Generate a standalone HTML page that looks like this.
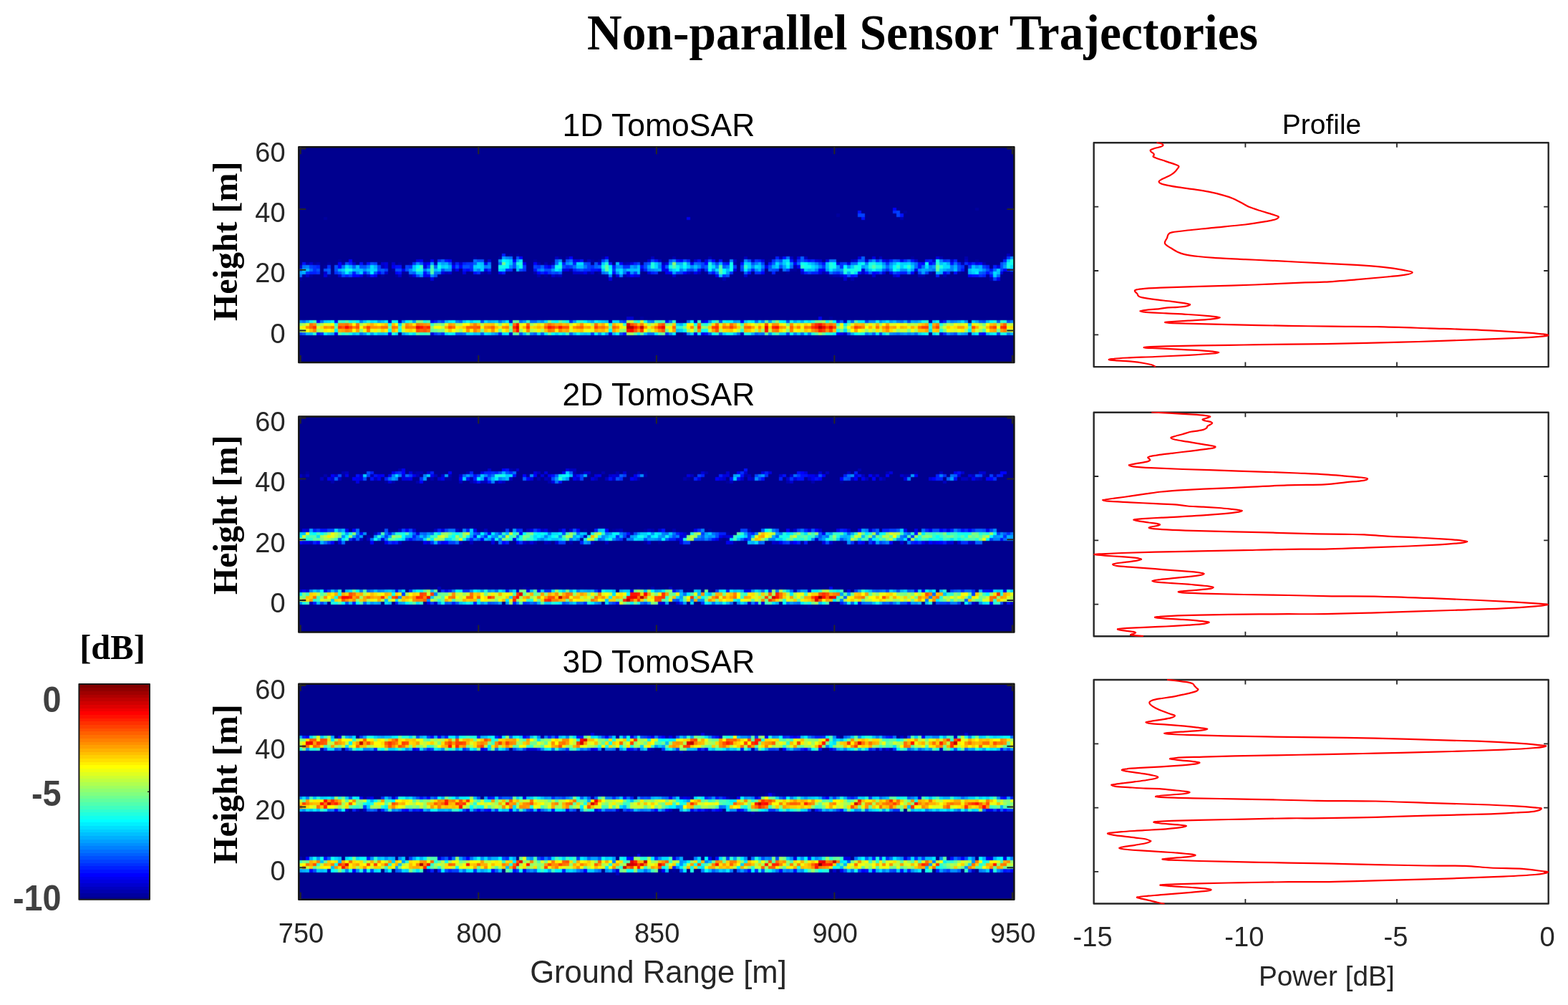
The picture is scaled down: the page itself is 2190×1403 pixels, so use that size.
<!DOCTYPE html>
<html lang="en"><head><meta charset="utf-8"><title>Non-parallel Sensor Trajectories</title>
<style>html,body{margin:0;padding:0;background:#fff}body{width:2190px;height:1403px;overflow:hidden}svg{display:block}.s{font-family:"Liberation Sans", Arial, Helvetica, sans-serif}.t{font-family:"Liberation Serif", "Times New Roman", Times, serif;font-weight:bold}</style></head><body>
<svg width="2190" height="1403" viewBox="0 0 2190 1403">
<rect width="2190" height="1403" fill="#fff"/>
<defs><filter id="soft" x="-2%" y="-20%" width="104%" height="140%" color-interpolation-filters="sRGB"><feConvolveMatrix order="3" kernelMatrix="0.0225 0.105 0.0225 0.105 0.49 0.105 0.0225 0.105 0.0225" divisor="1" edgeMode="none"/></filter></defs>
<text class="t" x="820" y="68.5" font-size="69" textLength="937" lengthAdjust="spacingAndGlyphs" fill="#000">Non-parallel Sensor Trajectories</text>
<g>
<rect x="417.3" y="205.3" width="999.1" height="300.7" fill="#00008f"/>
<g filter="url(#soft)"><g transform="translate(417.30 205.30) scale(4.9706 4.2352)" shape-rendering="crispEdges">
<path fill="#00009f" d="M190 20h1v1h-1zM170 21h1v1h-1zM151 22h1v1h-1zM7 23h1v1h-1zM59 35h1v1h-1zM61 35h1v1h-1zM49 36h1v1h-1zM56 36h1v1h-1zM73 36h1v1h-1zM85 36h1v1h-1zM172 36h1v1h-1zM198 36h1v1h-1zM11 37h1v1h-1zM66 37h1v1h-1zM82 37h1v1h-1zM84 37h1v1h-1zM124 37h1v1h-1zM132 37h1v1h-1zM190 37h1v1h-1zM4 38h1v1h-1zM8 38h1v1h-1zM18 38h1v1h-1zM28 38h1v1h-1zM31 38h1v1h-1zM7 39h1v1h-1zM26 40h1v1h-1zM138 40h2v1h-2zM29 41h2v1h-2zM52 41h1v1h-1zM84 41h1v1h-1zM114 41h1v1h-1zM137 41h1v1h-1zM185 41h1v1h-1zM200 41h1v1h-1zM1 42h1v1h-1zM3 42h1v1h-1zM8 42h1v1h-1zM18 42h1v1h-1zM23 42h1v1h-1zM27 42h1v1h-1zM69 42h1v1h-1zM86 42h1v1h-1zM149 42h1v1h-1zM193 42h1v1h-1zM0 43h1v1h-1zM96 56h1v1h-1zM149 56h1v1h-1zM107 57h1v1h-1zM188 61h1v1h-1z"/>
<path fill="#0000af" d="M169 23h1v1h-1zM75 36h1v1h-1zM105 36h1v1h-1zM115 36h1v1h-1zM135 36h1v1h-1zM180 36h1v1h-1zM187 36h1v1h-1zM139 37h1v1h-1zM2 38h1v1h-1zM5 38h1v1h-1zM12 38h1v1h-1zM67 38h1v1h-1zM69 38h1v1h-1zM71 38h1v1h-1zM91 38h1v1h-1zM122 38h1v1h-1zM186 38h1v1h-1zM192 38h1v1h-1zM139 39h1v1h-1zM43 40h1v1h-1zM76 40h1v1h-1zM113 40h1v1h-1zM51 41h1v1h-1zM66 41h1v1h-1zM81 41h1v1h-1zM110 41h1v1h-1zM147 41h1v1h-1zM177 41h1v1h-1zM31 42h1v1h-1zM67 42h1v1h-1zM72 42h1v1h-1zM91 42h1v1h-1zM150 42h2v1h-2zM174 42h2v1h-2zM181 42h1v1h-1zM119 43h1v1h-1zM155 43h1v1h-1zM194 43h1v1h-1zM106 57h1v1h-1zM177 57h1v1h-1zM108 61h1v1h-1z"/>
<path fill="#0000bf" d="M199 35h1v1h-1zM72 36h1v1h-1zM99 36h1v1h-1zM125 36h1v1h-1zM138 36h1v1h-1zM142 36h1v1h-1zM163 36h1v1h-1zM81 37h1v1h-1zM101 37h1v1h-1zM122 37h1v1h-1zM127 37h1v1h-1zM155 37h1v1h-1zM187 37h1v1h-1zM38 38h1v1h-1zM43 38h1v1h-1zM92 38h1v1h-1zM102 38h1v1h-1zM23 39h1v1h-1zM41 41h1v1h-1zM53 41h1v1h-1zM112 41h1v1h-1zM19 42h1v1h-1zM73 42h1v1h-1zM87 57h1v1h-1zM111 57h1v1h-1zM153 57h1v1h-1zM124 61h1v1h-1zM153 61h1v1h-1z"/>
<path fill="#0000cf" d="M53 37h1v1h-1zM98 37h1v1h-1zM111 37h1v1h-1zM146 37h1v1h-1zM156 37h1v1h-1zM159 37h1v1h-1zM165 37h1v1h-1zM173 37h1v1h-1zM178 37h1v1h-1zM183 37h1v1h-1zM3 38h1v1h-1zM15 38h1v1h-1zM23 38h1v1h-1zM26 38h1v1h-1zM45 38h1v1h-1zM0 39h1v1h-1zM96 40h1v1h-1zM7 41h1v1h-1zM24 41h1v1h-1zM42 41h1v1h-1zM77 41h3v1h-3zM82 41h1v1h-1zM109 41h1v1h-1zM141 41h1v1h-1zM148 41h1v1h-1zM158 41h1v1h-1zM2 42h1v1h-1zM11 42h1v1h-1zM28 42h1v1h-1zM71 42h1v1h-1zM92 42h1v1h-1zM105 42h1v1h-1zM125 42h1v1h-1zM152 42h1v1h-1zM161 42h1v1h-1zM167 42h1v1h-1zM153 43h1v1h-1zM92 56h2v1h-2zM25 57h1v1h-1zM28 57h1v1h-1zM113 57h1v1h-1zM59 61h1v1h-1zM180 61h1v1h-1z"/>
<path fill="#0000df" d="M140 36h1v1h-1zM157 36h1v1h-1zM161 36h1v1h-1zM179 36h1v1h-1zM33 37h1v1h-1zM78 37h1v1h-1zM114 37h1v1h-1zM130 37h1v1h-1zM145 37h1v1h-1zM148 37h1v1h-1zM24 38h1v1h-1zM35 38h1v1h-1zM84 38h1v1h-1zM93 38h1v1h-1zM103 38h1v1h-1zM151 38h1v1h-1zM154 38h1v1h-1zM190 38h1v1h-1zM24 39h1v1h-1zM35 39h1v1h-1zM196 39h1v1h-1zM74 40h2v1h-2zM122 40h1v1h-1zM158 40h1v1h-1zM40 41h1v1h-1zM46 41h1v1h-1zM98 41h1v1h-1zM146 41h1v1h-1zM164 41h1v1h-1zM197 41h1v1h-1zM7 42h1v1h-1zM17 42h1v1h-1zM32 42h1v1h-1zM89 42h1v1h-1zM94 42h2v1h-2zM37 43h1v1h-1zM87 43h1v1h-1zM59 57h1v1h-1zM180 57h1v1h-1zM37 61h1v1h-1zM87 61h1v1h-1zM111 61h1v1h-1z"/>
<path fill="#0000ef" d="M109 23h1v1h-1zM86 36h1v1h-1zM34 37h1v1h-1zM37 37h1v1h-1zM77 37h1v1h-1zM164 37h1v1h-1zM169 37h1v1h-1zM52 38h1v1h-1zM63 38h1v1h-1zM110 38h1v1h-1zM188 38h1v1h-1zM26 39h1v1h-1zM70 39h1v1h-1zM102 39h1v1h-1zM131 39h1v1h-1zM140 39h1v1h-1zM29 40h1v1h-1zM44 40h1v1h-1zM52 40h1v1h-1zM102 40h2v1h-2zM147 40h1v1h-1zM173 40h1v1h-1zM56 41h1v1h-1zM80 41h1v1h-1zM92 41h1v1h-1zM103 41h1v1h-1zM111 41h1v1h-1zM166 41h1v1h-1zM181 41h1v1h-1zM21 42h1v1h-1zM35 42h2v1h-2zM117 42h1v1h-1zM153 42h1v1h-1zM168 42h1v1h-1zM196 43h1v1h-1zM146 56h1v1h-1zM37 57h1v1h-1zM10 61h1v1h-1zM113 61h1v1h-1zM152 61h1v1h-1z"/>
<path fill="#0000ff" d="M167 20h1v1h-1zM62 36h1v1h-1zM76 36h1v1h-1zM14 37h1v1h-1zM42 37h1v1h-1zM60 37h1v1h-1zM107 37h1v1h-1zM116 37h1v1h-1zM11 38h1v1h-1zM36 38h1v1h-1zM66 38h1v1h-1zM90 38h1v1h-1zM114 38h1v1h-1zM139 38h1v1h-1zM175 38h1v1h-1zM177 38h1v1h-1zM191 38h1v1h-1zM11 39h1v1h-1zM43 39h1v1h-1zM45 39h1v1h-1zM47 40h1v1h-1zM84 40h1v1h-1zM146 40h1v1h-1zM198 40h1v1h-1zM22 41h1v1h-1zM27 41h1v1h-1zM67 41h1v1h-1zM69 41h1v1h-1zM104 41h1v1h-1zM108 41h1v1h-1zM130 41h1v1h-1zM161 41h1v1h-1zM172 41h1v1h-1zM15 42h2v1h-2zM93 42h1v1h-1zM188 42h1v1h-1zM5 57h1v1h-1zM114 57h1v1h-1zM124 57h1v1h-1zM25 61h1v1h-1zM151 61h1v1h-1zM192 61h1v1h-1z"/>
<path fill="#0010ff" d="M157 21h1v1h-1zM169 22h1v1h-1zM158 23h1v1h-1zM136 36h1v1h-1zM41 37h1v1h-1zM79 37h1v1h-1zM100 37h1v1h-1zM106 37h1v1h-1zM112 37h1v1h-1zM118 37h1v1h-1zM138 37h1v1h-1zM143 37h1v1h-1zM172 37h1v1h-1zM176 37h1v1h-1zM1 38h1v1h-1zM17 38h1v1h-1zM19 38h1v1h-1zM120 38h1v1h-1zM124 38h1v1h-1zM132 38h1v1h-1zM147 38h1v1h-1zM174 38h1v1h-1zM183 38h1v1h-1zM27 39h2v1h-2zM69 39h1v1h-1zM96 39h1v1h-1zM174 39h1v1h-1zM46 40h1v1h-1zM66 40h1v1h-1zM82 40h2v1h-2zM112 40h1v1h-1zM141 40h1v1h-1zM186 40h1v1h-1zM194 40h1v1h-1zM28 41h1v1h-1zM35 41h1v1h-1zM49 41h1v1h-1zM88 41h1v1h-1zM116 41h1v1h-1zM126 41h1v1h-1zM157 41h1v1h-1zM159 41h1v1h-1zM162 41h1v1h-1zM184 41h1v1h-1zM193 41h1v1h-1zM20 42h1v1h-1zM155 42h1v1h-1zM189 42h2v1h-2zM194 42h1v1h-1zM10 57h1v1h-1zM103 57h1v1h-1zM5 61h1v1h-1zM91 61h1v1h-1zM114 61h1v1h-1zM191 61h1v1h-1z"/>
<path fill="#0020ff" d="M57 35h1v1h-1zM134 36h1v1h-1zM109 37h1v1h-1zM129 37h1v1h-1zM144 37h1v1h-1zM166 37h1v1h-1zM177 37h1v1h-1zM184 37h1v1h-1zM198 37h1v1h-1zM14 38h1v1h-1zM44 38h1v1h-1zM46 38h1v1h-1zM74 38h1v1h-1zM77 38h1v1h-1zM87 38h1v1h-1zM94 38h1v1h-1zM119 38h1v1h-1zM185 38h1v1h-1zM189 38h1v1h-1zM5 39h1v1h-1zM88 39h1v1h-1zM193 39h1v1h-1zM195 39h1v1h-1zM48 40h1v1h-1zM77 40h1v1h-1zM97 40h1v1h-1zM127 40h1v1h-1zM199 40h1v1h-1zM3 41h2v1h-2zM15 41h1v1h-1zM18 41h1v1h-1zM57 41h1v1h-1zM68 41h1v1h-1zM99 41h1v1h-1zM133 41h1v1h-1zM142 41h1v1h-1zM144 41h2v1h-2zM169 41h2v1h-2zM13 42h1v1h-1zM156 42h1v1h-1zM179 42h1v1h-1zM192 42h1v1h-1zM38 57h1v1h-1zM151 57h1v1h-1zM181 57h1v1h-1zM56 61h1v1h-1z"/>
<path fill="#0030ff" d="M167 21h1v1h-1zM199 36h1v1h-1zM39 37h1v1h-1zM128 37h1v1h-1zM133 37h1v1h-1zM140 37h1v1h-1zM142 37h1v1h-1zM162 37h1v1h-1zM170 37h1v1h-1zM181 37h1v1h-1zM32 38h1v1h-1zM47 38h2v1h-2zM152 38h1v1h-1zM165 38h1v1h-1zM178 38h1v1h-1zM187 38h1v1h-1zM4 39h1v1h-1zM8 39h1v1h-1zM31 39h1v1h-1zM48 39h1v1h-1zM67 39h1v1h-1zM75 39h1v1h-1zM82 39h1v1h-1zM91 39h2v1h-2zM152 39h1v1h-1zM186 39h1v1h-1zM4 40h1v1h-1zM53 40h1v1h-1zM58 40h2v1h-2zM63 40h1v1h-1zM80 40h2v1h-2zM114 40h1v1h-1zM165 40h1v1h-1zM2 41h1v1h-1zM5 41h1v1h-1zM10 41h1v1h-1zM50 41h1v1h-1zM70 41h1v1h-1zM100 41h1v1h-1zM121 41h1v1h-1zM128 41h2v1h-2zM151 41h1v1h-1zM168 41h1v1h-1zM182 41h1v1h-1zM119 42h1v1h-1zM191 42h1v1h-1zM76 57h1v1h-1zM6 61h1v1h-1zM40 61h1v1h-1zM103 61h1v1h-1zM181 61h1v1h-1z"/>
<path fill="#0040ff" d="M168 21h1v1h-1zM157 22h2v1h-2zM168 22h1v1h-1zM85 37h1v1h-1zM99 37h1v1h-1zM182 37h1v1h-1zM21 38h1v1h-1zM81 38h1v1h-1zM95 38h1v1h-1zM97 38h1v1h-1zM113 38h1v1h-1zM117 38h1v1h-1zM130 38h1v1h-1zM146 38h1v1h-1zM153 38h1v1h-1zM3 39h1v1h-1zM22 39h1v1h-1zM30 39h1v1h-1zM36 39h1v1h-1zM63 39h1v1h-1zM66 39h1v1h-1zM71 39h1v1h-1zM76 39h1v1h-1zM81 39h1v1h-1zM113 39h1v1h-1zM122 39h1v1h-1zM147 39h1v1h-1zM188 39h1v1h-1zM192 39h1v1h-1zM24 40h1v1h-1zM78 40h1v1h-1zM88 40h1v1h-1zM110 40h1v1h-1zM124 40h1v1h-1zM130 40h1v1h-1zM134 40h1v1h-1zM137 40h1v1h-1zM197 40h1v1h-1zM23 41h1v1h-1zM72 41h1v1h-1zM94 41h1v1h-1zM106 41h2v1h-2zM115 41h1v1h-1zM143 41h1v1h-1zM150 41h1v1h-1zM163 41h1v1h-1zM174 41h1v1h-1zM176 41h1v1h-1zM12 42h1v1h-1zM14 42h1v1h-1zM195 43h1v1h-1zM40 57h1v1h-1zM91 57h1v1h-1zM159 57h1v1h-1zM171 57h1v1h-1zM0 61h1v1h-1zM38 61h1v1h-1zM82 61h1v1h-1zM137 61h1v1h-1zM163 61h1v1h-1zM196 61h1v1h-1z"/>
<path fill="#0050ff" d="M61 36h1v1h-1zM50 37h2v1h-2zM75 37h1v1h-1zM104 37h1v1h-1zM108 37h1v1h-1zM115 37h1v1h-1zM126 37h1v1h-1zM135 37h1v1h-1zM168 37h1v1h-1zM13 38h1v1h-1zM20 38h1v1h-1zM34 38h1v1h-1zM60 38h1v1h-1zM80 38h1v1h-1zM83 38h1v1h-1zM127 38h1v1h-1zM197 38h1v1h-1zM10 39h1v1h-1zM17 39h2v1h-2zM44 39h1v1h-1zM46 39h2v1h-2zM60 39h1v1h-1zM74 39h1v1h-1zM97 39h1v1h-1zM124 39h1v1h-1zM132 39h1v1h-1zM135 39h1v1h-1zM185 39h1v1h-1zM197 39h1v1h-1zM5 40h1v1h-1zM7 40h1v1h-1zM10 40h1v1h-1zM22 40h1v1h-1zM27 40h2v1h-2zM30 40h1v1h-1zM40 40h1v1h-1zM62 40h1v1h-1zM69 40h2v1h-2zM79 40h1v1h-1zM109 40h1v1h-1zM133 40h1v1h-1zM185 40h1v1h-1zM193 40h1v1h-1zM8 41h1v1h-1zM11 41h1v1h-1zM21 41h1v1h-1zM71 41h1v1h-1zM167 41h1v1h-1zM192 41h1v1h-1zM194 41h1v1h-1zM33 42h1v1h-1zM38 42h1v1h-1zM120 42h1v1h-1zM154 42h1v1h-1zM51 57h1v1h-1zM118 57h1v1h-1zM137 57h1v1h-1zM192 57h1v1h-1zM199 57h1v1h-1zM62 61h1v1h-1zM90 61h1v1h-1zM118 61h1v1h-1zM154 61h1v1h-1zM184 61h1v1h-1z"/>
<path fill="#0060ff" d="M141 36h1v1h-1zM158 36h1v1h-1zM40 37h1v1h-1zM72 37h1v1h-1zM141 37h1v1h-1zM157 37h2v1h-2zM160 37h1v1h-1zM167 37h1v1h-1zM171 37h1v1h-1zM42 38h1v1h-1zM49 38h1v1h-1zM56 38h1v1h-1zM98 38h1v1h-1zM112 38h1v1h-1zM133 38h1v1h-1zM15 39h1v1h-1zM38 39h1v1h-1zM68 39h1v1h-1zM83 39h1v1h-1zM103 39h1v1h-1zM114 39h1v1h-1zM119 39h1v1h-1zM0 40h1v1h-1zM8 40h1v1h-1zM23 40h1v1h-1zM132 40h1v1h-1zM164 40h1v1h-1zM32 41h1v1h-1zM36 41h1v1h-1zM73 41h1v1h-1zM125 41h1v1h-1zM152 41h1v1h-1zM160 41h1v1h-1zM191 41h1v1h-1zM39 57h1v1h-1zM45 57h1v1h-1zM90 57h1v1h-1zM152 57h1v1h-1zM191 57h1v1h-1zM196 57h1v1h-1zM1 61h1v1h-1zM39 61h1v1h-1zM44 61h2v1h-2zM51 61h1v1h-1zM66 61h1v1h-1zM68 61h1v1h-1zM76 61h1v1h-1zM115 61h1v1h-1zM128 61h1v1h-1zM161 61h1v1h-1z"/>
<path fill="#0070ff" d="M59 36h1v1h-1zM137 36h1v1h-1zM49 37h1v1h-1zM76 37h1v1h-1zM134 37h1v1h-1zM149 37h2v1h-2zM163 37h1v1h-1zM53 38h1v1h-1zM72 38h1v1h-1zM111 38h1v1h-1zM140 38h1v1h-1zM155 38h2v1h-2zM173 38h1v1h-1zM184 38h1v1h-1zM1 39h1v1h-1zM12 39h1v1h-1zM77 39h1v1h-1zM84 39h1v1h-1zM138 39h1v1h-1zM165 39h1v1h-1zM173 39h1v1h-1zM175 39h1v1h-1zM3 40h1v1h-1zM35 40h1v1h-1zM67 40h1v1h-1zM136 40h1v1h-1zM178 40h1v1h-1zM195 40h1v1h-1zM200 40h1v1h-1zM19 41h1v1h-1zM31 41h1v1h-1zM38 41h2v1h-2zM85 41h1v1h-1zM91 41h1v1h-1zM117 41h1v1h-1zM149 41h1v1h-1zM0 42h1v1h-1zM196 42h1v1h-1zM1 57h1v1h-1zM6 57h1v1h-1zM56 57h1v1h-1zM62 57h1v1h-1zM65 57h2v1h-2zM104 57h1v1h-1zM109 57h1v1h-1zM128 57h1v1h-1zM155 57h1v1h-1zM169 57h1v1h-1zM17 61h1v1h-1zM46 61h1v1h-1zM98 61h2v1h-2zM123 61h1v1h-1zM130 61h1v1h-1zM141 61h1v1h-1zM168 61h1v1h-1zM173 61h1v1h-1zM183 61h1v1h-1z"/>
<path fill="#0080ff" d="M58 36h1v1h-1zM105 37h1v1h-1zM121 37h1v1h-1zM180 37h1v1h-1zM128 38h1v1h-1zM145 38h1v1h-1zM159 38h1v1h-1zM198 38h1v1h-1zM2 39h1v1h-1zM19 39h1v1h-1zM52 39h1v1h-1zM80 39h1v1h-1zM94 39h1v1h-1zM101 39h1v1h-1zM117 39h1v1h-1zM120 39h1v1h-1zM130 39h1v1h-1zM146 39h1v1h-1zM177 39h1v1h-1zM183 39h1v1h-1zM50 40h1v1h-1zM98 40h1v1h-1zM107 40h1v1h-1zM111 40h1v1h-1zM116 40h1v1h-1zM145 40h1v1h-1zM166 40h1v1h-1zM183 40h1v1h-1zM171 41h1v1h-1zM87 42h1v1h-1zM90 42h1v1h-1zM17 57h1v1h-1zM44 57h1v1h-1zM99 57h1v1h-1zM168 57h1v1h-1zM183 57h1v1h-1zM200 57h1v1h-1zM65 61h1v1h-1zM129 61h1v1h-1zM139 61h1v1h-1zM143 61h1v1h-1zM159 61h1v1h-1zM167 61h1v1h-1zM171 61h1v1h-1zM199 61h1v1h-1z"/>
<path fill="#008fff" d="M200 36h1v1h-1zM73 37h1v1h-1zM86 37h1v1h-1zM125 37h1v1h-1zM33 38h1v1h-1zM75 38h1v1h-1zM101 38h1v1h-1zM116 38h1v1h-1zM135 38h1v1h-1zM138 38h1v1h-1zM164 38h1v1h-1zM166 38h1v1h-1zM53 39h1v1h-1zM59 39h1v1h-1zM89 39h2v1h-2zM110 39h1v1h-1zM112 39h1v1h-1zM127 39h1v1h-1zM154 39h1v1h-1zM190 39h1v1h-1zM18 40h1v1h-1zM31 40h1v1h-1zM41 40h2v1h-2zM68 40h1v1h-1zM91 40h1v1h-1zM99 40h1v1h-1zM126 40h1v1h-1zM128 40h1v1h-1zM151 40h1v1h-1zM159 40h1v1h-1zM169 40h2v1h-2zM174 40h1v1h-1zM177 40h1v1h-1zM182 40h1v1h-1zM192 40h1v1h-1zM12 41h1v1h-1zM16 41h1v1h-1zM86 41h1v1h-1zM89 41h1v1h-1zM93 41h1v1h-1zM34 42h1v1h-1zM37 42h1v1h-1zM0 57h1v1h-1zM29 57h1v1h-1zM68 57h1v1h-1zM98 57h1v1h-1zM115 57h1v1h-1zM130 57h1v1h-1zM160 57h2v1h-2zM163 57h1v1h-1zM184 57h1v1h-1zM187 57h1v1h-1zM55 61h1v1h-1zM84 61h1v1h-1zM104 61h1v1h-1zM109 61h1v1h-1zM132 61h1v1h-1zM166 61h1v1h-1zM169 61h1v1h-1zM182 61h1v1h-1zM187 61h1v1h-1z"/>
<path fill="#009fff" d="M57 36h1v1h-1zM56 37h1v1h-1zM61 37h1v1h-1zM161 37h1v1h-1zM37 38h1v1h-1zM40 38h1v1h-1zM104 38h1v1h-1zM109 38h1v1h-1zM172 38h1v1h-1zM93 39h1v1h-1zM136 39h1v1h-1zM151 39h1v1h-1zM158 39h1v1h-1zM178 39h1v1h-1zM198 39h1v1h-1zM71 40h1v1h-1zM100 40h1v1h-1zM148 40h1v1h-1zM152 40h1v1h-1zM172 40h1v1h-1zM176 40h1v1h-1zM0 41h1v1h-1zM14 41h1v1h-1zM105 41h1v1h-1zM120 41h1v1h-1zM175 41h1v1h-1zM22 57h1v1h-1zM32 57h1v1h-1zM63 57h1v1h-1zM77 57h1v1h-1zM82 57h1v1h-1zM122 57h1v1h-1zM132 57h1v1h-1zM166 57h1v1h-1zM173 57h1v1h-1zM18 61h1v1h-1zM20 61h1v1h-1zM29 61h1v1h-1zM86 61h1v1h-1zM170 61h1v1h-1zM172 61h1v1h-1zM186 61h1v1h-1z"/>
<path fill="#00afff" d="M41 38h1v1h-1zM76 38h1v1h-1zM106 38h2v1h-2zM118 38h1v1h-1zM129 38h1v1h-1zM144 38h1v1h-1zM182 38h1v1h-1zM14 39h1v1h-1zM21 39h1v1h-1zM42 39h1v1h-1zM98 39h1v1h-1zM133 39h1v1h-1zM166 39h1v1h-1zM184 39h1v1h-1zM191 39h1v1h-1zM11 40h1v1h-1zM49 40h1v1h-1zM101 40h1v1h-1zM104 40h1v1h-1zM143 40h1v1h-1zM150 40h1v1h-1zM175 40h1v1h-1zM181 40h1v1h-1zM1 41h1v1h-1zM154 41h1v1h-1zM180 41h1v1h-1zM188 41h1v1h-1zM2 57h1v1h-1zM53 57h1v1h-1zM57 57h1v1h-1zM67 57h1v1h-1zM123 57h1v1h-1zM139 57h1v1h-1zM141 57h1v1h-1zM170 57h1v1h-1zM172 57h1v1h-1zM182 57h1v1h-1zM185 57h1v1h-1zM190 57h1v1h-1zM107 58h1v1h-1zM9 61h1v1h-1zM54 61h1v1h-1zM127 61h1v1h-1zM155 61h1v1h-1zM160 61h1v1h-1zM200 61h1v1h-1z"/>
<path fill="#00bfff" d="M51 38h1v1h-1zM89 38h1v1h-1zM148 38h1v1h-1zM167 38h1v1h-1zM180 38h1v1h-1zM16 39h1v1h-1zM32 39h1v1h-1zM78 39h2v1h-2zM95 39h1v1h-1zM111 39h1v1h-1zM145 39h1v1h-1zM148 39h1v1h-1zM159 39h1v1h-1zM164 39h1v1h-1zM189 39h1v1h-1zM2 40h1v1h-1zM15 40h3v1h-3zM19 40h1v1h-1zM36 40h1v1h-1zM38 40h1v1h-1zM61 40h1v1h-1zM92 40h3v1h-3zM108 40h1v1h-1zM120 40h1v1h-1zM129 40h1v1h-1zM144 40h1v1h-1zM184 40h1v1h-1zM188 40h1v1h-1zM191 40h1v1h-1zM95 41h1v1h-1zM179 41h1v1h-1zM196 41h1v1h-1zM118 42h1v1h-1zM23 57h1v1h-1zM41 57h1v1h-1zM54 57h1v1h-1zM81 57h1v1h-1zM86 57h1v1h-1zM164 57h1v1h-1zM167 57h1v1h-1zM174 57h1v1h-1zM193 57h1v1h-1zM188 58h1v1h-1zM106 60h1v1h-1zM2 61h2v1h-2zM8 61h1v1h-1zM15 61h1v1h-1zM22 61h2v1h-2zM49 61h1v1h-1zM63 61h1v1h-1zM77 61h1v1h-1zM80 61h1v1h-1zM88 61h1v1h-1zM97 61h1v1h-1zM122 61h1v1h-1zM185 61h1v1h-1zM193 61h1v1h-1z"/>
<path fill="#00cfff" d="M59 37h1v1h-1zM136 37h1v1h-1zM199 37h1v1h-1zM39 38h1v1h-1zM50 38h1v1h-1zM59 38h1v1h-1zM85 38h1v1h-1zM100 38h1v1h-1zM126 38h1v1h-1zM136 38h1v1h-1zM143 38h1v1h-1zM169 38h2v1h-2zM40 39h1v1h-1zM49 39h1v1h-1zM51 39h1v1h-1zM61 39h1v1h-1zM107 39h1v1h-1zM109 39h1v1h-1zM129 39h1v1h-1zM134 39h1v1h-1zM155 39h1v1h-1zM169 39h1v1h-1zM172 39h1v1h-1zM1 40h1v1h-1zM12 40h1v1h-1zM21 40h1v1h-1zM32 40h1v1h-1zM51 40h1v1h-1zM57 40h1v1h-1zM73 40h1v1h-1zM85 40h1v1h-1zM89 40h1v1h-1zM95 40h1v1h-1zM142 40h1v1h-1zM160 40h1v1h-1zM162 40h2v1h-2zM180 40h1v1h-1zM196 40h1v1h-1zM17 41h1v1h-1zM33 41h2v1h-2zM189 41h1v1h-1zM195 42h1v1h-1zM7 57h1v1h-1zM18 57h1v1h-1zM46 57h1v1h-1zM48 57h1v1h-1zM55 57h1v1h-1zM85 57h1v1h-1zM125 57h1v1h-1zM154 57h1v1h-1zM178 57h1v1h-1zM28 58h1v1h-1zM106 58h1v1h-1zM107 60h1v1h-1zM24 61h1v1h-1zM30 61h1v1h-1zM50 61h1v1h-1zM72 61h1v1h-1zM79 61h1v1h-1zM81 61h1v1h-1zM110 61h1v1h-1zM119 61h1v1h-1zM135 61h2v1h-2zM140 61h1v1h-1zM174 61h1v1h-1zM189 61h1v1h-1z"/>
<path fill="#00dfff" d="M62 37h1v1h-1zM137 37h1v1h-1zM78 38h2v1h-2zM125 38h1v1h-1zM134 38h1v1h-1zM162 38h2v1h-2zM171 38h1v1h-1zM181 38h1v1h-1zM13 39h1v1h-1zM20 39h1v1h-1zM41 39h1v1h-1zM50 39h1v1h-1zM100 39h1v1h-1zM116 39h1v1h-1zM126 39h1v1h-1zM128 39h1v1h-1zM144 39h1v1h-1zM176 39h1v1h-1zM181 39h2v1h-2zM200 39h1v1h-1zM20 40h1v1h-1zM39 40h1v1h-1zM56 40h1v1h-1zM90 40h1v1h-1zM105 40h1v1h-1zM117 40h1v1h-1zM168 40h1v1h-1zM171 40h1v1h-1zM189 40h2v1h-2zM90 41h1v1h-1zM156 41h1v1h-1zM195 41h1v1h-1zM8 57h1v1h-1zM20 57h1v1h-1zM52 57h1v1h-1zM69 57h1v1h-1zM84 57h1v1h-1zM88 57h2v1h-2zM129 57h1v1h-1zM140 57h1v1h-1zM143 57h1v1h-1zM186 57h1v1h-1zM189 57h1v1h-1zM153 60h1v1h-1zM177 60h1v1h-1zM16 61h1v1h-1zM27 61h1v1h-1zM32 61h1v1h-1zM41 61h1v1h-1zM47 61h2v1h-2zM53 61h1v1h-1zM57 61h1v1h-1zM67 61h1v1h-1zM74 61h1v1h-1zM164 61h1v1h-1zM178 61h1v1h-1z"/>
<path fill="#00efff" d="M58 37h1v1h-1zM157 38h1v1h-1zM87 39h1v1h-1zM137 39h1v1h-1zM72 40h1v1h-1zM125 40h1v1h-1zM149 40h1v1h-1zM13 41h1v1h-1zM20 41h1v1h-1zM190 41h1v1h-1zM21 57h1v1h-1zM24 57h1v1h-1zM42 57h1v1h-1zM58 57h1v1h-1zM110 57h1v1h-1zM120 57h1v1h-1zM127 57h1v1h-1zM136 57h1v1h-1zM157 57h2v1h-2zM165 57h1v1h-1zM153 58h1v1h-1zM177 58h1v1h-1zM10 60h1v1h-1zM188 60h1v1h-1zM7 61h1v1h-1zM21 61h1v1h-1zM43 61h1v1h-1zM52 61h1v1h-1zM58 61h1v1h-1zM69 61h1v1h-1zM95 61h1v1h-1zM100 61h1v1h-1zM105 61h1v1h-1zM112 61h1v1h-1zM142 61h1v1h-1zM150 61h1v1h-1zM162 61h1v1h-1zM175 61h1v1h-1zM190 61h1v1h-1zM194 61h1v1h-1z"/>
<path fill="#00ffff" d="M57 37h1v1h-1zM58 38h1v1h-1zM73 38h1v1h-1zM142 38h1v1h-1zM150 38h1v1h-1zM168 38h1v1h-1zM33 39h1v1h-1zM58 39h1v1h-1zM108 39h1v1h-1zM153 39h1v1h-1zM167 39h1v1h-1zM170 39h1v1h-1zM106 40h1v1h-1zM115 40h1v1h-1zM119 40h1v1h-1zM87 41h1v1h-1zM16 57h1v1h-1zM27 57h1v1h-1zM30 57h1v1h-1zM43 57h1v1h-1zM72 57h1v1h-1zM80 57h1v1h-1zM121 57h1v1h-1zM135 57h1v1h-1zM150 57h1v1h-1zM194 57h1v1h-1zM25 60h1v1h-1zM28 60h1v1h-1zM87 60h1v1h-1zM19 61h1v1h-1zM42 61h1v1h-1zM71 61h1v1h-1zM78 61h1v1h-1zM83 61h1v1h-1zM85 61h1v1h-1zM89 61h1v1h-1zM116 61h1v1h-1zM120 61h1v1h-1zM138 61h1v1h-1zM156 61h1v1h-1zM195 61h1v1h-1z"/>
<path fill="#10ffef" d="M179 37h1v1h-1zM121 38h1v1h-1zM137 38h1v1h-1zM141 38h1v1h-1zM158 38h1v1h-1zM160 38h1v1h-1zM176 38h1v1h-1zM199 38h2v1h-2zM39 39h1v1h-1zM56 39h2v1h-2zM62 39h1v1h-1zM72 39h1v1h-1zM85 39h1v1h-1zM104 39h1v1h-1zM106 39h1v1h-1zM121 39h1v1h-1zM142 39h2v1h-2zM150 39h1v1h-1zM157 39h1v1h-1zM14 40h1v1h-1zM87 40h1v1h-1zM121 40h1v1h-1zM154 40h2v1h-2zM157 40h1v1h-1zM161 40h1v1h-1zM167 40h1v1h-1zM119 41h1v1h-1zM3 57h1v1h-1zM9 57h1v1h-1zM14 57h1v1h-1zM26 57h1v1h-1zM47 57h1v1h-1zM49 57h1v1h-1zM75 57h1v1h-1zM83 57h1v1h-1zM95 57h1v1h-1zM116 57h1v1h-1zM119 57h1v1h-1zM126 57h1v1h-1zM138 57h1v1h-1zM142 57h1v1h-1zM148 57h1v1h-1zM162 57h1v1h-1zM175 57h1v1h-1zM179 57h1v1h-1zM25 58h1v1h-1zM108 58h1v1h-1zM111 58h1v1h-1zM108 60h1v1h-1zM113 60h2v1h-2zM151 60h1v1h-1zM14 61h1v1h-1zM31 61h1v1h-1zM73 61h1v1h-1zM121 61h1v1h-1zM126 61h1v1h-1zM158 61h1v1h-1zM176 61h1v1h-1zM197 61h2v1h-2z"/>
<path fill="#20ffdf" d="M200 37h1v1h-1zM61 38h2v1h-2zM86 38h1v1h-1zM99 38h1v1h-1zM108 38h1v1h-1zM115 38h1v1h-1zM149 38h1v1h-1zM161 38h1v1h-1zM73 39h1v1h-1zM99 39h1v1h-1zM115 39h1v1h-1zM149 39h1v1h-1zM156 39h1v1h-1zM160 39h1v1h-1zM162 39h2v1h-2zM180 39h1v1h-1zM199 39h1v1h-1zM13 40h1v1h-1zM34 40h1v1h-1zM156 40h1v1h-1zM153 41h1v1h-1zM155 41h1v1h-1zM19 57h1v1h-1zM35 57h1v1h-1zM50 57h1v1h-1zM71 57h1v1h-1zM78 57h1v1h-1zM97 57h1v1h-1zM144 57h1v1h-1zM195 57h1v1h-1zM198 57h1v1h-1zM10 58h1v1h-1zM87 58h1v1h-1zM114 58h1v1h-1zM180 58h1v1h-1zM180 60h1v1h-1zM12 61h1v1h-1zM26 61h1v1h-1zM125 61h1v1h-1zM133 61h1v1h-1zM144 61h1v1h-1zM148 61h2v1h-2zM157 61h1v1h-1zM179 61h1v1h-1z"/>
<path fill="#30ffcf" d="M179 38h1v1h-1zM125 39h1v1h-1zM141 39h1v1h-1zM168 39h1v1h-1zM171 39h1v1h-1zM33 40h1v1h-1zM153 40h1v1h-1zM12 57h1v1h-1zM15 57h1v1h-1zM31 57h1v1h-1zM64 57h1v1h-1zM74 57h1v1h-1zM79 57h1v1h-1zM101 57h1v1h-1zM105 57h1v1h-1zM176 57h1v1h-1zM197 57h1v1h-1zM37 58h1v1h-1zM59 58h1v1h-1zM113 58h1v1h-1zM151 58h1v1h-1zM106 59h2v1h-2zM177 59h1v1h-1zM124 60h1v1h-1zM4 61h1v1h-1zM34 61h2v1h-2zM117 61h1v1h-1zM165 61h1v1h-1z"/>
<path fill="#40ffbf" d="M34 39h1v1h-1zM37 39h1v1h-1zM4 57h1v1h-1zM11 57h1v1h-1zM36 57h1v1h-1zM94 57h1v1h-1zM100 57h1v1h-1zM112 57h1v1h-1zM133 57h1v1h-1zM91 58h1v1h-1zM124 58h1v1h-1zM28 59h1v1h-1zM13 61h1v1h-1zM36 61h1v1h-1zM64 61h1v1h-1zM75 61h1v1h-1z"/>
<path fill="#50ffaf" d="M105 39h1v1h-1zM118 39h1v1h-1zM161 39h1v1h-1zM37 40h1v1h-1zM37 41h1v1h-1zM118 41h1v1h-1zM102 57h1v1h-1zM117 57h1v1h-1zM156 57h1v1h-1zM153 59h1v1h-1zM188 59h1v1h-1zM192 60h1v1h-1zM11 61h1v1h-1zM60 61h1v1h-1zM101 61h1v1h-1zM134 61h1v1h-1zM145 61h1v1h-1z"/>
<path fill="#60ff9f" d="M86 39h1v1h-1zM86 40h1v1h-1zM118 40h1v1h-1zM179 40h1v1h-1zM13 57h1v1h-1zM60 57h1v1h-1zM73 57h1v1h-1zM131 57h1v1h-1zM37 60h1v1h-1zM59 60h1v1h-1zM33 61h1v1h-1zM70 61h1v1h-1zM94 61h1v1h-1zM96 61h1v1h-1zM131 61h1v1h-1zM147 61h1v1h-1z"/>
<path fill="#70ff8f" d="M57 38h1v1h-1zM179 39h1v1h-1zM61 57h1v1h-1zM70 57h1v1h-1zM145 57h1v1h-1zM149 57h1v1h-1zM40 58h1v1h-1zM137 58h1v1h-1zM192 58h1v1h-1zM10 59h1v1h-1zM38 60h1v1h-1zM56 60h1v1h-1zM103 60h1v1h-1zM111 60h1v1h-1zM152 60h1v1h-1zM196 60h1v1h-1zM61 61h1v1h-1zM102 61h1v1h-1z"/>
<path fill="#80ff80" d="M33 57h2v1h-2zM146 57h1v1h-1zM5 58h1v1h-1zM56 58h1v1h-1zM103 58h1v1h-1zM115 58h1v1h-1zM154 58h1v1h-1zM181 58h1v1h-1zM25 59h1v1h-1zM87 59h1v1h-1zM108 59h1v1h-1zM180 59h1v1h-1zM40 60h1v1h-1zM51 60h1v1h-1zM171 60h1v1h-1zM181 60h1v1h-1z"/>
<path fill="#8fff70" d="M105 38h1v1h-1zM134 57h1v1h-1zM0 58h1v1h-1zM38 58h1v1h-1zM37 59h1v1h-1zM111 59h1v1h-1zM114 59h1v1h-1zM124 59h1v1h-1zM17 60h1v1h-1zM39 60h1v1h-1zM91 60h1v1h-1zM137 60h1v1h-1zM154 60h1v1h-1z"/>
<path fill="#9fff60" d="M147 57h1v1h-1zM39 58h1v1h-1zM65 58h1v1h-1zM98 58h1v1h-1zM104 58h1v1h-1zM163 58h1v1h-1zM183 58h1v1h-1zM196 58h1v1h-1zM59 59h1v1h-1zM113 59h1v1h-1zM151 59h1v1h-1zM0 60h1v1h-1zM5 60h1v1h-1zM45 60h1v1h-1zM62 60h1v1h-1zM90 60h1v1h-1zM98 60h1v1h-1zM130 60h1v1h-1zM159 60h1v1h-1zM168 60h1v1h-1zM187 60h1v1h-1zM191 60h1v1h-1zM199 60h1v1h-1zM92 61h2v1h-2zM146 61h1v1h-1z"/>
<path fill="#afff50" d="M92 57h1v1h-1zM1 58h1v1h-1zM6 58h1v1h-1zM17 58h1v1h-1zM44 58h2v1h-2zM51 58h1v1h-1zM82 58h1v1h-1zM159 58h1v1h-1zM171 58h1v1h-1zM173 58h1v1h-1zM191 58h1v1h-1zM199 58h1v1h-1zM65 60h1v1h-1zM68 60h1v1h-1zM109 60h1v1h-1zM118 60h1v1h-1zM128 60h1v1h-1zM161 60h1v1h-1zM173 60h1v1h-1z"/>
<path fill="#bfff40" d="M93 57h1v1h-1zM29 58h1v1h-1zM76 58h1v1h-1zM128 58h1v1h-1zM172 58h1v1h-1zM182 58h1v1h-1zM200 58h1v1h-1zM192 59h1v1h-1zM6 60h1v1h-1zM123 60h1v1h-1zM132 60h1v1h-1zM163 60h1v1h-1z"/>
<path fill="#cfff30" d="M96 57h1v1h-1zM66 58h1v1h-1zM99 58h1v1h-1zM118 58h1v1h-1zM123 58h1v1h-1zM161 58h1v1h-1zM185 58h1v1h-1zM40 59h1v1h-1zM181 59h1v1h-1zM1 60h1v1h-1zM22 60h1v1h-1zM29 60h1v1h-1zM44 60h1v1h-1zM66 60h1v1h-1zM76 60h1v1h-1zM115 60h1v1h-1zM141 60h1v1h-1zM169 60h2v1h-2zM184 60h1v1h-1zM190 60h1v1h-1z"/>
<path fill="#dfff20" d="M2 58h1v1h-1zM8 58h1v1h-1zM18 58h1v1h-1zM41 58h1v1h-1zM55 58h1v1h-1zM62 58h1v1h-1zM68 58h1v1h-1zM139 58h1v1h-1zM141 58h1v1h-1zM155 58h1v1h-1zM166 58h2v1h-2zM169 58h1v1h-1zM186 58h1v1h-1zM190 58h1v1h-1zM5 59h1v1h-1zM91 59h1v1h-1zM103 59h1v1h-1zM137 59h1v1h-1zM152 59h1v1h-1zM191 59h1v1h-1zM20 60h1v1h-1zM41 60h1v1h-1zM82 60h1v1h-1zM99 60h1v1h-1zM158 60h1v1h-1zM160 60h1v1h-1zM167 60h1v1h-1zM183 60h1v1h-1zM200 60h1v1h-1z"/>
<path fill="#efff10" d="M7 58h1v1h-1zM57 58h1v1h-1zM90 58h1v1h-1zM110 58h1v1h-1zM130 58h1v1h-1zM136 58h1v1h-1zM152 58h1v1h-1zM170 58h1v1h-1zM184 58h1v1h-1zM187 58h1v1h-1zM0 59h1v1h-1zM196 59h1v1h-1zM18 60h1v1h-1zM46 60h1v1h-1zM57 60h1v1h-1zM63 60h1v1h-1zM80 60h2v1h-2zM104 60h1v1h-1zM110 60h1v1h-1zM136 60h1v1h-1zM139 60h1v1h-1zM172 60h1v1h-1zM182 60h1v1h-1zM185 60h1v1h-1z"/>
<path fill="#ffff00" d="M9 58h1v1h-1zM15 58h1v1h-1zM22 58h1v1h-1zM27 58h1v1h-1zM46 58h2v1h-2zM63 58h1v1h-1zM77 58h1v1h-1zM81 58h1v1h-1zM86 58h1v1h-1zM109 58h1v1h-1zM127 58h1v1h-1zM132 58h1v1h-1zM164 58h1v1h-1zM168 58h1v1h-1zM193 58h1v1h-1zM17 59h1v1h-1zM38 59h2v1h-2zM154 59h1v1h-1zM159 59h1v1h-1zM2 60h1v1h-1zM8 60h1v1h-1zM15 60h1v1h-1zM43 60h1v1h-1zM97 60h1v1h-1zM122 60h1v1h-1zM155 60h1v1h-1zM157 60h1v1h-1zM193 60h1v1h-1z"/>
<path fill="#ffef00" d="M32 58h1v1h-1zM80 58h1v1h-1zM97 58h1v1h-1zM135 58h1v1h-1zM143 58h1v1h-1zM160 58h1v1h-1zM189 58h1v1h-1zM1 59h1v1h-1zM44 59h1v1h-1zM51 59h1v1h-1zM56 59h1v1h-1zM62 59h1v1h-1zM76 59h1v1h-1zM90 59h1v1h-1zM98 59h1v1h-1zM104 59h1v1h-1zM109 59h1v1h-1zM128 59h1v1h-1zM141 59h1v1h-1zM161 59h1v1h-1zM168 59h1v1h-1zM171 59h1v1h-1zM183 59h1v1h-1zM199 59h1v1h-1zM7 60h1v1h-1zM9 60h1v1h-1zM21 60h1v1h-1zM24 60h1v1h-1zM32 60h1v1h-1zM48 60h1v1h-1zM55 60h1v1h-1zM67 60h1v1h-1zM72 60h1v1h-1zM127 60h1v1h-1zM140 60h1v1h-1zM186 60h1v1h-1z"/>
<path fill="#ffdf00" d="M21 58h1v1h-1zM23 58h1v1h-1zM58 58h1v1h-1zM67 58h1v1h-1zM89 58h1v1h-1zM100 58h1v1h-1zM116 58h1v1h-1zM120 58h1v1h-1zM126 58h1v1h-1zM129 58h1v1h-1zM140 58h1v1h-1zM174 58h1v1h-1zM6 59h1v1h-1zM29 59h1v1h-1zM45 59h1v1h-1zM65 59h1v1h-1zM82 59h1v1h-1zM118 59h1v1h-1zM130 59h1v1h-1zM163 59h1v1h-1zM173 59h1v1h-1zM184 59h1v1h-1zM187 59h1v1h-1zM200 59h1v1h-1zM27 60h1v1h-1zM30 60h1v1h-1zM53 60h1v1h-1zM77 60h1v1h-1zM86 60h1v1h-1zM119 60h1v1h-1zM135 60h1v1h-1zM143 60h1v1h-1zM162 60h1v1h-1zM166 60h1v1h-1z"/>
<path fill="#ffcf00" d="M19 58h1v1h-1zM52 58h2v1h-2zM78 58h1v1h-1zM84 58h1v1h-1zM105 58h1v1h-1zM142 58h1v1h-1zM66 59h1v1h-1zM68 59h1v1h-1zM115 59h1v1h-1zM123 59h1v1h-1zM132 59h1v1h-1zM182 59h1v1h-1zM23 60h1v1h-1zM31 60h1v1h-1zM58 60h1v1h-1zM78 60h1v1h-1zM89 60h1v1h-1zM120 60h1v1h-1zM178 60h1v1h-1z"/>
<path fill="#ffbf00" d="M24 58h1v1h-1zM26 58h1v1h-1zM48 58h1v1h-1zM50 58h1v1h-1zM54 58h1v1h-1zM74 58h1v1h-1zM95 58h1v1h-1zM125 58h1v1h-1zM157 58h1v1h-1zM175 58h1v1h-1zM194 58h1v1h-1zM46 59h1v1h-1zM55 59h1v1h-1zM99 59h1v1h-1zM139 59h1v1h-1zM170 59h1v1h-1zM193 59h1v1h-1zM3 60h1v1h-1zM42 60h1v1h-1zM52 60h1v1h-1zM69 60h1v1h-1zM79 60h1v1h-1zM84 60h1v1h-1zM100 60h1v1h-1zM121 60h1v1h-1zM126 60h1v1h-1zM129 60h1v1h-1zM142 60h1v1h-1zM150 60h1v1h-1zM164 60h1v1h-1zM174 60h2v1h-2zM179 60h1v1h-1zM189 60h1v1h-1z"/>
<path fill="#ffaf00" d="M20 58h1v1h-1zM31 58h1v1h-1zM43 58h1v1h-1zM72 58h1v1h-1zM75 58h1v1h-1zM85 58h1v1h-1zM88 58h1v1h-1zM119 58h1v1h-1zM122 58h1v1h-1zM156 58h1v1h-1zM158 58h1v1h-1zM162 58h1v1h-1zM178 58h1v1h-1zM195 58h1v1h-1zM41 59h1v1h-1zM63 59h1v1h-1zM67 59h1v1h-1zM80 59h1v1h-1zM155 59h1v1h-1zM160 59h1v1h-1zM166 59h1v1h-1zM169 59h1v1h-1zM172 59h1v1h-1zM190 59h1v1h-1zM11 60h1v1h-1zM26 60h1v1h-1zM50 60h1v1h-1zM74 60h1v1h-1zM85 60h1v1h-1zM125 60h1v1h-1zM194 60h1v1h-1z"/>
<path fill="#ff9f00" d="M14 58h1v1h-1zM36 58h1v1h-1zM42 58h1v1h-1zM69 58h1v1h-1zM73 58h1v1h-1zM165 58h1v1h-1zM176 58h1v1h-1zM197 58h1v1h-1zM8 59h1v1h-1zM22 59h1v1h-1zM81 59h1v1h-1zM86 59h1v1h-1zM127 59h1v1h-1zM136 59h1v1h-1zM167 59h1v1h-1zM185 59h2v1h-2zM12 60h1v1h-1zM16 60h1v1h-1zM75 60h1v1h-1zM83 60h1v1h-1zM88 60h1v1h-1zM95 60h1v1h-1zM105 60h1v1h-1zM116 60h1v1h-1zM156 60h1v1h-1zM176 60h1v1h-1zM195 60h1v1h-1zM197 60h1v1h-1z"/>
<path fill="#ff8f00" d="M4 58h1v1h-1zM30 58h1v1h-1zM35 58h1v1h-1zM71 58h1v1h-1zM79 58h1v1h-1zM133 58h2v1h-2zM138 58h1v1h-1zM148 58h1v1h-1zM150 58h1v1h-1zM2 59h1v1h-1zM7 59h1v1h-1zM18 59h1v1h-1zM20 59h2v1h-2zM52 59h1v1h-1zM57 59h1v1h-1zM77 59h1v1h-1zM97 59h1v1h-1zM135 59h1v1h-1zM164 59h1v1h-1zM14 60h1v1h-1zM47 60h1v1h-1zM54 60h1v1h-1zM112 60h1v1h-1zM144 60h1v1h-1zM148 60h1v1h-1zM165 60h1v1h-1z"/>
<path fill="#ff8000" d="M11 58h2v1h-2zM34 58h1v1h-1zM49 58h1v1h-1zM96 58h1v1h-1zM179 58h1v1h-1zM9 59h1v1h-1zM15 59h1v1h-1zM27 59h1v1h-1zM31 59h2v1h-2zM53 59h1v1h-1zM58 59h1v1h-1zM84 59h1v1h-1zM89 59h1v1h-1zM110 59h1v1h-1zM120 59h1v1h-1zM122 59h1v1h-1zM129 59h1v1h-1zM140 59h1v1h-1zM143 59h1v1h-1zM158 59h1v1h-1zM178 59h1v1h-1zM4 60h1v1h-1zM13 60h1v1h-1zM49 60h1v1h-1zM64 60h1v1h-1zM71 60h1v1h-1zM73 60h1v1h-1zM101 60h1v1h-1zM133 60h1v1h-1zM138 60h1v1h-1zM198 60h1v1h-1z"/>
<path fill="#ff7000" d="M3 58h1v1h-1zM13 58h1v1h-1zM16 58h1v1h-1zM33 58h1v1h-1zM60 58h1v1h-1zM70 58h1v1h-1zM83 58h1v1h-1zM94 58h1v1h-1zM101 58h1v1h-1zM112 58h1v1h-1zM121 58h1v1h-1zM144 58h1v1h-1zM149 58h1v1h-1zM23 59h2v1h-2zM26 59h1v1h-1zM30 59h1v1h-1zM43 59h1v1h-1zM78 59h1v1h-1zM85 59h1v1h-1zM100 59h1v1h-1zM119 59h1v1h-1zM125 59h1v1h-1zM142 59h1v1h-1zM162 59h1v1h-1zM174 59h1v1h-1zM19 60h1v1h-1zM36 60h1v1h-1zM60 60h1v1h-1zM70 60h1v1h-1zM134 60h1v1h-1zM145 60h1v1h-1z"/>
<path fill="#ff6000" d="M64 58h1v1h-1zM117 58h1v1h-1zM198 58h1v1h-1zM3 59h1v1h-1zM47 59h3v1h-3zM54 59h1v1h-1zM69 59h1v1h-1zM72 59h1v1h-1zM79 59h1v1h-1zM88 59h1v1h-1zM105 59h1v1h-1zM126 59h1v1h-1zM138 59h1v1h-1zM157 59h1v1h-1zM165 59h1v1h-1zM194 59h1v1h-1zM34 60h1v1h-1z"/>
<path fill="#ff5000" d="M93 58h1v1h-1zM102 58h1v1h-1zM131 58h1v1h-1zM147 58h1v1h-1zM12 59h1v1h-1zM16 59h1v1h-1zM42 59h1v1h-1zM50 59h1v1h-1zM74 59h2v1h-2zM95 59h1v1h-1zM189 59h1v1h-1zM33 60h1v1h-1zM35 60h1v1h-1zM94 60h1v1h-1zM102 60h1v1h-1zM117 60h1v1h-1z"/>
<path fill="#ff4000" d="M14 59h1v1h-1zM19 59h1v1h-1zM35 59h1v1h-1zM83 59h1v1h-1zM116 59h1v1h-1zM121 59h1v1h-1zM148 59h1v1h-1zM150 59h1v1h-1zM156 59h1v1h-1zM175 59h2v1h-2zM179 59h1v1h-1zM195 59h1v1h-1zM147 60h1v1h-1zM149 60h1v1h-1z"/>
<path fill="#ff3000" d="M145 58h1v1h-1zM4 59h1v1h-1zM11 59h1v1h-1zM64 59h1v1h-1zM71 59h1v1h-1zM112 59h1v1h-1zM117 59h1v1h-1zM144 59h1v1h-1zM197 59h1v1h-1zM96 60h1v1h-1z"/>
<path fill="#ff2000" d="M36 59h1v1h-1zM60 59h1v1h-1zM101 59h1v1h-1zM133 59h1v1h-1zM198 59h1v1h-1zM146 60h1v1h-1z"/>
<path fill="#ff1000" d="M61 58h1v1h-1zM146 58h1v1h-1zM34 59h1v1h-1zM70 59h1v1h-1zM73 59h1v1h-1zM94 59h1v1h-1zM134 59h1v1h-1zM145 59h1v1h-1zM92 60h1v1h-1zM131 60h1v1h-1z"/>
<path fill="#ff0000" d="M13 59h1v1h-1zM61 60h1v1h-1zM93 60h1v1h-1z"/>
<path fill="#ef0000" d="M33 59h1v1h-1zM102 59h1v1h-1zM131 59h1v1h-1zM147 59h1v1h-1zM149 59h1v1h-1z"/>
<path fill="#df0000" d="M92 58h1v1h-1z"/>
<path fill="#cf0000" d="M61 59h1v1h-1z"/>
<path fill="#bf0000" d="M96 59h1v1h-1z"/>
<path fill="#af0000" d="M92 59h2v1h-2zM146 59h1v1h-1z"/>
</g></g>
<rect x="417.3" y="205.3" width="999.1" height="300.7" fill="none" stroke="#151515" stroke-width="2.5" stroke-linejoin="round"/>
<text class="s" x="398.6" y="478.9" font-size="38" text-anchor="end" fill="#262626">0</text>
<text class="s" x="398.6" y="394.2" font-size="38" text-anchor="end" fill="#262626">20</text>
<text class="s" x="398.6" y="309.5" font-size="38" text-anchor="end" fill="#262626">40</text>
<text class="s" x="398.6" y="226" font-size="38" text-anchor="end" fill="#262626">60</text>
<path d="M419.8 506v-10M419.8 205.3v10M668.3 506v-10M668.3 205.3v10M916.9 506v-10M916.9 205.3v10M1165.4 506v-10M1165.4 205.3v10M1413.9 506v-10M1413.9 205.3v10M417.3 461.5h10M1416.4 461.5h-10M417.3 376.8h10M1416.4 376.8h-10M417.3 292.1h10M1416.4 292.1h-10M417.3 207.4h10M1416.4 207.4h-10" stroke="#262626" stroke-width="2" fill="none"/>
<text class="s" x="920" y="189.8" font-size="44.5" text-anchor="middle" fill="#000">1D TomoSAR</text>
<text class="t" transform="translate(331.3 336.8) rotate(-90)" font-size="48" text-anchor="middle" fill="#000">Height [m]</text>
</g>
<g>
<rect x="417.3" y="581.5" width="999.1" height="301" fill="#00008f"/>
<g filter="url(#soft)"><g transform="translate(417.30 581.50) scale(4.9706 4.2394)" shape-rendering="crispEdges">
<path fill="#00009f" d="M60 17h1v1h-1zM2 18h1v1h-1zM32 18h1v1h-1zM79 18h1v1h-1zM97 18h1v1h-1zM173 18h1v1h-1zM1 19h1v1h-1zM12 19h1v1h-1zM64 19h1v1h-1zM81 19h1v1h-1zM0 20h1v1h-1zM41 20h2v1h-2zM109 20h1v1h-1zM142 20h1v1h-1zM188 20h1v1h-1zM24 21h1v1h-1zM120 21h1v1h-1zM152 21h1v1h-1zM45 37h1v1h-1zM70 37h1v1h-1zM80 37h1v1h-1zM88 37h1v1h-1zM97 37h1v1h-1zM115 37h1v1h-1zM138 37h1v1h-1zM196 37h1v1h-1zM109 38h1v1h-1zM120 38h1v1h-1zM79 40h1v1h-1zM91 40h1v1h-1zM118 40h1v1h-1zM120 40h1v1h-1zM97 41h1v1h-1zM101 41h1v1h-1zM122 41h1v1h-1zM141 41h1v1h-1zM150 41h1v1h-1zM153 41h1v1h-1zM156 41h1v1h-1zM63 56h2v1h-2zM95 56h1v1h-1zM12 57h1v1h-1zM39 57h1v1h-1zM109 57h1v1h-1zM115 57h1v1h-1zM135 61h1v1h-1zM150 61h1v1h-1zM190 61h1v1h-1zM143 62h1v1h-1z"/>
<path fill="#0000af" d="M28 17h1v1h-1zM59 17h1v1h-1zM157 17h1v1h-1zM12 18h1v1h-1zM33 18h2v1h-2zM47 18h1v1h-1zM77 18h1v1h-1zM85 18h1v1h-1zM89 18h1v1h-1zM95 18h1v1h-1zM114 18h1v1h-1zM165 18h1v1h-1zM7 19h1v1h-1zM20 19h1v1h-1zM42 19h1v1h-1zM97 19h1v1h-1zM125 19h1v1h-1zM161 19h1v1h-1zM170 19h2v1h-2zM192 19h1v1h-1zM195 19h1v1h-1zM37 20h1v1h-1zM48 20h1v1h-1zM67 20h1v1h-1zM70 20h1v1h-1zM95 20h1v1h-1zM108 20h1v1h-1zM164 20h1v1h-1zM191 20h1v1h-1zM9 21h1v1h-1zM26 21h1v1h-1zM33 21h1v1h-1zM48 21h1v1h-1zM55 21h1v1h-1zM70 21h1v1h-1zM137 21h1v1h-1zM144 21h1v1h-1zM89 37h1v1h-1zM99 37h1v1h-1zM105 37h1v1h-1zM126 37h1v1h-1zM93 38h1v1h-1zM19 39h1v1h-1zM64 41h1v1h-1zM66 41h1v1h-1zM70 41h1v1h-1zM76 41h1v1h-1zM99 56h1v1h-1z"/>
<path fill="#0000bf" d="M76 17h2v1h-2zM13 18h1v1h-1zM67 18h1v1h-1zM148 18h1v1h-1zM154 18h1v1h-1zM180 18h1v1h-1zM0 19h1v1h-1zM2 19h1v1h-1zM33 19h1v1h-1zM38 19h1v1h-1zM110 19h1v1h-1zM126 19h1v1h-1zM158 19h1v1h-1zM189 19h1v1h-1zM6 20h1v1h-1zM11 20h1v1h-1zM21 20h1v1h-1zM59 20h1v1h-1zM69 20h1v1h-1zM83 20h1v1h-1zM86 20h1v1h-1zM127 20h1v1h-1zM155 20h1v1h-1zM159 20h1v1h-1zM186 20h2v1h-2zM190 20h1v1h-1zM45 21h1v1h-1zM51 21h2v1h-2zM57 21h1v1h-1zM121 21h1v1h-1zM181 21h1v1h-1zM28 37h1v1h-1zM38 37h1v1h-1zM44 37h1v1h-1zM52 37h1v1h-1zM64 37h1v1h-1zM68 37h1v1h-1zM73 37h1v1h-1zM90 37h1v1h-1zM98 37h1v1h-1zM21 38h1v1h-1zM80 39h1v1h-1zM92 39h1v1h-1zM17 40h1v1h-1zM19 40h1v1h-1zM28 41h1v1h-1zM45 41h1v1h-1zM48 41h1v1h-1zM69 41h1v1h-1zM82 41h1v1h-1zM86 41h1v1h-1zM134 41h1v1h-1zM176 41h1v1h-1zM189 41h1v1h-1zM39 56h1v1h-1zM104 56h1v1h-1zM139 57h1v1h-1zM3 61h1v1h-1z"/>
<path fill="#0000cf" d="M53 17h1v1h-1zM61 17h1v1h-1zM36 18h1v1h-1zM80 18h2v1h-2zM91 18h1v1h-1zM113 18h1v1h-1zM120 18h1v1h-1zM125 18h1v1h-1zM146 18h1v1h-1zM186 18h1v1h-1zM191 18h2v1h-2zM10 19h1v1h-1zM17 19h1v1h-1zM40 19h1v1h-1zM45 19h1v1h-1zM77 19h1v1h-1zM87 19h1v1h-1zM89 19h1v1h-1zM135 19h1v1h-1zM138 19h1v1h-1zM145 19h1v1h-1zM169 19h1v1h-1zM9 20h1v1h-1zM39 20h1v1h-1zM78 20h1v1h-1zM88 20h1v1h-1zM119 20h1v1h-1zM124 20h1v1h-1zM126 20h1v1h-1zM137 20h1v1h-1zM143 20h1v1h-1zM163 20h1v1h-1zM49 21h1v1h-1zM138 21h1v1h-1zM2 37h1v1h-1zM32 37h1v1h-1zM76 37h1v1h-1zM101 37h1v1h-1zM139 37h1v1h-1zM146 37h1v1h-1zM154 37h1v1h-1zM160 37h1v1h-1zM108 38h1v1h-1zM107 39h1v1h-1zM119 39h1v1h-1zM15 40h1v1h-1zM106 40h1v1h-1zM145 40h1v1h-1zM3 41h1v1h-1zM36 41h1v1h-1zM63 41h1v1h-1zM72 41h1v1h-1zM98 41h1v1h-1zM133 41h1v1h-1zM149 41h1v1h-1zM169 41h1v1h-1zM182 41h1v1h-1zM185 41h1v1h-1zM188 41h1v1h-1zM0 57h1v1h-1zM2 57h1v1h-1zM61 57h1v1h-1zM38 61h1v1h-1zM102 61h1v1h-1zM106 61h1v1h-1zM126 61h1v1h-1zM189 61h1v1h-1zM200 61h1v1h-1z"/>
<path fill="#0000df" d="M75 17h1v1h-1zM31 18h1v1h-1zM51 18h1v1h-1zM66 18h1v1h-1zM69 18h1v1h-1zM130 18h1v1h-1zM132 18h1v1h-1zM142 18h1v1h-1zM166 18h1v1h-1zM29 19h1v1h-1zM68 19h1v1h-1zM83 19h1v1h-1zM88 19h1v1h-1zM109 19h1v1h-1zM119 19h2v1h-2zM156 19h1v1h-1zM162 19h1v1h-1zM185 19h1v1h-1zM188 19h1v1h-1zM17 20h1v1h-1zM29 20h2v1h-2zM65 20h1v1h-1zM82 20h1v1h-1zM94 20h1v1h-1zM112 20h1v1h-1zM118 20h1v1h-1zM139 20h1v1h-1zM170 20h1v1h-1zM177 20h1v1h-1zM16 21h1v1h-1zM25 21h1v1h-1zM56 21h1v1h-1zM71 21h1v1h-1zM1 37h1v1h-1zM40 37h1v1h-1zM65 37h1v1h-1zM69 37h1v1h-1zM143 37h1v1h-1zM182 37h1v1h-1zM33 38h1v1h-1zM108 39h1v1h-1zM120 39h2v1h-2zM23 40h1v1h-1zM171 40h1v1h-1zM1 41h2v1h-2zM11 41h1v1h-1zM54 41h1v1h-1zM65 41h1v1h-1zM107 41h1v1h-1zM121 41h1v1h-1zM138 41h1v1h-1zM147 41h1v1h-1zM161 41h1v1h-1zM178 41h1v1h-1zM183 41h1v1h-1zM84 57h1v1h-1zM143 57h1v1h-1zM101 61h1v1h-1zM130 61h1v1h-1z"/>
<path fill="#0000ef" d="M29 17h1v1h-1zM26 18h1v1h-1zM74 18h1v1h-1zM123 18h1v1h-1zM184 18h1v1h-1zM13 19h1v1h-1zM22 19h1v1h-1zM25 19h1v1h-1zM32 19h1v1h-1zM37 19h1v1h-1zM70 19h1v1h-1zM84 19h1v1h-1zM94 19h1v1h-1zM143 19h2v1h-2zM8 20h1v1h-1zM16 20h1v1h-1zM22 20h1v1h-1zM31 20h1v1h-1zM40 20h1v1h-1zM52 20h1v1h-1zM77 20h1v1h-1zM144 20h1v1h-1zM158 20h1v1h-1zM189 20h1v1h-1zM13 37h1v1h-1zM49 37h1v1h-1zM111 37h1v1h-1zM151 37h1v1h-1zM170 37h1v1h-1zM173 37h1v1h-1zM177 37h1v1h-1zM193 37h1v1h-1zM107 38h1v1h-1zM147 38h1v1h-1zM118 39h1v1h-1zM60 40h1v1h-1zM107 40h1v1h-1zM117 40h1v1h-1zM24 41h1v1h-1zM35 41h1v1h-1zM40 41h1v1h-1zM61 41h1v1h-1zM120 41h1v1h-1zM135 41h1v1h-1zM158 41h1v1h-1zM175 41h1v1h-1zM179 41h1v1h-1zM149 56h1v1h-1zM7 57h1v1h-1zM41 57h1v1h-1zM93 57h1v1h-1zM125 57h2v1h-2zM154 57h1v1h-1zM173 57h1v1h-1zM198 57h1v1h-1zM36 61h1v1h-1zM157 61h1v1h-1z"/>
<path fill="#0000ff" d="M57 17h1v1h-1zM29 18h1v1h-1zM42 18h1v1h-1zM141 18h1v1h-1zM197 18h2v1h-2zM9 19h1v1h-1zM23 19h1v1h-1zM63 19h1v1h-1zM66 19h1v1h-1zM147 19h1v1h-1zM160 19h1v1h-1zM165 19h1v1h-1zM173 19h1v1h-1zM15 20h1v1h-1zM45 20h1v1h-1zM64 20h1v1h-1zM93 20h1v1h-1zM117 20h1v1h-1zM146 20h1v1h-1zM152 20h1v1h-1zM156 20h1v1h-1zM161 20h1v1h-1zM178 20h1v1h-1zM193 20h2v1h-2zM34 21h1v1h-1zM15 37h1v1h-1zM30 37h1v1h-1zM78 37h1v1h-1zM86 37h1v1h-1zM137 37h1v1h-1zM145 37h1v1h-1zM157 37h1v1h-1zM180 37h1v1h-1zM188 37h1v1h-1zM17 38h1v1h-1zM53 38h1v1h-1zM62 38h1v1h-1zM51 40h1v1h-1zM0 41h1v1h-1zM5 41h1v1h-1zM9 41h1v1h-1zM20 41h1v1h-1zM41 41h1v1h-1zM57 41h1v1h-1zM139 41h1v1h-1zM166 41h1v1h-1zM177 41h1v1h-1zM180 41h1v1h-1zM1 57h1v1h-1zM27 57h1v1h-1zM64 57h1v1h-1zM67 57h1v1h-1zM175 57h1v1h-1zM194 57h1v1h-1zM194 61h1v1h-1z"/>
<path fill="#0010ff" d="M58 17h1v1h-1zM125 17h1v1h-1zM140 18h1v1h-1zM185 18h1v1h-1zM16 19h1v1h-1zM21 19h1v1h-1zM49 19h1v1h-1zM60 19h1v1h-1zM71 19h1v1h-1zM78 19h1v1h-1zM124 19h1v1h-1zM136 19h1v1h-1zM141 19h2v1h-2zM157 19h1v1h-1zM197 19h1v1h-1zM20 20h1v1h-1zM47 20h1v1h-1zM87 20h1v1h-1zM121 20h1v1h-1zM123 20h1v1h-1zM130 20h1v1h-1zM140 20h2v1h-2zM145 20h1v1h-1zM184 20h1v1h-1zM50 21h1v1h-1zM53 21h1v1h-1zM73 21h1v1h-1zM6 37h2v1h-2zM67 37h1v1h-1zM74 37h1v1h-1zM102 37h1v1h-1zM153 37h1v1h-1zM186 37h1v1h-1zM92 38h1v1h-1zM173 38h1v1h-1zM49 39h1v1h-1zM31 40h1v1h-1zM116 40h1v1h-1zM125 40h1v1h-1zM197 40h1v1h-1zM26 41h1v1h-1zM157 41h1v1h-1zM173 41h1v1h-1zM58 57h1v1h-1zM105 57h1v1h-1zM192 57h2v1h-2zM89 61h1v1h-1zM171 61h1v1h-1zM199 61h1v1h-1z"/>
<path fill="#0020ff" d="M20 18h1v1h-1zM27 18h1v1h-1zM37 18h1v1h-1zM48 18h1v1h-1zM52 18h2v1h-2zM55 18h1v1h-1zM131 18h1v1h-1zM156 18h1v1h-1zM113 19h1v1h-1zM118 19h1v1h-1zM153 19h1v1h-1zM179 19h1v1h-1zM196 19h1v1h-1zM24 20h1v1h-1zM49 20h1v1h-1zM111 20h1v1h-1zM135 20h1v1h-1zM179 20h2v1h-2zM4 37h1v1h-1zM39 37h1v1h-1zM47 37h1v1h-1zM61 37h1v1h-1zM83 37h1v1h-1zM142 37h1v1h-1zM152 37h1v1h-1zM164 37h2v1h-2zM176 37h1v1h-1zM181 37h1v1h-1zM183 37h1v1h-1zM25 38h1v1h-1zM106 38h1v1h-1zM118 38h2v1h-2zM127 38h1v1h-1zM32 39h1v1h-1zM48 40h1v1h-1zM104 40h2v1h-2zM4 41h1v1h-1zM27 41h1v1h-1zM39 41h1v1h-1zM58 41h1v1h-1zM79 41h1v1h-1zM140 41h1v1h-1zM142 41h1v1h-1zM172 41h1v1h-1zM181 41h1v1h-1zM42 57h1v1h-1zM120 57h1v1h-1zM132 57h1v1h-1zM4 61h1v1h-1zM15 61h1v1h-1zM27 61h1v1h-1zM43 61h1v1h-1zM49 61h1v1h-1zM60 61h1v1h-1zM107 61h1v1h-1zM128 61h1v1h-1zM152 61h1v1h-1z"/>
<path fill="#0030ff" d="M28 18h1v1h-1zM54 18h1v1h-1zM59 18h1v1h-1zM124 18h1v1h-1zM95 19h1v1h-1zM131 19h1v1h-1zM181 19h1v1h-1zM34 20h1v1h-1zM90 20h1v1h-1zM138 20h1v1h-1zM195 20h1v1h-1zM62 37h1v1h-1zM112 37h1v1h-1zM161 37h1v1h-1zM187 37h1v1h-1zM189 37h1v1h-1zM22 38h1v1h-1zM199 38h1v1h-1zM52 39h1v1h-1zM89 39h1v1h-1zM198 39h1v1h-1zM14 40h1v1h-1zM54 40h1v1h-1zM90 40h1v1h-1zM8 41h1v1h-1zM25 41h1v1h-1zM37 41h1v1h-1zM62 41h1v1h-1zM136 41h1v1h-1zM155 41h1v1h-1zM160 41h1v1h-1zM174 41h1v1h-1zM186 41h2v1h-2zM31 57h1v1h-1zM40 57h1v1h-1zM46 57h2v1h-2zM69 57h2v1h-2zM186 57h1v1h-1zM189 57h1v1h-1zM63 61h1v1h-1zM80 61h1v1h-1zM113 61h1v1h-1zM182 61h1v1h-1z"/>
<path fill="#0040ff" d="M19 19h1v1h-1zM31 19h1v1h-1zM50 19h1v1h-1zM53 19h1v1h-1zM79 19h1v1h-1zM91 19h1v1h-1zM112 19h1v1h-1zM128 19h1v1h-1zM140 19h1v1h-1zM191 19h1v1h-1zM194 19h1v1h-1zM79 20h1v1h-1zM129 20h1v1h-1zM5 37h1v1h-1zM8 37h2v1h-2zM29 37h1v1h-1zM31 37h1v1h-1zM41 37h1v1h-1zM58 37h1v1h-1zM66 37h1v1h-1zM124 37h2v1h-2zM140 37h1v1h-1zM166 37h2v1h-2zM194 37h1v1h-1zM50 38h1v1h-1zM113 38h1v1h-1zM126 38h1v1h-1zM196 38h1v1h-1zM16 39h1v1h-1zM24 39h1v1h-1zM91 39h1v1h-1zM126 39h1v1h-1zM172 39h1v1h-1zM30 40h1v1h-1zM32 40h1v1h-1zM126 40h1v1h-1zM194 40h1v1h-1zM42 41h2v1h-2zM73 41h2v1h-2zM108 41h2v1h-2zM137 41h1v1h-1zM163 41h1v1h-1zM8 57h1v1h-1zM83 57h1v1h-1zM117 57h1v1h-1zM156 57h1v1h-1zM165 57h1v1h-1zM183 57h1v1h-1zM29 58h1v1h-1zM189 58h1v1h-1zM6 61h1v1h-1zM37 61h1v1h-1zM64 61h1v1h-1zM88 61h1v1h-1zM166 61h1v1h-1zM180 61h2v1h-2zM185 61h1v1h-1z"/>
<path fill="#0050ff" d="M19 18h1v1h-1zM56 18h1v1h-1zM58 18h1v1h-1zM11 19h1v1h-1zM146 19h1v1h-1zM190 19h1v1h-1zM18 20h1v1h-1zM71 20h1v1h-1zM89 20h1v1h-1zM154 20h1v1h-1zM24 37h1v1h-1zM77 37h1v1h-1zM134 37h1v1h-1zM144 37h1v1h-1zM178 37h2v1h-2zM185 37h1v1h-1zM192 37h1v1h-1zM56 38h1v1h-1zM74 38h1v1h-1zM91 38h1v1h-1zM94 38h1v1h-1zM117 38h1v1h-1zM105 39h1v1h-1zM117 39h1v1h-1zM146 39h1v1h-1zM11 40h1v1h-1zM34 40h1v1h-1zM89 40h1v1h-1zM97 40h1v1h-1zM113 40h1v1h-1zM115 40h1v1h-1zM152 40h1v1h-1zM148 41h1v1h-1zM106 57h1v1h-1zM168 57h1v1h-1zM106 60h1v1h-1zM13 61h1v1h-1zM53 61h1v1h-1zM66 61h1v1h-1zM74 61h1v1h-1zM97 61h1v1h-1zM169 61h2v1h-2zM179 61h1v1h-1zM197 61h1v1h-1z"/>
<path fill="#0060ff" d="M76 18h1v1h-1zM46 19h1v1h-1zM48 19h1v1h-1zM72 19h1v1h-1zM90 19h1v1h-1zM184 19h1v1h-1zM10 20h1v1h-1zM63 20h1v1h-1zM153 20h1v1h-1zM182 20h1v1h-1zM130 37h1v1h-1zM162 37h1v1h-1zM168 37h1v1h-1zM190 37h2v1h-2zM32 38h1v1h-1zM35 38h1v1h-1zM49 38h1v1h-1zM146 38h1v1h-1zM154 38h1v1h-1zM198 38h1v1h-1zM61 39h1v1h-1zM113 39h1v1h-1zM134 39h1v1h-1zM170 39h1v1h-1zM16 40h1v1h-1zM33 40h1v1h-1zM50 40h1v1h-1zM84 40h1v1h-1zM103 40h1v1h-1zM111 40h2v1h-2zM124 40h1v1h-1zM160 40h1v1h-1zM129 41h1v1h-1zM164 41h1v1h-1zM190 41h2v1h-2zM19 57h1v1h-1zM140 57h1v1h-1zM162 57h1v1h-1zM171 57h1v1h-1zM184 57h1v1h-1zM153 59h1v1h-1zM105 60h1v1h-1zM187 60h1v1h-1zM18 61h1v1h-1zM41 61h1v1h-1zM44 61h1v1h-1zM54 61h1v1h-1zM78 61h1v1h-1zM87 61h1v1h-1zM153 61h1v1h-1zM155 61h1v1h-1zM164 61h1v1h-1z"/>
<path fill="#0070ff" d="M60 18h1v1h-1zM30 19h1v1h-1zM54 19h1v1h-1zM139 19h1v1h-1zM154 19h1v1h-1zM183 19h1v1h-1zM25 20h1v1h-1zM53 20h1v1h-1zM72 21h1v1h-1zM16 37h1v1h-1zM42 37h2v1h-2zM141 37h1v1h-1zM175 37h1v1h-1zM24 38h1v1h-1zM34 38h1v1h-1zM37 38h1v1h-1zM70 38h1v1h-1zM78 38h1v1h-1zM103 38h1v1h-1zM105 38h1v1h-1zM116 38h1v1h-1zM162 38h1v1h-1zM171 38h1v1h-1zM200 38h1v1h-1zM33 39h1v1h-1zM148 39h1v1h-1zM20 40h1v1h-1zM47 40h1v1h-1zM76 40h1v1h-1zM93 40h1v1h-1zM101 40h1v1h-1zM146 40h1v1h-1zM198 40h1v1h-1zM7 41h1v1h-1zM12 41h1v1h-1zM44 41h1v1h-1zM56 41h1v1h-1zM130 41h1v1h-1zM10 57h1v1h-1zM55 57h1v1h-1zM130 57h1v1h-1zM138 57h1v1h-1zM161 57h1v1h-1zM163 57h1v1h-1zM172 57h1v1h-1zM185 57h1v1h-1zM187 57h2v1h-2zM108 58h1v1h-1zM178 58h1v1h-1zM42 61h1v1h-1zM55 61h1v1h-1zM65 61h1v1h-1zM75 61h1v1h-1zM79 61h1v1h-1zM96 61h1v1h-1zM116 61h1v1h-1zM121 61h1v1h-1zM137 61h1v1h-1zM140 61h1v1h-1zM158 61h1v1h-1zM165 61h1v1h-1z"/>
<path fill="#0080ff" d="M26 19h1v1h-1zM28 19h1v1h-1zM35 19h1v1h-1zM129 19h1v1h-1zM180 19h1v1h-1zM27 20h1v1h-1zM56 20h1v1h-1zM171 20h1v1h-1zM54 21h1v1h-1zM11 37h1v1h-1zM46 37h1v1h-1zM113 37h1v1h-1zM133 37h1v1h-1zM159 37h1v1h-1zM184 37h1v1h-1zM16 38h1v1h-1zM86 38h1v1h-1zM90 38h1v1h-1zM102 38h1v1h-1zM128 38h1v1h-1zM135 38h1v1h-1zM35 39h1v1h-1zM69 39h1v1h-1zM98 39h1v1h-1zM106 39h1v1h-1zM169 39h1v1h-1zM24 40h1v1h-1zM56 40h1v1h-1zM68 40h1v1h-1zM78 40h1v1h-1zM85 40h1v1h-1zM88 40h1v1h-1zM92 40h1v1h-1zM114 40h1v1h-1zM132 40h2v1h-2zM144 40h1v1h-1zM169 40h1v1h-1zM195 40h2v1h-2zM81 41h1v1h-1zM165 41h1v1h-1zM171 41h1v1h-1zM3 57h1v1h-1zM17 57h1v1h-1zM20 57h1v1h-1zM22 57h1v1h-1zM43 57h1v1h-1zM78 57h1v1h-1zM134 57h1v1h-1zM164 57h1v1h-1zM38 58h1v1h-1zM177 59h1v1h-1zM152 60h1v1h-1zM176 60h1v1h-1zM84 61h1v1h-1zM127 61h1v1h-1zM139 61h1v1h-1zM159 61h2v1h-2zM167 61h1v1h-1zM183 61h2v1h-2zM188 61h1v1h-1z"/>
<path fill="#008fff" d="M52 19h1v1h-1zM65 19h1v1h-1zM96 19h1v1h-1zM155 19h1v1h-1zM128 20h1v1h-1zM195 37h1v1h-1zM18 38h1v1h-1zM26 38h1v1h-1zM36 38h1v1h-1zM52 38h1v1h-1zM55 38h1v1h-1zM99 38h1v1h-1zM197 38h1v1h-1zM12 39h1v1h-1zM51 39h1v1h-1zM55 39h1v1h-1zM73 39h1v1h-1zM79 39h1v1h-1zM85 39h1v1h-1zM102 39h1v1h-1zM115 39h1v1h-1zM147 39h1v1h-1zM195 39h1v1h-1zM49 40h1v1h-1zM100 40h1v1h-1zM153 40h1v1h-1zM168 40h1v1h-1zM199 40h2v1h-2zM154 41h1v1h-1zM23 57h1v1h-1zM28 57h1v1h-1zM48 57h1v1h-1zM53 57h1v1h-1zM59 57h1v1h-1zM107 57h1v1h-1zM127 57h1v1h-1zM28 59h1v1h-1zM36 60h1v1h-1zM110 60h1v1h-1zM113 60h1v1h-1zM0 61h1v1h-1zM7 61h1v1h-1zM20 61h1v1h-1zM39 61h1v1h-1zM51 61h1v1h-1zM61 61h1v1h-1zM123 61h1v1h-1zM173 61h1v1h-1zM191 61h1v1h-1z"/>
<path fill="#009fff" d="M41 19h1v1h-1zM47 19h1v1h-1zM122 19h1v1h-1zM130 19h1v1h-1zM172 19h1v1h-1zM26 20h1v1h-1zM35 20h1v1h-1zM57 20h1v1h-1zM72 20h1v1h-1zM75 20h1v1h-1zM183 20h1v1h-1zM3 37h1v1h-1zM60 37h1v1h-1zM158 37h1v1h-1zM13 38h1v1h-1zM87 38h1v1h-1zM95 38h1v1h-1zM114 38h1v1h-1zM125 38h1v1h-1zM134 38h1v1h-1zM149 38h1v1h-1zM170 38h1v1h-1zM15 39h1v1h-1zM17 39h1v1h-1zM21 39h1v1h-1zM48 39h1v1h-1zM54 39h1v1h-1zM57 39h1v1h-1zM93 39h1v1h-1zM101 39h1v1h-1zM104 39h1v1h-1zM112 39h1v1h-1zM116 39h1v1h-1zM161 39h1v1h-1zM196 39h1v1h-1zM200 39h1v1h-1zM22 40h1v1h-1zM53 40h1v1h-1zM67 40h1v1h-1zM98 40h2v1h-2zM147 40h1v1h-1zM80 41h1v1h-1zM162 41h1v1h-1zM5 57h1v1h-1zM51 57h1v1h-1zM81 57h1v1h-1zM100 57h1v1h-1zM141 57h2v1h-2zM157 57h1v1h-1zM167 57h1v1h-1zM152 58h1v1h-1zM154 58h1v1h-1zM107 59h1v1h-1zM112 60h1v1h-1zM22 61h1v1h-1zM28 61h1v1h-1zM58 61h1v1h-1zM83 61h1v1h-1zM98 61h1v1h-1zM108 61h1v1h-1zM138 61h1v1h-1zM172 61h1v1h-1z"/>
<path fill="#00afff" d="M57 18h1v1h-1zM80 19h1v1h-1zM123 19h1v1h-1zM51 20h1v1h-1zM12 37h1v1h-1zM155 38h1v1h-1zM23 39h1v1h-1zM25 39h1v1h-1zM30 39h2v1h-2zM77 39h1v1h-1zM86 39h1v1h-1zM90 39h1v1h-1zM94 39h1v1h-1zM114 39h1v1h-1zM133 39h1v1h-1zM145 39h1v1h-1zM153 39h1v1h-1zM197 39h1v1h-1zM199 39h1v1h-1zM6 41h1v1h-1zM38 41h1v1h-1zM127 41h1v1h-1zM26 57h1v1h-1zM54 57h1v1h-1zM76 57h1v1h-1zM80 57h1v1h-1zM82 57h1v1h-1zM90 57h1v1h-1zM101 57h1v1h-1zM124 57h1v1h-1zM169 57h1v1h-1zM21 61h1v1h-1zM29 61h1v1h-1zM56 61h1v1h-1zM67 61h1v1h-1zM76 61h1v1h-1zM103 61h1v1h-1zM118 61h1v1h-1zM125 61h1v1h-1zM134 61h1v1h-1z"/>
<path fill="#00bfff" d="M76 19h1v1h-1zM54 20h1v1h-1zM58 20h1v1h-1zM84 37h1v1h-1zM1 38h1v1h-1zM31 38h1v1h-1zM48 38h1v1h-1zM58 38h1v1h-1zM80 38h1v1h-1zM148 38h1v1h-1zM34 39h1v1h-1zM127 39h1v1h-1zM152 39h1v1h-1zM154 39h1v1h-1zM158 39h1v1h-1zM52 40h1v1h-1zM69 40h1v1h-1zM71 40h2v1h-2zM77 40h1v1h-1zM123 40h1v1h-1zM154 40h1v1h-1zM126 41h1v1h-1zM9 57h1v1h-1zM13 57h1v1h-1zM21 57h1v1h-1zM24 57h1v1h-1zM37 57h1v1h-1zM57 57h1v1h-1zM65 57h1v1h-1zM79 57h1v1h-1zM88 57h1v1h-1zM97 57h1v1h-1zM112 57h1v1h-1zM122 57h1v1h-1zM129 57h1v1h-1zM160 57h1v1h-1zM177 57h1v1h-1zM180 57h1v1h-1zM191 57h1v1h-1zM107 58h1v1h-1zM112 58h1v1h-1zM115 58h1v1h-1zM181 58h1v1h-1zM24 60h1v1h-1zM107 60h1v1h-1zM5 61h1v1h-1zM25 61h1v1h-1zM45 61h1v1h-1zM52 61h1v1h-1zM120 61h1v1h-1zM146 61h1v1h-1zM161 61h1v1h-1zM163 61h1v1h-1zM168 61h1v1h-1zM174 61h1v1h-1zM176 61h1v1h-1z"/>
<path fill="#00cfff" d="M75 18h1v1h-1zM18 19h1v1h-1zM36 19h1v1h-1zM51 19h1v1h-1zM58 19h1v1h-1zM46 20h1v1h-1zM74 20h1v1h-1zM122 20h1v1h-1zM48 37h1v1h-1zM85 37h1v1h-1zM169 37h1v1h-1zM0 38h1v1h-1zM79 38h1v1h-1zM96 38h2v1h-2zM104 38h1v1h-1zM115 38h1v1h-1zM153 38h1v1h-1zM36 39h1v1h-1zM70 39h1v1h-1zM125 39h1v1h-1zM41 40h1v1h-1zM61 40h1v1h-1zM95 40h2v1h-2zM135 40h1v1h-1zM151 40h1v1h-1zM157 40h1v1h-1zM4 57h1v1h-1zM25 57h1v1h-1zM32 57h1v1h-1zM68 57h1v1h-1zM74 57h1v1h-1zM91 57h2v1h-2zM111 57h1v1h-1zM123 57h1v1h-1zM137 57h1v1h-1zM166 57h1v1h-1zM170 57h1v1h-1zM196 57h1v1h-1zM200 57h1v1h-1zM37 59h1v1h-1zM59 59h1v1h-1zM188 59h1v1h-1zM9 60h1v1h-1zM86 60h1v1h-1zM14 61h1v1h-1zM19 61h1v1h-1zM69 61h2v1h-2zM77 61h1v1h-1zM117 61h1v1h-1z"/>
<path fill="#00dfff" d="M27 19h1v1h-1zM59 19h1v1h-1zM10 37h1v1h-1zM39 38h1v1h-1zM71 38h2v1h-2zM101 38h1v1h-1zM137 38h1v1h-1zM142 38h1v1h-1zM5 39h1v1h-1zM66 39h1v1h-1zM68 39h1v1h-1zM78 39h1v1h-1zM87 39h1v1h-1zM97 39h1v1h-1zM29 40h1v1h-1zM35 40h1v1h-1zM42 40h1v1h-1zM70 40h1v1h-1zM73 40h1v1h-1zM86 40h1v1h-1zM94 40h1v1h-1zM121 40h1v1h-1zM134 40h1v1h-1zM173 40h1v1h-1zM183 40h1v1h-1zM128 41h1v1h-1zM14 57h1v1h-1zM29 57h1v1h-1zM50 57h1v1h-1zM60 57h1v1h-1zM71 57h1v1h-1zM86 57h2v1h-2zM118 57h1v1h-1zM128 57h1v1h-1zM159 57h1v1h-1zM174 57h1v1h-1zM195 57h1v1h-1zM197 57h1v1h-1zM88 58h1v1h-1zM106 59h1v1h-1zM27 60h1v1h-1zM123 60h1v1h-1zM24 61h1v1h-1zM33 61h1v1h-1zM46 61h1v1h-1zM50 61h1v1h-1zM86 61h1v1h-1zM110 61h1v1h-1zM115 61h1v1h-1zM124 61h1v1h-1zM133 61h1v1h-1zM192 61h1v1h-1z"/>
<path fill="#00efff" d="M73 19h1v1h-1zM50 20h1v1h-1zM55 20h1v1h-1zM54 38h1v1h-1zM67 38h1v1h-1zM69 38h1v1h-1zM100 38h1v1h-1zM138 38h1v1h-1zM159 38h1v1h-1zM175 38h1v1h-1zM0 39h1v1h-1zM53 39h1v1h-1zM88 39h1v1h-1zM99 39h1v1h-1zM12 40h1v1h-1zM37 40h1v1h-1zM66 40h1v1h-1zM170 40h1v1h-1zM177 40h1v1h-1zM180 40h1v1h-1zM185 40h1v1h-1zM34 57h1v1h-1zM45 57h1v1h-1zM56 57h1v1h-1zM102 57h1v1h-1zM119 57h1v1h-1zM121 57h1v1h-1zM144 57h2v1h-2zM151 57h1v1h-1zM0 58h1v1h-1zM109 58h1v1h-1zM114 58h1v1h-1zM138 58h1v1h-1zM87 59h1v1h-1zM58 60h1v1h-1zM150 60h1v1h-1zM179 60h1v1h-1zM48 61h1v1h-1zM73 61h1v1h-1zM82 61h1v1h-1zM93 61h1v1h-1zM141 61h1v1h-1zM193 61h1v1h-1z"/>
<path fill="#00ffff" d="M75 19h1v1h-1zM131 37h1v1h-1zM4 38h1v1h-1zM6 38h1v1h-1zM44 38h1v1h-1zM51 38h1v1h-1zM63 38h1v1h-1zM73 38h1v1h-1zM88 38h1v1h-1zM98 38h1v1h-1zM163 38h1v1h-1zM13 39h1v1h-1zM29 39h1v1h-1zM43 39h1v1h-1zM67 39h1v1h-1zM71 39h1v1h-1zM95 39h1v1h-1zM100 39h1v1h-1zM124 39h1v1h-1zM179 39h1v1h-1zM194 39h1v1h-1zM46 40h1v1h-1zM102 40h1v1h-1zM161 40h1v1h-1zM193 40h1v1h-1zM6 57h1v1h-1zM16 57h1v1h-1zM33 57h1v1h-1zM44 57h1v1h-1zM49 57h1v1h-1zM99 57h1v1h-1zM131 57h1v1h-1zM176 57h1v1h-1zM178 57h1v1h-1zM193 58h1v1h-1zM10 59h1v1h-1zM113 59h1v1h-1zM12 61h1v1h-1zM16 61h1v1h-1zM30 61h1v1h-1zM114 61h1v1h-1zM136 61h1v1h-1zM156 61h1v1h-1zM187 61h1v1h-1z"/>
<path fill="#10ffef" d="M57 19h1v1h-1zM74 19h1v1h-1zM3 38h1v1h-1zM14 38h1v1h-1zM29 38h1v1h-1zM66 38h1v1h-1zM68 38h1v1h-1zM89 38h1v1h-1zM164 38h1v1h-1zM182 38h1v1h-1zM185 38h3v1h-3zM195 38h1v1h-1zM47 39h1v1h-1zM50 39h1v1h-1zM62 39h1v1h-1zM84 39h1v1h-1zM96 39h1v1h-1zM103 39h1v1h-1zM123 39h1v1h-1zM136 39h2v1h-2zM187 39h1v1h-1zM21 40h1v1h-1zM28 40h1v1h-1zM55 40h1v1h-1zM136 40h1v1h-1zM139 40h1v1h-1zM143 40h1v1h-1zM148 40h1v1h-1zM162 40h1v1h-1zM73 57h1v1h-1zM77 57h1v1h-1zM85 57h1v1h-1zM26 58h1v1h-1zM92 58h1v1h-1zM1 61h1v1h-1zM10 61h1v1h-1zM40 61h1v1h-1zM47 61h1v1h-1zM72 61h1v1h-1zM95 61h1v1h-1zM119 61h1v1h-1zM143 61h1v1h-1zM147 61h1v1h-1zM154 61h1v1h-1zM162 61h1v1h-1z"/>
<path fill="#20ffdf" d="M55 19h2v1h-2zM12 38h1v1h-1zM27 38h2v1h-2zM38 38h1v1h-1zM60 38h1v1h-1zM82 38h1v1h-1zM110 38h1v1h-1zM136 38h1v1h-1zM188 38h1v1h-1zM191 38h1v1h-1zM193 38h1v1h-1zM72 39h1v1h-1zM81 39h1v1h-1zM135 39h1v1h-1zM143 39h1v1h-1zM151 39h1v1h-1zM174 39h1v1h-1zM2 40h2v1h-2zM62 40h1v1h-1zM74 40h1v1h-1zM80 40h1v1h-1zM83 40h1v1h-1zM87 40h1v1h-1zM108 40h1v1h-1zM141 40h1v1h-1zM167 40h1v1h-1zM174 40h1v1h-1zM178 40h2v1h-2zM182 40h1v1h-1zM186 40h1v1h-1zM190 40h1v1h-1zM11 57h1v1h-1zM52 57h1v1h-1zM150 57h1v1h-1zM199 57h1v1h-1zM11 58h1v1h-1zM197 58h1v1h-1zM151 59h1v1h-1zM180 59h1v1h-1zM65 60h1v1h-1zM122 60h1v1h-1zM9 61h1v1h-1zM71 61h1v1h-1zM81 61h1v1h-1zM177 61h1v1h-1z"/>
<path fill="#30ffcf" d="M73 20h1v1h-1zM132 37h1v1h-1zM43 38h1v1h-1zM45 38h1v1h-1zM57 38h1v1h-1zM85 38h1v1h-1zM124 38h1v1h-1zM141 38h1v1h-1zM150 38h2v1h-2zM156 38h1v1h-1zM160 38h1v1h-1zM172 38h1v1h-1zM178 38h1v1h-1zM22 39h1v1h-1zM38 39h1v1h-1zM42 39h1v1h-1zM45 39h1v1h-1zM56 39h1v1h-1zM59 39h1v1h-1zM65 39h1v1h-1zM140 39h1v1h-1zM149 39h1v1h-1zM163 39h1v1h-1zM178 39h1v1h-1zM180 39h1v1h-1zM185 39h1v1h-1zM27 40h1v1h-1zM43 40h1v1h-1zM59 40h1v1h-1zM64 40h2v1h-2zM140 40h1v1h-1zM149 40h1v1h-1zM164 40h1v1h-1zM176 40h1v1h-1zM184 40h1v1h-1zM146 57h1v1h-1zM158 57h1v1h-1zM181 57h1v1h-1zM125 58h1v1h-1zM182 58h2v1h-2zM25 59h1v1h-1zM103 59h1v1h-1zM111 59h1v1h-1zM124 59h1v1h-1zM4 60h1v1h-1zM39 60h1v1h-1zM136 60h1v1h-1zM195 60h1v1h-1zM31 61h1v1h-1zM34 61h1v1h-1zM142 61h1v1h-1zM195 61h2v1h-2z"/>
<path fill="#40ffbf" d="M7 38h1v1h-1zM75 38h1v1h-1zM144 38h1v1h-1zM169 38h1v1h-1zM180 38h1v1h-1zM183 38h2v1h-2zM192 38h1v1h-1zM2 39h1v1h-1zM37 39h1v1h-1zM122 39h1v1h-1zM144 39h1v1h-1zM155 39h1v1h-1zM168 39h1v1h-1zM184 39h1v1h-1zM1 40h1v1h-1zM10 40h1v1h-1zM13 40h1v1h-1zM122 40h1v1h-1zM131 40h1v1h-1zM159 40h1v1h-1zM181 40h1v1h-1zM188 40h1v1h-1zM136 57h1v1h-1zM149 57h1v1h-1zM2 58h1v1h-1zM142 58h1v1h-1zM192 58h1v1h-1zM5 59h1v1h-1zM5 60h1v1h-1zM50 60h1v1h-1zM64 60h1v1h-1zM183 60h1v1h-1zM2 61h1v1h-1zM129 61h1v1h-1zM131 61h1v1h-1z"/>
<path fill="#50ffaf" d="M5 38h1v1h-1zM23 38h1v1h-1zM30 38h1v1h-1zM77 38h1v1h-1zM139 38h1v1h-1zM152 38h1v1h-1zM177 38h1v1h-1zM179 38h1v1h-1zM3 39h2v1h-2zM74 39h1v1h-1zM141 39h1v1h-1zM159 39h1v1h-1zM171 39h1v1h-1zM181 39h1v1h-1zM186 39h1v1h-1zM191 39h1v1h-1zM25 40h1v1h-1zM58 40h1v1h-1zM137 40h1v1h-1zM142 40h1v1h-1zM158 40h1v1h-1zM175 40h1v1h-1zM187 40h1v1h-1zM189 40h1v1h-1zM18 57h1v1h-1zM152 57h1v1h-1zM6 58h1v1h-1zM60 58h1v1h-1zM110 58h1v1h-1zM124 58h1v1h-1zM40 59h1v1h-1zM114 59h1v1h-1zM43 60h1v1h-1zM103 60h1v1h-1zM180 60h1v1h-1zM191 60h1v1h-1zM11 61h1v1h-1zM17 61h1v1h-1zM62 61h1v1h-1zM92 61h1v1h-1zM132 61h1v1h-1zM148 61h1v1h-1z"/>
<path fill="#60ff9f" d="M61 38h1v1h-1zM64 38h1v1h-1zM123 38h1v1h-1zM176 38h1v1h-1zM60 39h1v1h-1zM142 39h1v1h-1zM166 39h1v1h-1zM189 39h1v1h-1zM4 40h2v1h-2zM26 40h1v1h-1zM44 40h1v1h-1zM75 40h1v1h-1zM150 40h1v1h-1zM163 40h1v1h-1zM35 57h1v1h-1zM66 57h1v1h-1zM39 58h1v1h-1zM63 58h1v1h-1zM66 58h1v1h-1zM105 58h1v1h-1zM116 58h1v1h-1zM153 58h1v1h-1zM160 58h1v1h-1zM185 58h1v1h-1zM102 60h1v1h-1zM108 60h1v1h-1zM127 60h1v1h-1zM140 60h1v1h-1zM151 60h1v1h-1zM158 60h1v1h-1zM190 60h1v1h-1zM32 61h1v1h-1zM68 61h1v1h-1z"/>
<path fill="#70ff8f" d="M42 38h1v1h-1zM158 38h1v1h-1zM190 38h1v1h-1zM11 39h1v1h-1zM64 39h1v1h-1zM162 39h1v1h-1zM182 39h2v1h-2zM9 40h1v1h-1zM36 40h1v1h-1zM63 40h1v1h-1zM138 40h1v1h-1zM156 40h1v1h-1zM15 57h1v1h-1zM38 57h1v1h-1zM62 57h1v1h-1zM75 57h1v1h-1zM94 57h1v1h-1zM96 57h1v1h-1zM103 57h1v1h-1zM114 57h1v1h-1zM40 58h2v1h-2zM52 58h1v1h-1zM104 58h1v1h-1zM119 58h1v1h-1zM129 58h1v1h-1zM155 58h1v1h-1zM170 58h1v1h-1zM188 58h1v1h-1zM1 59h1v1h-1zM173 59h1v1h-1zM191 59h1v1h-1zM40 60h1v1h-1zM67 60h1v1h-1zM75 60h1v1h-1zM131 60h1v1h-1zM172 60h1v1h-1zM181 60h1v1h-1zM185 60h1v1h-1zM94 61h1v1h-1zM100 61h1v1h-1zM144 61h1v1h-1z"/>
<path fill="#80ff80" d="M11 38h1v1h-1zM65 38h1v1h-1zM143 38h1v1h-1zM181 38h1v1h-1zM189 38h1v1h-1zM27 39h1v1h-1zM63 39h1v1h-1zM109 39h1v1h-1zM175 39h1v1h-1zM177 39h1v1h-1zM190 39h1v1h-1zM6 40h1v1h-1zM165 40h1v1h-1zM191 40h1v1h-1zM63 57h1v1h-1zM1 58h1v1h-1zM7 58h1v1h-1zM67 58h1v1h-1zM100 58h1v1h-1zM169 58h1v1h-1zM172 58h1v1h-1zM108 59h1v1h-1zM89 60h1v1h-1zM97 60h1v1h-1zM117 60h1v1h-1zM91 61h1v1h-1z"/>
<path fill="#8fff70" d="M8 38h1v1h-1zM15 38h1v1h-1zM40 38h1v1h-1zM111 38h1v1h-1zM145 38h1v1h-1zM165 38h1v1h-1zM14 39h1v1h-1zM28 39h1v1h-1zM150 39h1v1h-1zM176 39h1v1h-1zM188 39h1v1h-1zM192 39h1v1h-1zM40 40h1v1h-1zM57 40h1v1h-1zM72 57h1v1h-1zM104 57h1v1h-1zM133 57h1v1h-1zM69 58h1v1h-1zM77 58h1v1h-1zM81 58h1v1h-1zM162 58h1v1h-1zM168 58h1v1h-1zM184 58h1v1h-1zM0 59h1v1h-1zM38 59h1v1h-1zM82 59h1v1h-1zM91 59h1v1h-1zM130 59h1v1h-1zM132 59h1v1h-1zM139 59h1v1h-1zM141 59h1v1h-1zM152 59h1v1h-1zM187 59h1v1h-1zM192 59h1v1h-1zM196 59h1v1h-1zM16 60h1v1h-1zM38 60h1v1h-1zM55 60h1v1h-1zM61 60h1v1h-1zM90 60h1v1h-1zM114 60h1v1h-1zM186 60h1v1h-1zM99 61h1v1h-1z"/>
<path fill="#9fff60" d="M41 38h1v1h-1zM46 38h1v1h-1zM76 38h1v1h-1zM83 38h1v1h-1zM140 38h1v1h-1zM194 38h1v1h-1zM6 39h1v1h-1zM26 39h1v1h-1zM41 39h1v1h-1zM44 39h1v1h-1zM46 39h1v1h-1zM76 39h1v1h-1zM111 39h1v1h-1zM138 39h1v1h-1zM160 39h1v1h-1zM173 39h1v1h-1zM8 40h1v1h-1zM39 40h1v1h-1zM109 40h1v1h-1zM127 40h1v1h-1zM36 57h1v1h-1zM95 57h1v1h-1zM98 57h1v1h-1zM30 58h1v1h-1zM46 58h1v1h-1zM83 58h1v1h-1zM131 58h1v1h-1zM191 58h1v1h-1zM194 58h1v1h-1zM6 59h1v1h-1zM17 59h1v1h-1zM39 59h1v1h-1zM62 59h1v1h-1zM65 59h1v1h-1zM104 59h1v1h-1zM159 59h1v1h-1zM171 59h1v1h-1zM182 59h1v1h-1zM184 59h1v1h-1zM129 60h1v1h-1zM167 60h2v1h-2zM189 60h1v1h-1zM199 60h1v1h-1zM59 61h1v1h-1zM145 61h1v1h-1z"/>
<path fill="#afff50" d="M161 38h1v1h-1zM10 39h1v1h-1zM75 39h1v1h-1zM157 39h1v1h-1zM164 39h2v1h-2zM7 40h1v1h-1zM38 40h1v1h-1zM110 40h1v1h-1zM130 40h1v1h-1zM172 40h1v1h-1zM135 57h1v1h-1zM147 57h1v1h-1zM18 58h1v1h-1zM133 58h1v1h-1zM139 58h1v1h-1zM171 58h1v1h-1zM174 58h1v1h-1zM200 59h1v1h-1zM0 60h1v1h-1zM19 60h1v1h-1zM44 60h1v1h-1zM81 60h1v1h-1zM135 60h1v1h-1zM153 60h1v1h-1zM170 60h1v1h-1zM184 60h1v1h-1zM200 60h1v1h-1z"/>
<path fill="#bfff40" d="M10 38h1v1h-1zM112 38h1v1h-1zM133 38h1v1h-1zM167 38h2v1h-2zM174 38h1v1h-1zM7 39h1v1h-1zM39 39h1v1h-1zM110 39h1v1h-1zM132 39h1v1h-1zM193 39h1v1h-1zM81 40h2v1h-2zM155 40h1v1h-1zM166 40h1v1h-1zM148 57h1v1h-1zM5 58h1v1h-1zM42 58h1v1h-1zM44 58h1v1h-1zM64 58h1v1h-1zM99 58h1v1h-1zM137 58h1v1h-1zM161 58h1v1h-1zM45 59h1v1h-1zM55 59h2v1h-2zM79 59h1v1h-1zM98 59h1v1h-1zM115 59h1v1h-1zM181 59h1v1h-1zM7 60h2v1h-2zM23 60h1v1h-1zM25 60h1v1h-1zM28 60h1v1h-1zM45 60h1v1h-1zM54 60h1v1h-1zM80 60h1v1h-1zM159 60h2v1h-2zM165 60h1v1h-1zM182 60h1v1h-1z"/>
<path fill="#cfff30" d="M47 38h1v1h-1zM59 38h1v1h-1zM84 38h1v1h-1zM129 38h1v1h-1zM1 39h1v1h-1zM58 39h1v1h-1zM83 39h1v1h-1zM139 39h1v1h-1zM156 39h1v1h-1zM36 58h1v1h-1zM45 58h1v1h-1zM47 58h1v1h-1zM53 58h1v1h-1zM55 58h1v1h-1zM73 58h1v1h-1zM87 58h1v1h-1zM128 58h1v1h-1zM66 59h1v1h-1zM128 59h1v1h-1zM166 59h1v1h-1zM169 59h1v1h-1zM193 59h1v1h-1zM37 60h1v1h-1zM53 60h1v1h-1zM62 60h1v1h-1zM138 60h1v1h-1zM156 60h1v1h-1zM166 60h1v1h-1zM198 60h1v1h-1z"/>
<path fill="#dfff20" d="M132 38h1v1h-1zM157 38h1v1h-1zM166 38h1v1h-1zM9 39h1v1h-1zM40 39h1v1h-1zM128 39h1v1h-1zM0 40h1v1h-1zM45 40h1v1h-1zM22 58h1v1h-1zM57 58h1v1h-1zM85 58h1v1h-1zM111 58h1v1h-1zM200 58h1v1h-1zM57 59h1v1h-1zM81 59h1v1h-1zM118 59h1v1h-1zM137 59h1v1h-1zM199 59h1v1h-1zM6 60h1v1h-1zM21 60h1v1h-1zM31 60h1v1h-1zM85 60h1v1h-1zM126 60h1v1h-1zM128 60h1v1h-1zM192 60h2v1h-2zM90 61h1v1h-1z"/>
<path fill="#efff10" d="M2 38h1v1h-1zM9 38h1v1h-1zM192 40h1v1h-1zM51 58h1v1h-1zM58 58h1v1h-1zM89 58h1v1h-1zM91 58h1v1h-1zM140 58h2v1h-2zM143 58h1v1h-1zM163 58h2v1h-2zM167 58h1v1h-1zM173 58h1v1h-1zM186 58h1v1h-1zM44 59h1v1h-1zM46 59h1v1h-1zM76 59h1v1h-1zM109 59h1v1h-1zM140 59h1v1h-1zM154 59h1v1h-1zM183 59h1v1h-1zM185 59h1v1h-1zM190 59h1v1h-1zM26 60h1v1h-1zM66 60h1v1h-1zM99 60h1v1h-1zM124 60h2v1h-2zM137 60h1v1h-1zM162 60h1v1h-1zM169 60h1v1h-1zM171 60h1v1h-1z"/>
<path fill="#ffff00" d="M131 39h1v1h-1zM167 39h1v1h-1zM23 58h1v1h-1zM31 58h1v1h-1zM86 58h1v1h-1zM123 58h1v1h-1zM158 58h1v1h-1zM187 58h1v1h-1zM8 59h1v1h-1zM41 59h1v1h-1zM51 59h1v1h-1zM123 59h1v1h-1zM160 59h2v1h-2zM163 59h1v1h-1zM51 60h1v1h-1zM56 60h1v1h-1zM77 60h1v1h-1zM84 60h1v1h-1zM119 60h1v1h-1zM161 60h1v1h-1zM175 60h1v1h-1z"/>
<path fill="#ffef00" d="M131 38h1v1h-1zM8 39h1v1h-1zM9 58h1v1h-1zM19 58h1v1h-1zM28 58h1v1h-1zM54 58h1v1h-1zM59 58h1v1h-1zM82 58h1v1h-1zM101 58h1v1h-1zM106 58h1v1h-1zM126 58h1v1h-1zM175 58h1v1h-1zM68 59h1v1h-1zM127 59h1v1h-1zM155 59h1v1h-1zM168 59h1v1h-1zM172 59h1v1h-1zM189 59h1v1h-1zM20 60h1v1h-1zM52 60h1v1h-1zM59 60h1v1h-1zM63 60h1v1h-1zM78 60h2v1h-2zM98 60h1v1h-1zM104 60h1v1h-1zM141 60h1v1h-1zM147 60h1v1h-1zM154 60h1v1h-1zM164 60h1v1h-1zM173 60h1v1h-1zM177 60h1v1h-1zM197 60h1v1h-1z"/>
<path fill="#ffdf00" d="M4 58h1v1h-1zM21 58h1v1h-1zM33 58h1v1h-1zM90 58h1v1h-1zM120 58h1v1h-1zM127 58h1v1h-1zM165 58h1v1h-1zM195 58h1v1h-1zM49 59h1v1h-1zM52 59h1v1h-1zM80 59h1v1h-1zM86 59h1v1h-1zM99 59h1v1h-1zM129 59h1v1h-1zM186 59h1v1h-1zM2 60h1v1h-1zM11 60h1v1h-1zM30 60h1v1h-1zM42 60h1v1h-1zM109 60h1v1h-1zM120 60h2v1h-2zM142 60h1v1h-1zM157 60h1v1h-1z"/>
<path fill="#ffcf00" d="M129 40h1v1h-1zM3 58h1v1h-1zM8 58h1v1h-1zM13 58h1v1h-1zM27 58h1v1h-1zM32 58h1v1h-1zM49 58h1v1h-1zM71 58h1v1h-1zM78 58h1v1h-1zM96 58h1v1h-1zM130 58h1v1h-1zM144 58h2v1h-2zM156 58h1v1h-1zM166 58h1v1h-1zM190 58h1v1h-1zM199 58h1v1h-1zM3 59h1v1h-1zM9 59h1v1h-1zM24 59h1v1h-1zM58 59h1v1h-1zM88 59h1v1h-1zM90 59h1v1h-1zM120 59h1v1h-1zM136 59h1v1h-1zM170 59h1v1h-1zM10 60h1v1h-1zM17 60h1v1h-1zM47 60h1v1h-1zM68 60h1v1h-1zM87 60h2v1h-2zM96 60h1v1h-1zM116 60h1v1h-1zM118 60h1v1h-1zM134 60h1v1h-1zM139 60h1v1h-1zM143 60h1v1h-1zM155 60h1v1h-1zM163 60h1v1h-1z"/>
<path fill="#ffbf00" d="M130 38h1v1h-1zM82 39h1v1h-1zM128 40h1v1h-1zM16 58h1v1h-1zM20 58h1v1h-1zM25 58h1v1h-1zM50 58h1v1h-1zM80 58h1v1h-1zM121 58h1v1h-1zM136 58h1v1h-1zM157 58h1v1h-1zM179 58h1v1h-1zM2 59h1v1h-1zM29 59h1v1h-1zM31 59h1v1h-1zM72 59h1v1h-1zM84 59h1v1h-1zM105 59h1v1h-1zM112 59h1v1h-1zM162 59h1v1h-1zM175 59h1v1h-1zM14 60h1v1h-1zM29 60h1v1h-1zM48 60h2v1h-2zM57 60h1v1h-1zM74 60h1v1h-1zM149 60h1v1h-1zM188 60h1v1h-1z"/>
<path fill="#ffaf00" d="M129 39h1v1h-1zM10 58h1v1h-1zM12 58h1v1h-1zM17 58h1v1h-1zM24 58h1v1h-1zM56 58h1v1h-1zM65 58h1v1h-1zM70 58h1v1h-1zM74 58h1v1h-1zM117 58h2v1h-2zM180 58h1v1h-1zM198 58h1v1h-1zM21 59h1v1h-1zM63 59h1v1h-1zM77 59h2v1h-2zM89 59h1v1h-1zM126 59h1v1h-1zM142 59h2v1h-2zM165 59h1v1h-1zM167 59h1v1h-1zM198 59h1v1h-1zM18 60h1v1h-1zM22 60h1v1h-1zM41 60h1v1h-1zM46 60h1v1h-1zM73 60h1v1h-1zM94 60h1v1h-1zM111 60h1v1h-1zM174 60h1v1h-1zM196 60h1v1h-1z"/>
<path fill="#ff9f00" d="M130 39h1v1h-1zM68 58h1v1h-1zM79 58h1v1h-1zM98 58h1v1h-1zM103 58h1v1h-1zM149 58h1v1h-1zM159 58h1v1h-1zM15 59h1v1h-1zM18 59h1v1h-1zM20 59h1v1h-1zM22 59h1v1h-1zM30 59h1v1h-1zM69 59h1v1h-1zM121 59h1v1h-1zM125 59h1v1h-1zM138 59h1v1h-1zM156 59h1v1h-1zM178 59h1v1h-1zM197 59h1v1h-1zM1 60h1v1h-1zM3 60h1v1h-1zM76 60h1v1h-1zM83 60h1v1h-1zM144 60h1v1h-1zM148 60h1v1h-1z"/>
<path fill="#ff8f00" d="M43 58h1v1h-1zM72 58h1v1h-1zM113 58h1v1h-1zM7 59h1v1h-1zM32 59h1v1h-1zM64 59h1v1h-1zM67 59h1v1h-1zM85 59h1v1h-1zM116 59h1v1h-1zM119 59h1v1h-1zM157 59h1v1h-1zM174 59h1v1h-1zM176 59h1v1h-1zM13 60h1v1h-1zM15 60h1v1h-1zM32 60h1v1h-1zM115 60h1v1h-1zM130 60h1v1h-1zM178 60h1v1h-1z"/>
<path fill="#ff8000" d="M76 58h1v1h-1zM84 58h1v1h-1zM122 58h1v1h-1zM150 58h1v1h-1zM177 58h1v1h-1zM35 59h1v1h-1zM42 59h1v1h-1zM74 59h1v1h-1zM33 60h2v1h-2zM71 60h2v1h-2zM133 60h1v1h-1z"/>
<path fill="#ff7000" d="M15 58h1v1h-1zM48 58h1v1h-1zM75 58h1v1h-1zM135 58h1v1h-1zM151 58h1v1h-1zM4 59h1v1h-1zM11 59h1v1h-1zM16 59h1v1h-1zM19 59h1v1h-1zM43 59h1v1h-1zM83 59h1v1h-1zM95 59h1v1h-1zM97 59h1v1h-1zM122 59h1v1h-1zM135 59h1v1h-1zM158 59h1v1h-1zM179 59h1v1h-1zM194 59h1v1h-1zM82 60h1v1h-1zM194 60h1v1h-1z"/>
<path fill="#ff6000" d="M132 58h1v1h-1zM47 59h2v1h-2zM50 59h1v1h-1zM54 59h1v1h-1zM75 59h1v1h-1zM117 59h1v1h-1zM148 59h1v1h-1zM195 59h1v1h-1zM35 60h1v1h-1zM146 60h1v1h-1z"/>
<path fill="#ff5000" d="M14 58h1v1h-1zM35 58h1v1h-1zM146 58h1v1h-1zM148 58h1v1h-1zM176 58h1v1h-1zM26 59h1v1h-1zM60 59h1v1h-1zM70 59h2v1h-2zM100 59h1v1h-1zM164 59h1v1h-1zM12 60h1v1h-1zM93 60h1v1h-1zM100 60h2v1h-2z"/>
<path fill="#ff4000" d="M34 58h1v1h-1zM37 58h1v1h-1zM61 58h1v1h-1zM101 59h1v1h-1zM131 59h1v1h-1zM144 59h1v1h-1z"/>
<path fill="#ff3000" d="M102 58h1v1h-1zM147 58h1v1h-1zM196 58h1v1h-1zM23 59h1v1h-1zM27 59h1v1h-1zM34 59h1v1h-1zM53 59h1v1h-1zM102 59h1v1h-1zM110 59h1v1h-1zM69 60h1v1h-1zM95 60h1v1h-1zM132 60h1v1h-1z"/>
<path fill="#ff2000" d="M95 58h1v1h-1zM134 58h1v1h-1zM14 59h1v1h-1zM33 59h1v1h-1zM60 60h1v1h-1zM70 60h1v1h-1zM91 60h1v1h-1z"/>
<path fill="#ff1000" d="M93 58h2v1h-2zM134 59h1v1h-1z"/>
<path fill="#ff0000" d="M97 58h1v1h-1zM12 59h2v1h-2zM61 59h1v1h-1zM92 59h1v1h-1zM145 59h1v1h-1zM147 59h1v1h-1z"/>
<path fill="#ef0000" d="M36 59h1v1h-1zM93 59h2v1h-2zM150 59h1v1h-1z"/>
<path fill="#df0000" d="M62 58h1v1h-1zM145 60h1v1h-1z"/>
<path fill="#cf0000" d="M133 59h1v1h-1zM149 59h1v1h-1z"/>
<path fill="#bf0000" d="M73 59h1v1h-1zM92 60h1v1h-1z"/>
<path fill="#af0000" d="M96 59h1v1h-1z"/>
<path fill="#800000" d="M146 59h1v1h-1z"/>
</g></g>
<rect x="417.3" y="581.5" width="999.1" height="301" fill="none" stroke="#151515" stroke-width="2.5" stroke-linejoin="round"/>
<text class="s" x="398.6" y="855.4" font-size="38" text-anchor="end" fill="#262626">0</text>
<text class="s" x="398.6" y="770.6" font-size="38" text-anchor="end" fill="#262626">20</text>
<text class="s" x="398.6" y="685.8" font-size="38" text-anchor="end" fill="#262626">40</text>
<text class="s" x="398.6" y="602.2" font-size="38" text-anchor="end" fill="#262626">60</text>
<path d="M419.8 882.5v-10M419.8 581.5v10M668.3 882.5v-10M668.3 581.5v10M916.9 882.5v-10M916.9 581.5v10M1165.4 882.5v-10M1165.4 581.5v10M1413.9 882.5v-10M1413.9 581.5v10M417.3 838h10M1416.4 838h-10M417.3 753.2h10M1416.4 753.2h-10M417.3 668.4h10M1416.4 668.4h-10M417.3 583.6h10M1416.4 583.6h-10" stroke="#262626" stroke-width="2" fill="none"/>
<text class="s" x="920" y="566" font-size="44.5" text-anchor="middle" fill="#000">2D TomoSAR</text>
<text class="t" transform="translate(331.3 718.8) rotate(-90)" font-size="48" text-anchor="middle" fill="#000">Height [m]</text>
</g>
<g>
<rect x="417.3" y="954.8" width="999.1" height="301" fill="#00008f"/>
<g filter="url(#soft)"><g transform="translate(417.30 954.80) scale(4.9706 4.2394)" shape-rendering="crispEdges">
<path fill="#00009f" d="M89 17h1v1h-1zM170 17h1v1h-1zM89 21h1v1h-1zM75 22h1v1h-1zM131 36h1v1h-1zM18 37h1v1h-1zM110 37h1v1h-1zM121 37h1v1h-1zM101 61h1v1h-1zM105 61h1v1h-1z"/>
<path fill="#0000af" d="M68 17h1v1h-1zM103 17h1v1h-1zM105 17h1v1h-1zM6 21h1v1h-1zM99 21h1v1h-1zM164 21h1v1h-1zM166 21h1v1h-1zM107 22h1v1h-1zM133 36h1v1h-1zM22 41h1v1h-1zM127 42h1v1h-1zM0 57h1v1h-1zM182 57h1v1h-1z"/>
<path fill="#0000bf" d="M118 17h1v1h-1zM151 17h1v1h-1zM184 17h1v1h-1zM127 21h1v1h-1zM162 21h1v1h-1zM180 21h1v1h-1zM82 37h1v1h-1zM120 37h1v1h-1zM16 41h1v1h-1zM18 41h1v1h-1zM104 41h1v1h-1zM115 41h1v1h-1zM8 61h1v1h-1zM36 61h1v1h-1zM189 61h1v1h-1zM89 62h1v1h-1z"/>
<path fill="#0000cf" d="M187 16h1v1h-1zM169 17h1v1h-1zM64 21h1v1h-1zM95 21h1v1h-1zM98 21h1v1h-1zM19 37h1v1h-1zM26 37h1v1h-1zM107 37h1v1h-1zM13 41h1v1h-1zM89 41h1v1h-1zM150 61h1v1h-1z"/>
<path fill="#0000df" d="M82 16h1v1h-1zM113 16h1v1h-1zM56 17h1v1h-1zM65 21h2v1h-2zM82 21h1v1h-1zM114 21h1v1h-1zM149 21h1v1h-1zM165 21h1v1h-1zM63 37h1v1h-1zM109 37h1v1h-1zM128 37h1v1h-1zM174 37h1v1h-1zM47 41h1v1h-1zM83 41h1v1h-1zM114 41h1v1h-1zM118 41h1v1h-1zM196 41h1v1h-1zM39 57h1v1h-1zM42 57h1v1h-1zM105 57h1v1h-1zM139 57h1v1h-1zM153 57h2v1h-2zM170 57h1v1h-1zM194 57h1v1h-1zM198 57h1v1h-1zM89 61h1v1h-1zM194 61h1v1h-1z"/>
<path fill="#0000ef" d="M11 17h1v1h-1zM93 17h1v1h-1zM99 17h1v1h-1zM104 17h1v1h-1zM139 17h1v1h-1zM32 21h1v1h-1zM51 21h1v1h-1zM112 21h1v1h-1zM132 36h1v1h-1zM17 37h1v1h-1zM20 37h1v1h-1zM108 37h1v1h-1zM67 41h1v1h-1zM75 41h1v1h-1zM103 41h1v1h-1zM110 41h1v1h-1zM123 41h1v1h-1zM193 41h2v1h-2zM95 56h1v1h-1zM115 57h1v1h-1zM193 57h1v1h-1zM63 61h1v1h-1zM102 61h1v1h-1zM152 61h1v1h-1z"/>
<path fill="#0000ff" d="M2 17h1v1h-1zM39 17h1v1h-1zM63 17h1v1h-1zM86 17h1v1h-1zM102 17h1v1h-1zM131 17h1v1h-1zM175 17h1v1h-1zM83 21h1v1h-1zM92 21h1v1h-1zM136 21h1v1h-1zM142 21h1v1h-1zM36 37h1v1h-1zM104 37h1v1h-1zM123 37h1v1h-1zM148 37h1v1h-1zM198 37h1v1h-1zM10 41h1v1h-1zM30 41h1v1h-1zM34 41h1v1h-1zM50 41h1v1h-1zM53 41h1v1h-1zM59 41h1v1h-1zM100 41h1v1h-1zM112 41h1v1h-1zM117 41h1v1h-1zM198 41h1v1h-1zM2 57h1v1h-1zM47 57h1v1h-1zM93 57h1v1h-1zM186 57h1v1h-1zM3 61h1v1h-1zM15 61h1v1h-1zM54 61h1v1h-1zM80 61h1v1h-1zM126 61h1v1h-1zM135 61h1v1h-1zM158 61h1v1h-1zM161 61h1v1h-1zM200 61h1v1h-1z"/>
<path fill="#0010ff" d="M37 17h1v1h-1zM72 17h1v1h-1zM78 17h2v1h-2zM117 17h1v1h-1zM138 17h1v1h-1zM140 17h1v1h-1zM166 17h1v1h-1zM33 21h1v1h-1zM52 21h1v1h-1zM93 21h1v1h-1zM146 21h1v1h-1zM197 21h1v1h-1zM34 37h1v1h-1zM53 37h1v1h-1zM91 37h1v1h-1zM117 37h1v1h-1zM119 37h1v1h-1zM197 37h1v1h-1zM29 41h1v1h-1zM32 41h1v1h-1zM52 41h1v1h-1zM71 41h1v1h-1zM124 41h1v1h-1zM145 41h1v1h-1zM152 41h1v1h-1zM7 57h1v1h-1zM92 57h1v1h-1zM117 57h1v1h-1zM183 57h1v1h-1zM60 61h1v1h-1zM139 61h1v1h-1zM159 61h1v1h-1zM169 61h1v1h-1zM198 61h1v1h-1z"/>
<path fill="#0020ff" d="M1 17h1v1h-1zM41 17h1v1h-1zM50 17h1v1h-1zM55 17h1v1h-1zM70 17h1v1h-1zM98 17h1v1h-1zM101 17h1v1h-1zM145 17h2v1h-2zM165 17h1v1h-1zM21 21h1v1h-1zM36 21h1v1h-1zM67 21h1v1h-1zM124 21h1v1h-1zM141 21h1v1h-1zM150 21h1v1h-1zM160 21h1v1h-1zM54 37h1v1h-1zM93 37h1v1h-1zM114 37h1v1h-1zM129 37h1v1h-1zM155 37h1v1h-1zM200 37h1v1h-1zM15 41h1v1h-1zM23 41h1v1h-1zM33 41h1v1h-1zM65 41h1v1h-1zM84 41h1v1h-1zM92 41h1v1h-1zM113 41h1v1h-1zM116 41h1v1h-1zM19 57h1v1h-1zM68 57h1v1h-1zM143 57h1v1h-1zM161 57h1v1h-1zM105 60h1v1h-1zM37 61h1v1h-1zM39 61h1v1h-1zM42 61h1v1h-1zM74 61h1v1h-1zM171 61h1v1h-1zM179 61h1v1h-1zM199 61h1v1h-1z"/>
<path fill="#0030ff" d="M64 17h1v1h-1zM116 17h1v1h-1zM128 17h1v1h-1zM136 17h1v1h-1zM147 17h1v1h-1zM13 21h1v1h-1zM46 21h1v1h-1zM75 21h1v1h-1zM102 21h1v1h-1zM113 21h1v1h-1zM163 21h1v1h-1zM167 21h1v1h-1zM23 37h1v1h-1zM27 37h1v1h-1zM56 37h1v1h-1zM71 37h1v1h-1zM88 37h1v1h-1zM136 37h1v1h-1zM147 37h1v1h-1zM55 41h1v1h-1zM132 41h2v1h-2zM167 41h2v1h-2zM199 41h2v1h-2zM40 57h1v1h-1zM58 57h1v1h-1zM100 57h1v1h-1zM163 57h1v1h-1zM165 57h1v1h-1zM173 57h1v1h-1zM18 61h1v1h-1zM49 61h1v1h-1zM128 61h1v1h-1z"/>
<path fill="#0040ff" d="M17 17h1v1h-1zM36 17h1v1h-1zM97 17h1v1h-1zM137 17h1v1h-1zM171 17h1v1h-1zM7 21h1v1h-1zM37 21h1v1h-1zM60 21h1v1h-1zM63 21h1v1h-1zM94 21h1v1h-1zM106 21h1v1h-1zM132 21h2v1h-2zM161 21h1v1h-1zM199 21h1v1h-1zM35 37h1v1h-1zM38 37h1v1h-1zM74 37h1v1h-1zM96 37h1v1h-1zM98 37h1v1h-1zM115 37h1v1h-1zM118 37h1v1h-1zM150 37h1v1h-1zM154 37h1v1h-1zM160 37h1v1h-1zM18 40h1v1h-1zM46 41h1v1h-1zM49 41h1v1h-1zM64 41h1v1h-1zM77 41h1v1h-1zM86 41h2v1h-2zM93 41h1v1h-1zM99 41h1v1h-1zM111 41h1v1h-1zM143 41h1v1h-1zM146 41h1v1h-1zM151 41h1v1h-1zM195 41h1v1h-1zM31 57h1v1h-1zM70 57h1v1h-1zM78 57h1v1h-1zM120 57h1v1h-1zM171 57h1v1h-1zM175 57h1v1h-1zM185 57h1v1h-1zM20 61h1v1h-1zM43 61h2v1h-2zM61 61h1v1h-1zM88 61h1v1h-1zM157 61h1v1h-1zM167 61h1v1h-1zM182 61h1v1h-1zM188 61h1v1h-1z"/>
<path fill="#0050ff" d="M33 17h1v1h-1zM85 17h1v1h-1zM91 17h1v1h-1zM96 17h1v1h-1zM106 17h1v1h-1zM144 17h1v1h-1zM164 17h1v1h-1zM10 21h1v1h-1zM81 21h1v1h-1zM134 21h1v1h-1zM184 21h1v1h-1zM14 37h1v1h-1zM33 37h1v1h-1zM50 37h1v1h-1zM59 37h1v1h-1zM97 37h1v1h-1zM156 37h1v1h-1zM21 41h1v1h-1zM51 41h1v1h-1zM88 41h1v1h-1zM91 41h1v1h-1zM46 57h1v1h-1zM57 57h1v1h-1zM67 57h1v1h-1zM106 57h1v1h-1zM130 57h1v1h-1zM134 57h1v1h-1zM187 57h1v1h-1zM4 61h1v1h-1zM41 61h1v1h-1zM107 61h1v1h-1zM125 61h1v1h-1zM130 61h1v1h-1zM153 61h1v1h-1zM166 61h1v1h-1z"/>
<path fill="#0060ff" d="M59 17h1v1h-1zM87 17h1v1h-1zM153 17h1v1h-1zM47 21h1v1h-1zM55 21h1v1h-1zM140 21h1v1h-1zM143 21h1v1h-1zM171 21h1v1h-1zM174 21h1v1h-1zM187 21h1v1h-1zM57 37h2v1h-2zM73 37h1v1h-1zM79 37h1v1h-1zM81 37h1v1h-1zM83 37h1v1h-1zM103 37h1v1h-1zM135 37h1v1h-1zM171 37h1v1h-1zM19 41h1v1h-1zM31 41h1v1h-1zM68 41h1v1h-1zM102 41h1v1h-1zM159 41h1v1h-1zM192 41h1v1h-1zM197 41h1v1h-1zM8 57h1v1h-1zM41 57h1v1h-1zM84 57h1v1h-1zM159 57h1v1h-1zM154 58h1v1h-1zM27 61h1v1h-1zM55 61h1v1h-1zM66 61h1v1h-1zM79 61h1v1h-1zM116 61h1v1h-1zM123 61h1v1h-1zM181 61h1v1h-1zM185 61h1v1h-1zM197 61h1v1h-1z"/>
<path fill="#0070ff" d="M40 17h1v1h-1zM44 17h1v1h-1zM71 17h1v1h-1zM94 17h1v1h-1zM126 17h1v1h-1zM167 17h1v1h-1zM200 17h1v1h-1zM11 21h1v1h-1zM35 21h1v1h-1zM58 21h1v1h-1zM71 21h1v1h-1zM79 21h1v1h-1zM88 21h1v1h-1zM128 21h1v1h-1zM139 21h1v1h-1zM25 37h1v1h-1zM37 37h1v1h-1zM72 37h1v1h-1zM92 37h1v1h-1zM102 37h1v1h-1zM105 37h1v1h-1zM163 37h1v1h-1zM186 37h1v1h-1zM118 40h1v1h-1zM8 41h1v1h-1zM20 41h1v1h-1zM28 41h1v1h-1zM61 41h1v1h-1zM76 41h1v1h-1zM96 41h1v1h-1zM125 41h1v1h-1zM185 41h1v1h-1zM43 57h1v1h-1zM48 57h1v1h-1zM81 57h1v1h-1zM127 57h1v1h-1zM156 57h1v1h-1zM166 57h1v1h-1zM184 57h1v1h-1zM28 61h1v1h-1zM46 61h1v1h-1zM64 61h1v1h-1zM84 61h1v1h-1zM97 61h1v1h-1zM134 61h1v1h-1zM137 61h1v1h-1zM155 61h1v1h-1z"/>
<path fill="#0080ff" d="M69 17h1v1h-1zM75 17h1v1h-1zM100 17h1v1h-1zM108 17h1v1h-1zM143 17h1v1h-1zM154 17h1v1h-1zM162 17h1v1h-1zM178 17h2v1h-2zM148 20h1v1h-1zM14 21h1v1h-1zM18 21h2v1h-2zM61 21h1v1h-1zM68 21h1v1h-1zM74 21h1v1h-1zM86 21h2v1h-2zM153 21h1v1h-1zM198 21h1v1h-1zM2 37h1v1h-1zM75 37h1v1h-1zM86 37h2v1h-2zM89 37h1v1h-1zM127 37h1v1h-1zM138 37h1v1h-1zM172 37h1v1h-1zM119 40h1v1h-1zM9 41h1v1h-1zM11 41h1v1h-1zM26 41h1v1h-1zM36 41h1v1h-1zM97 41h1v1h-1zM134 41h1v1h-1zM150 41h1v1h-1zM166 41h1v1h-1zM176 41h1v1h-1zM53 57h1v1h-1zM69 57h1v1h-1zM111 57h1v1h-1zM132 57h1v1h-1zM189 57h1v1h-1zM200 57h1v1h-1zM88 58h1v1h-1zM114 58h1v1h-1zM178 58h1v1h-1zM13 61h1v1h-1zM78 61h1v1h-1zM113 61h1v1h-1zM121 61h1v1h-1zM164 61h1v1h-1zM191 61h1v1h-1z"/>
<path fill="#008fff" d="M14 17h1v1h-1zM67 17h1v1h-1zM115 17h1v1h-1zM124 17h2v1h-2zM133 17h1v1h-1zM150 17h1v1h-1zM157 17h1v1h-1zM188 17h1v1h-1zM100 20h1v1h-1zM2 21h1v1h-1zM30 21h1v1h-1zM40 21h1v1h-1zM80 21h1v1h-1zM84 21h1v1h-1zM90 21h1v1h-1zM137 21h1v1h-1zM172 21h1v1h-1zM175 21h1v1h-1zM177 21h1v1h-1zM200 21h1v1h-1zM0 37h1v1h-1zM32 37h1v1h-1zM44 37h1v1h-1zM69 37h1v1h-1zM116 37h1v1h-1zM125 37h1v1h-1zM142 37h1v1h-1zM196 37h1v1h-1zM1 41h1v1h-1zM24 41h1v1h-1zM69 41h1v1h-1zM95 41h1v1h-1zM98 41h1v1h-1zM121 41h2v1h-2zM148 41h1v1h-1zM156 41h1v1h-1zM20 57h1v1h-1zM24 57h1v1h-1zM28 57h1v1h-1zM51 57h1v1h-1zM65 57h1v1h-1zM101 57h1v1h-1zM125 57h1v1h-1zM131 57h1v1h-1zM138 57h1v1h-1zM141 57h1v1h-1zM145 57h1v1h-1zM169 57h1v1h-1zM180 57h1v1h-1zM107 58h1v1h-1zM189 58h1v1h-1zM107 59h1v1h-1zM106 60h1v1h-1zM187 60h1v1h-1zM16 61h1v1h-1zM65 61h1v1h-1zM83 61h1v1h-1zM86 61h1v1h-1zM117 61h1v1h-1zM136 61h1v1h-1zM138 61h1v1h-1zM141 61h1v1h-1zM172 61h1v1h-1zM183 61h2v1h-2zM192 61h1v1h-1zM196 61h1v1h-1z"/>
<path fill="#009fff" d="M18 17h1v1h-1zM23 17h1v1h-1zM84 17h1v1h-1zM110 17h1v1h-1zM134 17h1v1h-1zM102 20h1v1h-1zM20 21h1v1h-1zM44 21h1v1h-1zM62 21h1v1h-1zM73 21h1v1h-1zM96 21h1v1h-1zM120 21h1v1h-1zM151 21h1v1h-1zM189 21h1v1h-1zM192 21h1v1h-1zM52 37h1v1h-1zM70 37h1v1h-1zM76 37h1v1h-1zM95 37h1v1h-1zM126 37h1v1h-1zM149 37h1v1h-1zM151 37h1v1h-1zM164 37h1v1h-1zM187 37h1v1h-1zM199 37h1v1h-1zM109 38h1v1h-1zM106 40h1v1h-1zM27 41h1v1h-1zM42 41h1v1h-1zM54 41h1v1h-1zM85 41h1v1h-1zM157 41h1v1h-1zM164 41h1v1h-1zM184 41h1v1h-1zM187 41h1v1h-1zM5 57h1v1h-1zM32 57h1v1h-1zM45 57h1v1h-1zM60 57h1v1h-1zM82 57h2v1h-2zM88 57h1v1h-1zM122 57h1v1h-1zM29 58h1v1h-1zM177 59h1v1h-1zM27 60h1v1h-1zM0 61h1v1h-1zM24 61h1v1h-1zM51 61h1v1h-1zM70 61h1v1h-1zM124 61h1v1h-1zM180 61h1v1h-1z"/>
<path fill="#00afff" d="M0 17h1v1h-1zM9 17h1v1h-1zM13 17h1v1h-1zM22 17h1v1h-1zM34 17h1v1h-1zM38 17h1v1h-1zM51 17h1v1h-1zM176 17h2v1h-2zM181 17h1v1h-1zM105 21h1v1h-1zM111 21h1v1h-1zM131 21h1v1h-1zM157 21h1v1h-1zM188 21h1v1h-1zM40 37h1v1h-1zM99 37h1v1h-1zM101 37h1v1h-1zM146 37h1v1h-1zM153 37h1v1h-1zM173 37h1v1h-1zM181 37h2v1h-2zM20 38h1v1h-1zM81 38h1v1h-1zM91 40h1v1h-1zM107 40h1v1h-1zM197 40h1v1h-1zM35 41h1v1h-1zM39 41h2v1h-2zM63 41h1v1h-1zM79 41h1v1h-1zM101 41h1v1h-1zM107 41h1v1h-1zM172 41h1v1h-1zM177 41h1v1h-1zM179 41h1v1h-1zM3 57h1v1h-1zM26 57h1v1h-1zM34 57h1v1h-1zM54 57h2v1h-2zM64 57h1v1h-1zM107 57h1v1h-1zM146 57h1v1h-1zM168 57h1v1h-1zM174 57h1v1h-1zM192 57h1v1h-1zM195 57h1v1h-1zM108 58h1v1h-1zM153 59h1v1h-1zM1 61h1v1h-1zM87 61h1v1h-1zM98 61h1v1h-1zM119 61h1v1h-1zM140 61h1v1h-1zM162 61h1v1h-1zM165 61h1v1h-1z"/>
<path fill="#00bfff" d="M24 17h2v1h-2zM52 17h1v1h-1zM65 17h1v1h-1zM73 17h1v1h-1zM107 17h1v1h-1zM123 17h1v1h-1zM141 17h1v1h-1zM161 17h1v1h-1zM163 17h1v1h-1zM150 18h1v1h-1zM152 18h1v1h-1zM103 19h1v1h-1zM31 21h1v1h-1zM109 21h2v1h-2zM116 21h1v1h-1zM122 21h1v1h-1zM126 21h1v1h-1zM138 21h1v1h-1zM152 21h1v1h-1zM176 21h1v1h-1zM196 21h1v1h-1zM4 37h1v1h-1zM9 37h1v1h-1zM24 37h1v1h-1zM30 37h1v1h-1zM49 37h1v1h-1zM64 37h1v1h-1zM68 37h1v1h-1zM80 37h1v1h-1zM100 37h1v1h-1zM141 37h1v1h-1zM143 37h1v1h-1zM165 37h1v1h-1zM177 37h1v1h-1zM185 37h1v1h-1zM93 38h1v1h-1zM171 40h1v1h-1zM0 41h1v1h-1zM3 41h1v1h-1zM5 41h1v1h-1zM41 41h1v1h-1zM48 41h1v1h-1zM57 41h1v1h-1zM66 41h1v1h-1zM94 41h1v1h-1zM109 41h1v1h-1zM147 41h1v1h-1zM149 41h1v1h-1zM153 41h1v1h-1zM160 41h1v1h-1zM182 41h1v1h-1zM11 57h1v1h-1zM22 57h1v1h-1zM25 57h1v1h-1zM49 57h1v1h-1zM129 57h1v1h-1zM160 57h1v1h-1zM176 57h2v1h-2zM6 58h1v1h-1zM11 58h1v1h-1zM115 58h1v1h-1zM28 59h1v1h-1zM9 60h1v1h-1zM58 60h1v1h-1zM152 60h1v1h-1zM176 60h1v1h-1zM2 61h1v1h-1zM6 61h1v1h-1zM45 61h1v1h-1zM52 61h1v1h-1zM56 61h1v1h-1zM77 61h1v1h-1zM95 61h2v1h-2zM103 61h1v1h-1zM115 61h1v1h-1zM133 61h1v1h-1zM170 61h1v1h-1zM173 61h1v1h-1z"/>
<path fill="#00cfff" d="M6 17h1v1h-1zM21 17h1v1h-1zM35 17h1v1h-1zM62 17h1v1h-1zM88 17h1v1h-1zM155 17h1v1h-1zM173 17h1v1h-1zM191 17h1v1h-1zM195 17h1v1h-1zM96 20h1v1h-1zM101 20h1v1h-1zM25 21h2v1h-2zM39 21h1v1h-1zM49 21h1v1h-1zM53 21h1v1h-1zM57 21h1v1h-1zM78 21h1v1h-1zM91 21h1v1h-1zM97 21h1v1h-1zM121 21h1v1h-1zM154 21h1v1h-1zM159 21h1v1h-1zM173 21h1v1h-1zM6 37h1v1h-1zM13 37h1v1h-1zM55 37h1v1h-1zM61 37h1v1h-1zM65 37h1v1h-1zM90 37h1v1h-1zM106 37h1v1h-1zM134 37h1v1h-1zM139 37h1v1h-1zM144 37h1v1h-1zM158 37h1v1h-1zM161 37h1v1h-1zM180 37h1v1h-1zM184 37h1v1h-1zM188 37h2v1h-2zM191 37h1v1h-1zM193 37h1v1h-1zM108 38h1v1h-1zM19 40h1v1h-1zM58 41h1v1h-1zM70 41h1v1h-1zM74 41h1v1h-1zM131 41h1v1h-1zM137 41h1v1h-1zM142 41h1v1h-1zM174 41h1v1h-1zM189 41h1v1h-1zM23 57h1v1h-1zM29 57h1v1h-1zM74 57h1v1h-1zM80 57h1v1h-1zM86 57h1v1h-1zM137 57h1v1h-1zM157 57h1v1h-1zM188 57h1v1h-1zM26 58h1v1h-1zM124 59h1v1h-1zM5 61h1v1h-1zM7 61h1v1h-1zM30 61h1v1h-1zM50 61h1v1h-1zM75 61h1v1h-1zM81 61h2v1h-2zM118 61h1v1h-1zM154 61h1v1h-1zM160 61h1v1h-1zM168 61h1v1h-1zM193 61h1v1h-1z"/>
<path fill="#00dfff" d="M3 17h1v1h-1zM15 17h1v1h-1zM31 17h1v1h-1zM74 17h1v1h-1zM77 17h1v1h-1zM82 17h1v1h-1zM90 17h1v1h-1zM114 17h1v1h-1zM192 17h1v1h-1zM196 17h1v1h-1zM67 18h1v1h-1zM151 18h1v1h-1zM150 19h1v1h-1zM13 20h1v1h-1zM53 20h1v1h-1zM167 20h1v1h-1zM8 21h2v1h-2zM34 21h1v1h-1zM69 21h1v1h-1zM103 21h1v1h-1zM115 21h1v1h-1zM191 21h1v1h-1zM194 21h1v1h-1zM1 37h1v1h-1zM7 37h1v1h-1zM31 37h1v1h-1zM111 37h1v1h-1zM145 37h1v1h-1zM157 37h1v1h-1zM162 37h1v1h-1zM60 40h1v1h-1zM90 40h1v1h-1zM120 40h1v1h-1zM2 41h1v1h-1zM45 41h1v1h-1zM60 41h1v1h-1zM120 41h1v1h-1zM141 41h1v1h-1zM161 41h1v1h-1zM173 41h1v1h-1zM178 41h1v1h-1zM180 41h1v1h-1zM190 41h1v1h-1zM10 57h1v1h-1zM13 57h1v1h-1zM16 57h1v1h-1zM52 57h1v1h-1zM59 57h1v1h-1zM71 57h1v1h-1zM87 57h1v1h-1zM102 57h2v1h-2zM112 57h1v1h-1zM118 57h1v1h-1zM140 57h1v1h-1zM144 57h1v1h-1zM172 57h1v1h-1zM199 57h1v1h-1zM152 58h1v1h-1zM151 59h1v1h-1zM188 59h1v1h-1zM113 60h1v1h-1zM21 61h1v1h-1zM29 61h1v1h-1zM33 61h1v1h-1zM47 61h1v1h-1zM76 61h1v1h-1zM163 61h1v1h-1z"/>
<path fill="#00efff" d="M26 17h1v1h-1zM42 17h2v1h-2zM53 17h1v1h-1zM57 17h1v1h-1zM60 17h1v1h-1zM83 17h1v1h-1zM142 17h1v1h-1zM148 17h1v1h-1zM158 17h1v1h-1zM194 17h1v1h-1zM197 17h1v1h-1zM9 18h1v1h-1zM98 18h1v1h-1zM104 18h2v1h-2zM14 19h1v1h-1zM149 20h1v1h-1zM16 21h1v1h-1zM27 21h1v1h-1zM29 21h1v1h-1zM38 21h1v1h-1zM45 21h1v1h-1zM56 21h1v1h-1zM70 21h1v1h-1zM119 21h1v1h-1zM155 21h1v1h-1zM168 21h1v1h-1zM183 21h1v1h-1zM185 21h1v1h-1zM195 21h1v1h-1zM8 37h1v1h-1zM16 37h1v1h-1zM45 37h2v1h-2zM67 37h1v1h-1zM113 37h1v1h-1zM192 37h1v1h-1zM121 38h2v1h-2zM19 39h1v1h-1zM24 40h1v1h-1zM79 40h1v1h-1zM104 40h1v1h-1zM4 41h1v1h-1zM56 41h1v1h-1zM72 41h2v1h-2zM130 41h1v1h-1zM162 41h1v1h-1zM181 41h1v1h-1zM183 41h1v1h-1zM33 57h1v1h-1zM35 57h1v1h-1zM79 57h1v1h-1zM91 57h1v1h-1zM99 57h1v1h-1zM124 57h1v1h-1zM167 57h1v1h-1zM178 57h1v1h-1zM196 57h1v1h-1zM60 58h1v1h-1zM125 58h1v1h-1zM181 58h1v1h-1zM86 60h1v1h-1zM123 60h1v1h-1zM22 61h1v1h-1zM40 61h1v1h-1zM48 61h1v1h-1zM53 61h1v1h-1zM72 61h2v1h-2zM108 61h1v1h-1zM120 61h1v1h-1zM127 61h1v1h-1zM174 61h1v1h-1z"/>
<path fill="#00ffff" d="M27 17h1v1h-1zM135 17h1v1h-1zM180 17h1v1h-1zM199 17h1v1h-1zM102 18h1v1h-1zM168 18h1v1h-1zM87 19h1v1h-1zM23 21h1v1h-1zM48 21h1v1h-1zM144 21h1v1h-1zM193 21h1v1h-1zM39 37h1v1h-1zM43 37h1v1h-1zM47 37h1v1h-1zM78 37h1v1h-1zM124 37h1v1h-1zM137 37h1v1h-1zM168 37h1v1h-1zM21 38h1v1h-1zM26 38h1v1h-1zM107 38h1v1h-1zM48 40h1v1h-1zM105 40h1v1h-1zM12 41h1v1h-1zM37 41h1v1h-1zM135 41h1v1h-1zM155 41h1v1h-1zM175 41h1v1h-1zM14 57h1v1h-1zM17 57h1v1h-1zM56 57h1v1h-1zM114 57h1v1h-1zM142 57h1v1h-1zM158 57h1v1h-1zM191 57h1v1h-1zM197 57h1v1h-1zM109 58h1v1h-1zM153 58h1v1h-1zM192 58h1v1h-1zM10 59h1v1h-1zM106 59h1v1h-1zM111 59h1v1h-1zM36 60h1v1h-1zM102 60h1v1h-1zM107 60h1v1h-1zM110 60h1v1h-1zM150 60h1v1h-1zM179 60h1v1h-1zM9 61h1v1h-1zM25 61h1v1h-1zM67 61h1v1h-1zM69 61h1v1h-1zM92 61h2v1h-2zM114 61h1v1h-1zM142 61h1v1h-1zM146 61h1v1h-1z"/>
<path fill="#10ffef" d="M20 17h1v1h-1zM45 17h1v1h-1zM54 17h1v1h-1zM61 17h1v1h-1zM92 17h1v1h-1zM198 17h1v1h-1zM101 18h1v1h-1zM103 18h1v1h-1zM149 19h1v1h-1zM86 20h1v1h-1zM90 20h1v1h-1zM17 21h1v1h-1zM42 21h1v1h-1zM104 21h1v1h-1zM130 21h1v1h-1zM15 37h1v1h-1zM29 37h1v1h-1zM169 37h1v1h-1zM176 37h1v1h-1zM194 37h1v1h-1zM19 38h1v1h-1zM18 39h1v1h-1zM20 39h1v1h-1zM80 39h1v1h-1zM107 39h1v1h-1zM51 40h1v1h-1zM125 40h1v1h-1zM7 41h1v1h-1zM38 41h1v1h-1zM82 41h1v1h-1zM138 41h1v1h-1zM186 41h1v1h-1zM4 57h1v1h-1zM6 57h1v1h-1zM9 57h1v1h-1zM18 57h1v1h-1zM50 57h1v1h-1zM76 57h1v1h-1zM85 57h1v1h-1zM90 57h1v1h-1zM164 57h1v1h-1zM41 58h1v1h-1zM112 58h1v1h-1zM25 59h1v1h-1zM59 59h1v1h-1zM87 59h1v1h-1zM108 59h1v1h-1zM44 60h1v1h-1zM112 60h1v1h-1zM14 61h1v1h-1zM19 61h1v1h-1zM62 61h1v1h-1zM132 61h1v1h-1zM156 61h1v1h-1zM176 61h1v1h-1z"/>
<path fill="#20ffdf" d="M19 17h1v1h-1zM29 17h1v1h-1zM46 17h1v1h-1zM48 17h2v1h-2zM66 17h1v1h-1zM95 17h1v1h-1zM120 17h2v1h-2zM132 17h1v1h-1zM160 17h1v1h-1zM187 17h1v1h-1zM189 17h1v1h-1zM54 18h1v1h-1zM78 18h1v1h-1zM88 18h1v1h-1zM92 18h1v1h-1zM130 18h1v1h-1zM153 18h1v1h-1zM84 20h1v1h-1zM93 20h1v1h-1zM136 20h1v1h-1zM0 21h1v1h-1zM3 21h2v1h-2zM117 21h2v1h-2zM123 21h1v1h-1zM170 21h1v1h-1zM179 21h1v1h-1zM190 21h1v1h-1zM5 37h1v1h-1zM11 37h1v1h-1zM28 37h1v1h-1zM62 37h1v1h-1zM112 37h1v1h-1zM152 37h1v1h-1zM159 37h1v1h-1zM170 37h1v1h-1zM178 37h1v1h-1zM190 37h1v1h-1zM53 38h1v1h-1zM92 38h1v1h-1zM106 38h1v1h-1zM173 38h1v1h-1zM49 39h1v1h-1zM108 39h1v1h-1zM121 39h1v1h-1zM108 41h1v1h-1zM126 41h1v1h-1zM129 41h1v1h-1zM165 41h1v1h-1zM73 57h1v1h-1zM97 57h1v1h-1zM128 57h1v1h-1zM162 57h1v1h-1zM38 58h1v1h-1zM113 59h1v1h-1zM191 59h1v1h-1zM140 60h1v1h-1zM180 60h1v1h-1zM10 61h1v1h-1zM12 61h1v1h-1zM17 61h1v1h-1zM110 61h1v1h-1zM129 61h1v1h-1zM147 61h2v1h-2zM195 61h1v1h-1z"/>
<path fill="#30ffcf" d="M30 17h1v1h-1zM76 17h1v1h-1zM109 17h1v1h-1zM159 17h1v1h-1zM15 18h1v1h-1zM55 18h1v1h-1zM169 18h1v1h-1zM183 18h1v1h-1zM137 19h1v1h-1zM36 20h1v1h-1zM65 20h1v1h-1zM22 21h1v1h-1zM72 21h1v1h-1zM76 21h1v1h-1zM125 21h1v1h-1zM158 21h1v1h-1zM42 37h1v1h-1zM66 37h1v1h-1zM183 37h1v1h-1zM52 38h1v1h-1zM115 38h1v1h-1zM120 38h1v1h-1zM127 38h1v1h-1zM149 38h1v1h-1zM91 39h1v1h-1zM105 39h1v1h-1zM120 39h1v1h-1zM23 40h1v1h-1zM50 40h1v1h-1zM65 40h1v1h-1zM103 40h1v1h-1zM199 40h1v1h-1zM6 41h1v1h-1zM43 41h2v1h-2zM81 41h1v1h-1zM139 41h1v1h-1zM163 41h1v1h-1zM188 41h1v1h-1zM21 57h1v1h-1zM96 57h1v1h-1zM121 57h1v1h-1zM147 57h1v1h-1zM149 57h1v1h-1zM152 57h1v1h-1zM30 58h1v1h-1zM162 58h1v1h-1zM182 58h2v1h-2zM193 58h1v1h-1zM5 59h1v1h-1zM37 59h1v1h-1zM180 59h1v1h-1zM39 60h1v1h-1zM90 60h1v1h-1zM103 60h1v1h-1zM127 60h1v1h-1zM151 60h1v1h-1zM32 61h1v1h-1zM59 61h1v1h-1zM68 61h1v1h-1zM131 61h1v1h-1zM177 61h1v1h-1zM187 61h1v1h-1z"/>
<path fill="#40ffbf" d="M7 17h1v1h-1zM47 17h1v1h-1zM113 17h1v1h-1zM119 17h1v1h-1zM182 17h2v1h-2zM185 17h1v1h-1zM193 17h1v1h-1zM86 18h1v1h-1zM138 18h1v1h-1zM165 18h1v1h-1zM54 19h1v1h-1zM101 19h1v1h-1zM7 20h1v1h-1zM37 20h1v1h-1zM64 20h1v1h-1zM99 20h1v1h-1zM163 20h1v1h-1zM165 20h1v1h-1zM199 20h1v1h-1zM5 21h1v1h-1zM15 21h1v1h-1zM28 21h1v1h-1zM43 21h1v1h-1zM145 21h1v1h-1zM169 21h1v1h-1zM181 21h1v1h-1zM3 37h1v1h-1zM84 37h1v1h-1zM140 37h1v1h-1zM25 38h1v1h-1zM50 38h1v1h-1zM78 38h1v1h-1zM118 38h1v1h-1zM154 38h1v1h-1zM92 39h1v1h-1zM119 39h1v1h-1zM15 40h2v1h-2zM85 40h1v1h-1zM92 40h1v1h-1zM124 40h1v1h-1zM132 40h1v1h-1zM145 40h1v1h-1zM194 40h1v1h-1zM25 41h1v1h-1zM62 41h1v1h-1zM136 41h1v1h-1zM158 41h1v1h-1zM169 41h1v1h-1zM75 57h1v1h-1zM77 57h1v1h-1zM0 58h1v1h-1zM57 58h1v1h-1zM91 58h1v1h-1zM104 58h1v1h-1zM160 58h1v1h-1zM24 60h1v1h-1zM97 60h1v1h-1zM181 60h1v1h-1zM34 61h1v1h-1zM71 61h1v1h-1zM99 61h1v1h-1z"/>
<path fill="#50ffaf" d="M4 17h1v1h-1zM32 17h1v1h-1zM149 17h1v1h-1zM172 17h1v1h-1zM36 18h1v1h-1zM63 18h1v1h-1zM136 18h1v1h-1zM149 18h1v1h-1zM164 18h1v1h-1zM167 18h1v1h-1zM60 20h1v1h-1zM68 20h1v1h-1zM128 20h1v1h-1zM166 20h1v1h-1zM176 20h1v1h-1zM77 21h1v1h-1zM156 21h1v1h-1zM178 21h1v1h-1zM175 37h1v1h-1zM179 37h1v1h-1zM195 37h1v1h-1zM24 38h1v1h-1zM80 38h1v1h-1zM94 38h1v1h-1zM116 38h1v1h-1zM119 38h1v1h-1zM147 38h1v1h-1zM68 40h1v1h-1zM86 40h1v1h-1zM117 40h1v1h-1zM146 40h1v1h-1zM195 40h1v1h-1zM198 40h1v1h-1zM140 41h1v1h-1zM37 57h2v1h-2zM66 57h1v1h-1zM72 57h1v1h-1zM104 57h1v1h-1zM119 57h1v1h-1zM123 57h1v1h-1zM67 58h1v1h-1zM138 58h1v1h-1zM174 58h1v1h-1zM197 58h1v1h-1zM114 59h1v1h-1zM192 59h1v1h-1zM162 60h1v1h-1zM190 60h2v1h-2zM143 61h1v1h-1zM145 61h1v1h-1z"/>
<path fill="#60ff9f" d="M12 17h1v1h-1zM80 17h1v1h-1zM112 17h1v1h-1zM127 17h1v1h-1zM156 17h1v1h-1zM174 17h1v1h-1zM127 18h1v1h-1zM135 18h1v1h-1zM166 18h1v1h-1zM69 19h1v1h-1zM85 19h1v1h-1zM100 19h1v1h-1zM165 19h1v1h-1zM61 20h1v1h-1zM115 20h1v1h-1zM141 20h1v1h-1zM172 20h1v1h-1zM198 20h1v1h-1zM41 21h1v1h-1zM129 21h1v1h-1zM186 21h1v1h-1zM133 37h1v1h-1zM166 37h2v1h-2zM13 38h1v1h-1zM32 38h1v1h-1zM34 38h1v1h-1zM72 38h1v1h-1zM113 38h1v1h-1zM24 39h1v1h-1zM77 39h1v1h-1zM118 39h1v1h-1zM146 39h1v1h-1zM14 40h1v1h-1zM17 40h1v1h-1zM53 40h1v1h-1zM76 40h1v1h-1zM88 40h1v1h-1zM112 40h1v1h-1zM80 41h1v1h-1zM128 41h1v1h-1zM150 57h1v1h-1zM181 57h1v1h-1zM39 58h1v1h-1zM77 58h1v1h-1zM92 58h1v1h-1zM133 58h1v1h-1zM169 58h1v1h-1zM172 58h1v1h-1zM184 58h1v1h-1zM152 59h1v1h-1zM181 59h1v1h-1zM4 60h1v1h-1zM37 60h1v1h-1zM55 60h1v1h-1zM61 60h1v1h-1zM136 60h1v1h-1zM158 60h1v1h-1zM169 60h1v1h-1zM200 60h1v1h-1zM58 61h1v1h-1z"/>
<path fill="#70ff8f" d="M28 17h1v1h-1zM129 17h1v1h-1zM35 18h1v1h-1zM68 18h1v1h-1zM116 18h2v1h-2zM65 19h2v1h-2zM97 19h1v1h-1zM102 19h1v1h-1zM199 19h1v1h-1zM8 20h1v1h-1zM103 20h1v1h-1zM114 20h1v1h-1zM164 20h1v1h-1zM181 20h1v1h-1zM24 21h1v1h-1zM50 21h1v1h-1zM54 21h1v1h-1zM182 21h1v1h-1zM12 37h1v1h-1zM60 37h1v1h-1zM132 37h1v1h-1zM1 38h1v1h-1zM22 38h1v1h-1zM55 38h1v1h-1zM70 38h1v1h-1zM79 38h1v1h-1zM128 38h1v1h-1zM148 38h1v1h-1zM155 38h1v1h-1zM171 38h1v1h-1zM17 39h1v1h-1zM102 39h1v1h-1zM31 40h1v1h-1zM33 40h1v1h-1zM49 40h1v1h-1zM97 40h1v1h-1zM102 40h1v1h-1zM111 40h1v1h-1zM160 40h1v1h-1zM196 40h1v1h-1zM127 41h1v1h-1zM154 41h1v1h-1zM171 41h1v1h-1zM36 57h1v1h-1zM62 57h1v1h-1zM151 57h1v1h-1zM2 58h1v1h-1zM7 58h1v1h-1zM45 58h1v1h-1zM116 58h1v1h-1zM129 58h1v1h-1zM164 58h1v1h-1zM103 59h1v1h-1zM50 60h1v1h-1zM67 60h1v1h-1zM80 60h1v1h-1zM89 60h1v1h-1zM167 60h1v1h-1zM182 60h1v1h-1zM186 60h1v1h-1zM195 60h1v1h-1zM198 60h1v1h-1zM90 61h1v1h-1zM100 61h1v1h-1z"/>
<path fill="#80ff80" d="M111 17h1v1h-1zM190 17h1v1h-1zM0 18h2v1h-2zM49 18h1v1h-1zM62 18h1v1h-1zM84 18h1v1h-1zM137 18h1v1h-1zM145 18h1v1h-1zM154 18h1v1h-1zM176 18h1v1h-1zM39 19h1v1h-1zM129 19h1v1h-1zM148 19h1v1h-1zM166 19h1v1h-1zM11 20h1v1h-1zM47 20h1v1h-1zM83 20h1v1h-1zM140 20h1v1h-1zM147 20h1v1h-1zM150 20h1v1h-1zM162 20h1v1h-1zM168 20h1v1h-1zM1 21h1v1h-1zM107 21h2v1h-2zM41 37h1v1h-1zM77 37h1v1h-1zM16 38h1v1h-1zM49 38h1v1h-1zM91 38h1v1h-1zM95 38h1v1h-1zM103 38h1v1h-1zM114 38h1v1h-1zM196 38h1v1h-1zM199 38h1v1h-1zM16 39h1v1h-1zM61 39h1v1h-1zM86 39h1v1h-1zM126 39h1v1h-1zM199 39h2v1h-2zM30 40h1v1h-1zM35 40h1v1h-1zM100 40h1v1h-1zM126 40h1v1h-1zM147 40h1v1h-1zM157 40h1v1h-1zM15 57h1v1h-1zM133 57h1v1h-1zM136 57h1v1h-1zM1 58h1v1h-1zM18 58h1v1h-1zM69 58h1v1h-1zM119 58h1v1h-1zM155 58h1v1h-1zM137 59h1v1h-1zM28 60h1v1h-1zM108 60h1v1h-1zM166 60h1v1h-1zM199 60h1v1h-1zM11 61h1v1h-1zM31 61h1v1h-1z"/>
<path fill="#8fff70" d="M58 17h1v1h-1zM69 18h2v1h-2zM85 18h1v1h-1zM115 18h1v1h-1zM143 18h2v1h-2zM53 19h1v1h-1zM94 19h1v1h-1zM104 19h1v1h-1zM31 20h1v1h-1zM33 20h2v1h-2zM67 20h1v1h-1zM76 20h1v1h-1zM88 20h1v1h-1zM91 20h1v1h-1zM95 20h1v1h-1zM143 20h1v1h-1zM85 37h1v1h-1zM130 37h1v1h-1zM35 38h2v1h-2zM58 38h1v1h-1zM97 38h1v1h-1zM99 38h1v1h-1zM117 38h1v1h-1zM198 38h1v1h-1zM101 39h1v1h-1zM172 39h1v1h-1zM11 40h1v1h-1zM32 40h1v1h-1zM69 40h1v1h-1zM115 40h2v1h-2zM135 40h1v1h-1zM144 40h1v1h-1zM153 40h1v1h-1zM169 40h1v1h-1zM44 57h1v1h-1zM94 57h2v1h-2zM46 58h1v1h-1zM63 58h1v1h-1zM124 58h1v1h-1zM131 58h1v1h-1zM200 58h1v1h-1zM65 59h1v1h-1zM67 59h2v1h-2zM76 59h1v1h-1zM182 59h1v1h-1zM196 59h1v1h-1zM38 60h1v1h-1zM64 60h1v1h-1zM126 60h1v1h-1zM153 60h1v1h-1zM160 60h1v1h-1zM170 60h1v1h-1zM172 60h1v1h-1zM91 61h1v1h-1zM94 61h1v1h-1z"/>
<path fill="#9fff60" d="M8 17h1v1h-1zM81 17h1v1h-1zM130 17h1v1h-1zM10 18h1v1h-1zM21 18h1v1h-1zM38 18h1v1h-1zM66 18h1v1h-1zM95 18h2v1h-2zM170 18h1v1h-1zM200 18h1v1h-1zM61 19h2v1h-2zM84 19h1v1h-1zM116 19h1v1h-1zM144 19h1v1h-1zM151 19h1v1h-1zM163 19h1v1h-1zM38 20h1v1h-1zM75 20h1v1h-1zM94 20h1v1h-1zM113 20h1v1h-1zM117 20h1v1h-1zM133 20h1v1h-1zM135 20h1v1h-1zM137 20h1v1h-1zM152 20h1v1h-1zM161 20h1v1h-1zM10 37h1v1h-1zM48 37h1v1h-1zM17 38h1v1h-1zM105 38h1v1h-1zM126 38h1v1h-1zM153 38h1v1h-1zM162 38h1v1h-1zM12 39h1v1h-1zM35 39h1v1h-1zM48 39h1v1h-1zM55 39h1v1h-1zM79 39h1v1h-1zM85 39h1v1h-1zM90 39h1v1h-1zM154 39h1v1h-1zM198 39h1v1h-1zM20 40h1v1h-1zM47 40h1v1h-1zM54 40h1v1h-1zM56 40h1v1h-1zM72 40h1v1h-1zM200 40h1v1h-1zM191 41h1v1h-1zM98 57h1v1h-1zM135 57h1v1h-1zM148 57h1v1h-1zM66 58h1v1h-1zM83 58h1v1h-1zM99 58h1v1h-1zM110 58h1v1h-1zM137 58h1v1h-1zM171 58h1v1h-1zM185 58h1v1h-1zM38 59h1v1h-1zM90 59h1v1h-1zM184 59h1v1h-1zM187 59h1v1h-1zM0 60h1v1h-1zM5 60h1v1h-1zM40 60h1v1h-1zM131 60h1v1h-1zM183 60h1v1h-1zM144 61h1v1h-1z"/>
<path fill="#afff50" d="M16 18h1v1h-1zM24 18h1v1h-1zM40 18h1v1h-1zM43 18h1v1h-1zM142 18h1v1h-1zM156 18h1v1h-1zM68 19h1v1h-1zM91 19h1v1h-1zM96 19h1v1h-1zM108 19h1v1h-1zM115 19h1v1h-1zM168 19h2v1h-2zM0 20h1v1h-1zM10 20h1v1h-1zM19 20h1v1h-1zM48 20h1v1h-1zM52 20h1v1h-1zM56 20h1v1h-1zM66 20h1v1h-1zM81 20h2v1h-2zM121 20h1v1h-1zM125 20h1v1h-1zM142 20h1v1h-1zM151 20h1v1h-1zM173 20h1v1h-1zM33 38h1v1h-1zM62 38h1v1h-1zM69 38h1v1h-1zM86 38h2v1h-2zM98 38h1v1h-1zM170 38h1v1h-1zM32 39h1v1h-1zM69 39h1v1h-1zM73 39h1v1h-1zM89 39h1v1h-1zM93 39h1v1h-1zM145 39h1v1h-1zM153 39h1v1h-1zM161 39h1v1h-1zM170 39h1v1h-1zM21 40h2v1h-2zM61 40h1v1h-1zM73 40h1v1h-1zM77 40h1v1h-1zM98 40h1v1h-1zM113 40h2v1h-2zM133 40h1v1h-1zM168 40h1v1h-1zM21 58h1v1h-1zM42 58h1v1h-1zM100 58h1v1h-1zM142 58h1v1h-1zM188 58h1v1h-1zM29 59h1v1h-1zM40 59h1v1h-1zM62 59h1v1h-1zM66 59h1v1h-1zM85 59h1v1h-1zM91 59h1v1h-1zM115 59h1v1h-1zM128 59h1v1h-1zM130 59h1v1h-1zM183 59h1v1h-1zM16 60h1v1h-1zM65 60h1v1h-1zM98 60h1v1h-1zM135 60h1v1h-1zM185 60h1v1h-1z"/>
<path fill="#bfff40" d="M186 17h1v1h-1zM37 18h1v1h-1zM39 18h1v1h-1zM97 18h1v1h-1zM163 18h1v1h-1zM174 18h1v1h-1zM8 19h2v1h-2zM35 19h1v1h-1zM77 19h1v1h-1zM134 19h1v1h-1zM142 19h1v1h-1zM176 19h1v1h-1zM182 19h1v1h-1zM14 20h1v1h-1zM20 20h1v1h-1zM107 20h1v1h-1zM134 20h1v1h-1zM174 20h1v1h-1zM185 20h1v1h-1zM197 20h1v1h-1zM0 38h1v1h-1zM56 38h1v1h-1zM67 38h2v1h-2zM73 38h1v1h-1zM124 38h1v1h-1zM156 38h1v1h-1zM180 38h1v1h-1zM52 39h1v1h-1zM54 39h1v1h-1zM158 39h1v1h-1zM12 40h1v1h-1zM34 40h1v1h-1zM93 40h2v1h-2zM101 40h1v1h-1zM151 40h1v1h-1zM40 58h1v1h-1zM47 58h1v1h-1zM52 58h1v1h-1zM64 58h1v1h-1zM105 58h2v1h-2zM161 58h1v1h-1zM168 58h1v1h-1zM179 58h1v1h-1zM6 59h1v1h-1zM45 59h1v1h-1zM109 59h1v1h-1zM159 59h2v1h-2zM167 59h2v1h-2zM199 59h2v1h-2zM23 60h1v1h-1zM54 60h1v1h-1zM56 60h1v1h-1zM68 60h1v1h-1zM81 60h1v1h-1zM122 60h1v1h-1zM155 60h1v1h-1zM171 60h1v1h-1z"/>
<path fill="#cfff30" d="M73 18h1v1h-1zM77 18h1v1h-1zM89 18h1v1h-1zM100 18h1v1h-1zM112 18h1v1h-1zM146 18h1v1h-1zM160 18h1v1h-1zM180 18h1v1h-1zM0 19h1v1h-1zM13 19h1v1h-1zM38 19h1v1h-1zM95 19h1v1h-1zM114 19h1v1h-1zM136 19h1v1h-1zM167 19h1v1h-1zM12 20h1v1h-1zM35 20h1v1h-1zM97 20h1v1h-1zM144 20h1v1h-1zM18 38h1v1h-1zM37 38h1v1h-1zM51 38h1v1h-1zM63 38h2v1h-2zM71 38h1v1h-1zM74 38h1v1h-1zM88 38h1v1h-1zM100 38h1v1h-1zM104 38h1v1h-1zM146 38h1v1h-1zM179 38h1v1h-1zM197 38h1v1h-1zM21 39h1v1h-1zM25 39h1v1h-1zM70 39h1v1h-1zM87 39h1v1h-1zM96 39h1v1h-1zM106 39h1v1h-1zM113 39h1v1h-1zM147 39h1v1h-1zM152 39h1v1h-1zM4 40h1v1h-1zM10 40h1v1h-1zM36 40h1v1h-1zM46 40h1v1h-1zM52 40h1v1h-1zM55 40h1v1h-1zM78 40h1v1h-1zM89 40h1v1h-1zM95 40h2v1h-2zM19 58h1v1h-1zM24 58h1v1h-1zM53 58h1v1h-1zM156 58h1v1h-1zM158 58h1v1h-1zM187 58h1v1h-1zM39 59h1v1h-1zM44 59h1v1h-1zM86 59h1v1h-1zM132 59h1v1h-1zM139 59h1v1h-1zM170 59h1v1h-1zM2 60h1v1h-1zM20 60h1v1h-1zM43 60h1v1h-1zM47 60h1v1h-1zM75 60h2v1h-2zM117 60h1v1h-1zM128 60h2v1h-2zM159 60h1v1h-1z"/>
<path fill="#dfff20" d="M5 17h1v1h-1zM45 18h1v1h-1zM50 18h1v1h-1zM83 18h1v1h-1zM90 18h1v1h-1zM106 18h1v1h-1zM140 18h1v1h-1zM175 18h1v1h-1zM178 18h1v1h-1zM187 18h1v1h-1zM34 19h1v1h-1zM48 19h1v1h-1zM67 19h1v1h-1zM70 19h1v1h-1zM81 19h1v1h-1zM200 19h1v1h-1zM129 20h1v1h-1zM138 20h1v1h-1zM3 38h1v1h-1zM12 38h1v1h-1zM134 38h2v1h-2zM137 38h1v1h-1zM186 38h1v1h-1zM192 38h1v1h-1zM200 38h1v1h-1zM31 39h1v1h-1zM34 39h1v1h-1zM50 39h1v1h-1zM57 39h1v1h-1zM94 39h1v1h-1zM116 39h1v1h-1zM125 39h1v1h-1zM148 39h1v1h-1zM197 39h1v1h-1zM29 40h1v1h-1zM67 40h1v1h-1zM70 40h1v1h-1zM80 40h1v1h-1zM83 40h2v1h-2zM87 40h1v1h-1zM152 40h1v1h-1zM178 40h3v1h-3zM183 40h1v1h-1zM63 57h1v1h-1zM56 58h1v1h-1zM68 58h1v1h-1zM82 58h1v1h-1zM165 58h1v1h-1zM170 58h1v1h-1zM175 58h1v1h-1zM186 58h1v1h-1zM196 58h1v1h-1zM30 59h1v1h-1zM82 59h1v1h-1zM98 59h1v1h-1zM104 59h1v1h-1zM154 59h1v1h-1zM171 59h1v1h-1zM173 59h1v1h-1zM30 60h1v1h-1zM62 60h1v1h-1zM85 60h1v1h-1zM114 60h1v1h-1zM125 60h1v1h-1zM163 60h1v1h-1zM168 60h1v1h-1z"/>
<path fill="#efff10" d="M5 18h1v1h-1zM14 18h1v1h-1zM33 18h2v1h-2zM107 18h1v1h-1zM114 18h1v1h-1zM139 18h1v1h-1zM177 18h1v1h-1zM186 18h1v1h-1zM76 19h1v1h-1zM82 19h1v1h-1zM92 19h1v1h-1zM135 19h1v1h-1zM139 19h1v1h-1zM143 19h1v1h-1zM145 19h1v1h-1zM164 19h1v1h-1zM173 19h1v1h-1zM21 20h2v1h-2zM63 20h1v1h-1zM69 20h2v1h-2zM79 20h2v1h-2zM89 20h1v1h-1zM112 20h1v1h-1zM122 20h1v1h-1zM132 20h1v1h-1zM154 20h1v1h-1zM157 20h1v1h-1zM175 20h1v1h-1zM190 20h1v1h-1zM192 20h1v1h-1zM200 20h1v1h-1zM6 38h1v1h-1zM14 38h1v1h-1zM31 38h1v1h-1zM66 38h1v1h-1zM89 38h1v1h-1zM101 38h1v1h-1zM191 38h1v1h-1zM23 39h1v1h-1zM47 39h1v1h-1zM51 39h1v1h-1zM53 39h1v1h-1zM98 39h1v1h-1zM100 39h1v1h-1zM112 39h1v1h-1zM115 39h1v1h-1zM151 39h1v1h-1zM194 39h2v1h-2zM3 40h1v1h-1zM28 40h1v1h-1zM58 40h1v1h-1zM66 40h1v1h-1zM162 40h1v1h-1zM174 40h1v1h-1zM184 40h1v1h-1zM36 58h1v1h-1zM44 58h1v1h-1zM50 58h1v1h-1zM54 58h1v1h-1zM85 58h1v1h-1zM128 58h1v1h-1zM140 58h1v1h-1zM166 58h1v1h-1zM191 58h1v1h-1zM0 59h1v1h-1zM46 59h1v1h-1zM53 59h1v1h-1zM99 59h1v1h-1zM141 59h1v1h-1zM155 59h1v1h-1zM157 59h2v1h-2zM163 59h1v1h-1zM165 59h1v1h-1zM26 60h1v1h-1zM45 60h1v1h-1zM70 60h1v1h-1zM74 60h1v1h-1zM157 60h1v1h-1zM161 60h1v1h-1zM164 60h2v1h-2z"/>
<path fill="#ffff00" d="M122 17h1v1h-1zM12 18h2v1h-2zM19 18h1v1h-1zM23 18h1v1h-1zM65 18h1v1h-1zM71 18h1v1h-1zM76 18h1v1h-1zM99 18h1v1h-1zM119 18h1v1h-1zM125 18h1v1h-1zM147 18h1v1h-1zM190 18h1v1h-1zM195 18h2v1h-2zM21 19h2v1h-2zM72 19h1v1h-1zM99 19h1v1h-1zM124 19h1v1h-1zM126 19h1v1h-1zM186 19h1v1h-1zM3 20h1v1h-1zM15 20h1v1h-1zM39 20h1v1h-1zM62 20h1v1h-1zM85 20h1v1h-1zM169 20h1v1h-1zM188 20h1v1h-1zM131 37h1v1h-1zM27 38h2v1h-2zM75 38h1v1h-1zM85 38h1v1h-1zM90 38h1v1h-1zM102 38h1v1h-1zM110 38h1v1h-1zM150 38h2v1h-2zM195 38h1v1h-1zM15 39h1v1h-1zM30 39h1v1h-1zM33 39h1v1h-1zM68 39h1v1h-1zM84 39h1v1h-1zM114 39h1v1h-1zM117 39h1v1h-1zM133 39h2v1h-2zM169 39h1v1h-1zM180 39h1v1h-1zM8 40h2v1h-2zM99 40h1v1h-1zM108 40h1v1h-1zM122 40h1v1h-1zM150 40h1v1h-1zM173 40h1v1h-1zM177 40h1v1h-1zM13 58h1v1h-1zM23 58h1v1h-1zM43 58h1v1h-1zM48 58h2v1h-2zM70 58h1v1h-1zM73 58h1v1h-1zM79 58h1v1h-1zM87 58h1v1h-1zM98 58h1v1h-1zM130 58h1v1h-1zM145 58h1v1h-1zM159 58h1v1h-1zM180 58h1v1h-1zM194 58h2v1h-2zM1 59h1v1h-1zM18 59h1v1h-1zM22 59h1v1h-1zM123 59h1v1h-1zM161 59h1v1h-1zM185 59h1v1h-1zM7 60h2v1h-2zM19 60h1v1h-1zM29 60h1v1h-1zM46 60h1v1h-1zM48 60h1v1h-1zM53 60h1v1h-1zM79 60h1v1h-1zM82 60h1v1h-1zM87 60h1v1h-1zM138 60h1v1h-1zM192 60h1v1h-1z"/>
<path fill="#ffef00" d="M17 18h1v1h-1zM20 18h1v1h-1zM22 18h1v1h-1zM29 18h1v1h-1zM61 18h1v1h-1zM93 18h1v1h-1zM133 18h1v1h-1zM172 18h1v1h-1zM1 19h1v1h-1zM36 19h1v1h-1zM89 19h1v1h-1zM141 19h1v1h-1zM155 19h1v1h-1zM185 19h1v1h-1zM23 20h1v1h-1zM74 20h1v1h-1zM98 20h1v1h-1zM111 20h1v1h-1zM177 20h1v1h-1zM186 20h1v1h-1zM193 20h1v1h-1zM196 20h1v1h-1zM4 38h2v1h-2zM30 38h1v1h-1zM48 38h1v1h-1zM82 38h1v1h-1zM96 38h1v1h-1zM143 38h1v1h-1zM145 38h1v1h-1zM152 38h1v1h-1zM159 38h2v1h-2zM181 38h2v1h-2zM13 39h1v1h-1zM22 39h1v1h-1zM67 39h1v1h-1zM88 39h1v1h-1zM127 39h1v1h-1zM155 39h1v1h-1zM186 39h1v1h-1zM123 40h1v1h-1zM148 40h1v1h-1zM158 40h1v1h-1zM185 40h1v1h-1zM9 58h1v1h-1zM16 58h1v1h-1zM28 58h1v1h-1zM32 58h2v1h-2zM55 58h1v1h-1zM72 58h1v1h-1zM80 58h1v1h-1zM89 58h1v1h-1zM127 58h1v1h-1zM143 58h1v1h-1zM163 58h1v1h-1zM14 59h1v1h-1zM17 59h1v1h-1zM20 59h1v1h-1zM26 59h1v1h-1zM32 59h1v1h-1zM55 59h2v1h-2zM63 59h1v1h-1zM136 59h1v1h-1zM178 59h1v1h-1zM6 60h1v1h-1zM14 60h1v1h-1zM42 60h1v1h-1zM51 60h1v1h-1zM73 60h1v1h-1zM84 60h1v1h-1zM96 60h1v1h-1zM134 60h1v1h-1zM137 60h1v1h-1zM154 60h1v1h-1z"/>
<path fill="#ffdf00" d="M2 18h1v1h-1zM8 18h1v1h-1zM28 18h1v1h-1zM41 18h1v1h-1zM56 18h1v1h-1zM72 18h1v1h-1zM87 18h1v1h-1zM108 18h1v1h-1zM124 18h1v1h-1zM131 18h2v1h-2zM134 18h1v1h-1zM157 18h1v1h-1zM159 18h1v1h-1zM161 18h2v1h-2zM171 18h1v1h-1zM189 18h1v1h-1zM194 18h1v1h-1zM199 18h1v1h-1zM15 19h1v1h-1zM23 19h1v1h-1zM28 19h1v1h-1zM31 19h1v1h-1zM40 19h1v1h-1zM49 19h1v1h-1zM86 19h1v1h-1zM98 19h1v1h-1zM117 19h1v1h-1zM123 19h1v1h-1zM6 20h1v1h-1zM43 20h1v1h-1zM49 20h1v1h-1zM54 20h1v1h-1zM87 20h1v1h-1zM92 20h1v1h-1zM130 20h1v1h-1zM159 20h1v1h-1zM178 20h1v1h-1zM184 20h1v1h-1zM29 38h1v1h-1zM38 38h1v1h-1zM44 38h1v1h-1zM60 38h1v1h-1zM123 38h1v1h-1zM164 38h1v1h-1zM176 38h1v1h-1zM178 38h1v1h-1zM183 38h1v1h-1zM103 39h2v1h-2zM136 39h1v1h-1zM1 40h2v1h-2zM13 40h1v1h-1zM27 40h1v1h-1zM38 40h1v1h-1zM140 40h1v1h-1zM142 40h1v1h-1zM154 40h1v1h-1zM189 40h1v1h-1zM10 58h1v1h-1zM15 58h1v1h-1zM17 58h1v1h-1zM31 58h1v1h-1zM58 58h1v1h-1zM76 58h1v1h-1zM90 58h1v1h-1zM111 58h1v1h-1zM123 58h1v1h-1zM139 58h1v1h-1zM167 58h1v1h-1zM173 58h1v1h-1zM41 59h1v1h-1zM78 59h1v1h-1zM81 59h1v1h-1zM100 59h1v1h-1zM118 59h1v1h-1zM120 59h1v1h-1zM11 60h1v1h-1zM17 60h1v1h-1zM25 60h1v1h-1zM41 60h1v1h-1zM63 60h1v1h-1zM66 60h1v1h-1zM94 60h1v1h-1zM121 60h1v1h-1zM149 60h1v1h-1zM177 60h1v1h-1z"/>
<path fill="#ffcf00" d="M25 18h1v1h-1zM31 18h1v1h-1zM48 18h1v1h-1zM51 18h1v1h-1zM57 18h1v1h-1zM91 18h1v1h-1zM109 18h1v1h-1zM192 18h1v1h-1zM32 19h1v1h-1zM37 19h1v1h-1zM63 19h1v1h-1zM88 19h1v1h-1zM146 19h1v1h-1zM152 19h1v1h-1zM174 19h1v1h-1zM179 19h1v1h-1zM194 19h1v1h-1zM27 20h1v1h-1zM30 20h1v1h-1zM32 20h1v1h-1zM57 20h1v1h-1zM59 20h1v1h-1zM110 20h1v1h-1zM116 20h1v1h-1zM123 20h1v1h-1zM158 20h1v1h-1zM189 20h1v1h-1zM76 38h1v1h-1zM111 38h1v1h-1zM136 38h1v1h-1zM138 38h1v1h-1zM140 38h1v1h-1zM167 38h1v1h-1zM169 38h1v1h-1zM188 38h2v1h-2zM0 39h1v1h-1zM62 39h1v1h-1zM66 39h1v1h-1zM78 39h1v1h-1zM99 39h1v1h-1zM141 39h1v1h-1zM179 39h1v1h-1zM181 39h1v1h-1zM40 40h1v1h-1zM42 40h1v1h-1zM44 40h1v1h-1zM121 40h1v1h-1zM134 40h1v1h-1zM138 40h2v1h-2zM143 40h1v1h-1zM161 40h1v1h-1zM164 40h1v1h-1zM186 40h1v1h-1zM190 40h1v1h-1zM4 58h1v1h-1zM8 58h1v1h-1zM27 58h1v1h-1zM59 58h1v1h-1zM81 58h1v1h-1zM120 58h1v1h-1zM144 58h1v1h-1zM48 59h1v1h-1zM88 59h1v1h-1zM105 59h1v1h-1zM129 59h1v1h-1zM142 59h1v1h-1zM150 59h1v1h-1zM186 59h1v1h-1zM190 59h1v1h-1zM3 60h1v1h-1zM15 60h1v1h-1zM21 60h2v1h-2zM34 60h1v1h-1zM57 60h1v1h-1zM77 60h1v1h-1zM111 60h1v1h-1zM119 60h1v1h-1zM142 60h1v1h-1zM156 60h1v1h-1zM173 60h1v1h-1zM184 60h1v1h-1zM193 60h1v1h-1z"/>
<path fill="#ffbf00" d="M30 18h1v1h-1zM32 18h1v1h-1zM46 18h1v1h-1zM81 18h2v1h-2zM141 18h1v1h-1zM158 18h1v1h-1zM179 18h1v1h-1zM191 18h1v1h-1zM193 18h1v1h-1zM12 19h1v1h-1zM47 19h1v1h-1zM83 19h1v1h-1zM113 19h1v1h-1zM122 19h1v1h-1zM130 19h1v1h-1zM138 19h1v1h-1zM153 19h1v1h-1zM159 19h1v1h-1zM162 19h1v1h-1zM177 19h1v1h-1zM190 19h1v1h-1zM17 20h2v1h-2zM40 20h1v1h-1zM120 20h1v1h-1zM145 20h1v1h-1zM153 20h1v1h-1zM187 20h1v1h-1zM194 20h1v1h-1zM46 38h1v1h-1zM57 38h1v1h-1zM61 38h1v1h-1zM142 38h1v1h-1zM158 38h1v1h-1zM161 38h1v1h-1zM163 38h1v1h-1zM175 38h1v1h-1zM187 38h1v1h-1zM190 38h1v1h-1zM194 38h1v1h-1zM4 39h2v1h-2zM28 39h1v1h-1zM36 39h2v1h-2zM43 39h1v1h-1zM95 39h1v1h-1zM97 39h1v1h-1zM109 39h1v1h-1zM163 39h1v1h-1zM171 39h1v1h-1zM196 39h1v1h-1zM6 40h1v1h-1zM25 40h1v1h-1zM41 40h1v1h-1zM43 40h1v1h-1zM74 40h1v1h-1zM82 40h1v1h-1zM109 40h2v1h-2zM137 40h1v1h-1zM141 40h1v1h-1zM165 40h1v1h-1zM167 40h1v1h-1zM170 40h1v1h-1zM188 40h1v1h-1zM96 58h1v1h-1zM101 58h1v1h-1zM126 58h1v1h-1zM177 58h1v1h-1zM8 59h1v1h-1zM15 59h1v1h-1zM23 59h1v1h-1zM31 59h1v1h-1zM49 59h1v1h-1zM54 59h1v1h-1zM122 59h1v1h-1zM127 59h1v1h-1zM172 59h1v1h-1zM194 59h1v1h-1zM31 60h1v1h-1zM83 60h1v1h-1zM100 60h1v1h-1zM104 60h1v1h-1zM109 60h1v1h-1zM118 60h1v1h-1zM141 60h1v1h-1zM143 60h1v1h-1zM189 60h1v1h-1zM197 60h1v1h-1z"/>
<path fill="#ffaf00" d="M11 18h1v1h-1zM47 18h1v1h-1zM58 18h2v1h-2zM113 18h1v1h-1zM188 18h1v1h-1zM20 19h1v1h-1zM57 19h1v1h-1zM64 19h1v1h-1zM112 19h1v1h-1zM161 19h1v1h-1zM171 19h1v1h-1zM175 19h1v1h-1zM189 19h1v1h-1zM191 19h1v1h-1zM41 20h1v1h-1zM45 20h1v1h-1zM71 20h1v1h-1zM77 20h1v1h-1zM104 20h1v1h-1zM106 20h1v1h-1zM160 20h1v1h-1zM182 20h1v1h-1zM195 20h1v1h-1zM11 38h1v1h-1zM129 38h1v1h-1zM141 38h1v1h-1zM174 38h1v1h-1zM184 38h2v1h-2zM3 39h1v1h-1zM29 39h1v1h-1zM42 39h1v1h-1zM56 39h1v1h-1zM74 39h1v1h-1zM81 39h1v1h-1zM124 39h1v1h-1zM175 39h1v1h-1zM177 39h2v1h-2zM192 39h1v1h-1zM71 40h1v1h-1zM149 40h1v1h-1zM156 40h1v1h-1zM176 40h1v1h-1zM3 58h1v1h-1zM12 58h1v1h-1zM20 58h1v1h-1zM78 58h1v1h-1zM86 58h1v1h-1zM95 58h1v1h-1zM113 58h1v1h-1zM135 58h1v1h-1zM141 58h1v1h-1zM198 58h1v1h-1zM7 59h1v1h-1zM27 59h1v1h-1zM51 59h2v1h-2zM77 59h1v1h-1zM80 59h1v1h-1zM89 59h1v1h-1zM143 59h1v1h-1zM162 59h1v1h-1zM193 59h1v1h-1zM32 60h2v1h-2zM49 60h1v1h-1zM71 60h1v1h-1zM115 60h2v1h-2zM120 60h1v1h-1zM124 60h1v1h-1zM139 60h1v1h-1zM175 60h1v1h-1z"/>
<path fill="#ff9f00" d="M60 18h1v1h-1zM64 18h1v1h-1zM118 18h1v1h-1zM123 18h1v1h-1zM173 18h1v1h-1zM181 18h1v1h-1zM198 18h1v1h-1zM4 19h1v1h-1zM11 19h1v1h-1zM16 19h1v1h-1zM18 19h1v1h-1zM33 19h1v1h-1zM50 19h1v1h-1zM52 19h1v1h-1zM75 19h1v1h-1zM80 19h1v1h-1zM105 19h1v1h-1zM107 19h1v1h-1zM131 19h1v1h-1zM181 19h1v1h-1zM187 19h1v1h-1zM9 20h1v1h-1zM72 20h1v1h-1zM127 20h1v1h-1zM139 20h1v1h-1zM2 38h1v1h-1zM23 38h1v1h-1zM40 38h1v1h-1zM54 38h1v1h-1zM112 38h1v1h-1zM139 38h1v1h-1zM144 38h1v1h-1zM59 39h1v1h-1zM71 39h1v1h-1zM123 39h1v1h-1zM149 39h1v1h-1zM162 39h1v1h-1zM37 40h1v1h-1zM64 40h1v1h-1zM127 40h1v1h-1zM136 40h1v1h-1zM25 58h1v1h-1zM34 58h1v1h-1zM51 58h1v1h-1zM118 58h1v1h-1zM3 59h1v1h-1zM16 59h1v1h-1zM58 59h1v1h-1zM69 59h1v1h-1zM84 59h1v1h-1zM110 59h1v1h-1zM119 59h1v1h-1zM169 59h1v1h-1zM59 60h1v1h-1zM99 60h1v1h-1zM148 60h1v1h-1zM174 60h1v1h-1zM196 60h1v1h-1z"/>
<path fill="#ff8f00" d="M42 18h1v1h-1zM74 18h2v1h-2zM155 18h1v1h-1zM197 18h1v1h-1zM43 19h1v1h-1zM55 19h1v1h-1zM60 19h1v1h-1zM71 19h1v1h-1zM106 19h1v1h-1zM118 19h1v1h-1zM132 19h1v1h-1zM198 19h1v1h-1zM24 20h1v1h-1zM26 20h1v1h-1zM46 20h1v1h-1zM55 20h1v1h-1zM58 20h1v1h-1zM105 20h1v1h-1zM118 20h1v1h-1zM155 20h1v1h-1zM179 20h2v1h-2zM8 38h1v1h-1zM15 38h1v1h-1zM39 38h1v1h-1zM42 38h1v1h-1zM84 38h1v1h-1zM125 38h1v1h-1zM165 38h1v1h-1zM172 38h1v1h-1zM39 39h1v1h-1zM60 39h1v1h-1zM63 39h1v1h-1zM111 39h1v1h-1zM144 39h1v1h-1zM159 39h1v1h-1zM184 39h2v1h-2zM187 39h1v1h-1zM26 40h1v1h-1zM57 40h1v1h-1zM62 40h2v1h-2zM75 40h1v1h-1zM159 40h1v1h-1zM175 40h1v1h-1zM181 40h1v1h-1zM193 40h1v1h-1zM22 58h1v1h-1zM35 58h1v1h-1zM102 58h1v1h-1zM117 58h1v1h-1zM136 58h1v1h-1zM157 58h1v1h-1zM199 58h1v1h-1zM71 59h2v1h-2zM125 59h2v1h-2zM164 59h1v1h-1zM166 59h1v1h-1zM10 60h1v1h-1zM13 60h1v1h-1zM18 60h1v1h-1zM52 60h1v1h-1zM78 60h1v1h-1zM88 60h1v1h-1zM144 60h1v1h-1zM147 60h1v1h-1zM194 60h1v1h-1z"/>
<path fill="#ff8000" d="M26 18h1v1h-1zM53 18h1v1h-1zM10 19h1v1h-1zM27 19h1v1h-1zM51 19h1v1h-1zM59 19h1v1h-1zM73 19h1v1h-1zM111 19h1v1h-1zM156 19h1v1h-1zM196 19h1v1h-1zM5 20h1v1h-1zM78 20h1v1h-1zM131 20h1v1h-1zM171 20h1v1h-1zM10 38h1v1h-1zM43 38h1v1h-1zM133 38h1v1h-1zM193 38h1v1h-1zM2 39h1v1h-1zM11 39h1v1h-1zM64 39h1v1h-1zM72 39h1v1h-1zM132 39h1v1h-1zM135 39h1v1h-1zM137 39h1v1h-1zM150 39h1v1h-1zM160 39h1v1h-1zM164 39h1v1h-1zM166 39h1v1h-1zM168 39h1v1h-1zM174 39h1v1h-1zM176 39h1v1h-1zM182 39h1v1h-1zM0 40h1v1h-1zM39 40h1v1h-1zM59 40h1v1h-1zM131 40h1v1h-1zM191 40h1v1h-1zM5 58h1v1h-1zM65 58h1v1h-1zM71 58h1v1h-1zM121 58h2v1h-2zM148 58h1v1h-1zM151 58h1v1h-1zM190 58h1v1h-1zM9 59h1v1h-1zM33 59h1v1h-1zM35 59h1v1h-1zM57 59h1v1h-1zM75 59h1v1h-1zM79 59h1v1h-1zM116 59h1v1h-1zM135 59h1v1h-1zM138 59h1v1h-1zM140 59h1v1h-1zM174 59h1v1h-1zM197 59h1v1h-1zM72 60h1v1h-1zM146 60h1v1h-1zM188 60h1v1h-1z"/>
<path fill="#ff7000" d="M121 18h1v1h-1zM41 19h1v1h-1zM74 19h1v1h-1zM158 19h1v1h-1zM160 19h1v1h-1zM170 19h1v1h-1zM178 19h1v1h-1zM188 19h1v1h-1zM192 19h2v1h-2zM197 19h1v1h-1zM2 20h1v1h-1zM29 20h1v1h-1zM50 20h1v1h-1zM119 20h1v1h-1zM124 20h1v1h-1zM170 20h1v1h-1zM65 38h1v1h-1zM77 38h1v1h-1zM168 38h1v1h-1zM177 38h1v1h-1zM7 39h1v1h-1zM27 39h1v1h-1zM75 39h1v1h-1zM140 39h1v1h-1zM143 39h1v1h-1zM165 39h1v1h-1zM183 39h1v1h-1zM5 40h1v1h-1zM128 40h1v1h-1zM163 40h1v1h-1zM14 58h1v1h-1zM134 58h1v1h-1zM149 58h1v1h-1zM176 58h1v1h-1zM2 59h1v1h-1zM43 59h1v1h-1zM74 59h1v1h-1zM97 59h1v1h-1zM156 59h1v1h-1zM189 59h1v1h-1zM198 59h1v1h-1zM1 60h1v1h-1zM92 60h1v1h-1zM178 60h1v1h-1z"/>
<path fill="#ff6000" d="M3 18h2v1h-2zM18 18h1v1h-1zM110 18h1v1h-1zM120 18h1v1h-1zM122 18h1v1h-1zM7 19h1v1h-1zM24 19h1v1h-1zM26 19h1v1h-1zM90 19h1v1h-1zM133 19h1v1h-1zM1 20h1v1h-1zM4 20h1v1h-1zM16 20h1v1h-1zM191 20h1v1h-1zM59 38h1v1h-1zM131 38h1v1h-1zM38 39h1v1h-1zM40 39h1v1h-1zM76 39h1v1h-1zM122 39h1v1h-1zM138 39h2v1h-2zM191 39h1v1h-1zM166 40h1v1h-1zM182 40h1v1h-1zM37 58h1v1h-1zM74 58h1v1h-1zM84 58h1v1h-1zM103 58h1v1h-1zM12 59h1v1h-1zM24 59h1v1h-1zM42 59h1v1h-1zM50 59h1v1h-1zM60 59h1v1h-1zM83 59h1v1h-1zM121 59h1v1h-1zM144 59h1v1h-1zM130 60h1v1h-1zM132 60h2v1h-2z"/>
<path fill="#ff5000" d="M6 18h2v1h-2zM27 18h1v1h-1zM44 18h1v1h-1zM52 18h1v1h-1zM126 18h1v1h-1zM184 18h1v1h-1zM6 19h1v1h-1zM19 19h1v1h-1zM30 19h1v1h-1zM46 19h1v1h-1zM119 19h1v1h-1zM195 19h1v1h-1zM28 20h1v1h-1zM73 20h1v1h-1zM45 38h1v1h-1zM132 38h1v1h-1zM14 39h1v1h-1zM26 39h1v1h-1zM45 39h1v1h-1zM65 39h1v1h-1zM157 39h1v1h-1zM188 39h1v1h-1zM193 39h1v1h-1zM81 40h1v1h-1zM130 40h1v1h-1zM155 40h1v1h-1zM61 58h1v1h-1zM75 58h1v1h-1zM132 58h1v1h-1zM4 59h1v1h-1zM112 59h1v1h-1zM101 60h1v1h-1z"/>
<path fill="#ff4000" d="M111 18h1v1h-1zM182 18h1v1h-1zM29 19h1v1h-1zM42 19h1v1h-1zM44 19h2v1h-2zM56 19h1v1h-1zM58 19h1v1h-1zM78 19h1v1h-1zM93 19h1v1h-1zM121 19h1v1h-1zM125 19h1v1h-1zM140 19h1v1h-1zM25 20h1v1h-1zM51 20h1v1h-1zM108 20h2v1h-2zM126 20h1v1h-1zM156 20h1v1h-1zM1 39h1v1h-1zM9 39h1v1h-1zM83 39h1v1h-1zM167 39h1v1h-1zM19 59h1v1h-1zM21 59h1v1h-1zM70 59h1v1h-1zM73 59h1v1h-1zM95 59h1v1h-1zM102 59h1v1h-1zM176 59h1v1h-1zM69 60h1v1h-1zM93 60h1v1h-1z"/>
<path fill="#ff3000" d="M94 18h1v1h-1zM5 19h1v1h-1zM25 19h1v1h-1zM127 19h1v1h-1zM154 19h1v1h-1zM183 19h1v1h-1zM183 20h1v1h-1zM9 38h1v1h-1zM47 38h1v1h-1zM130 38h1v1h-1zM166 38h1v1h-1zM44 39h1v1h-1zM46 39h1v1h-1zM110 39h1v1h-1zM189 39h1v1h-1zM172 40h1v1h-1zM187 40h1v1h-1zM11 59h1v1h-1zM179 59h1v1h-1zM60 60h1v1h-1z"/>
<path fill="#ff2000" d="M128 18h2v1h-2zM120 19h1v1h-1zM180 19h1v1h-1zM44 20h1v1h-1zM41 38h1v1h-1zM157 38h1v1h-1zM10 39h1v1h-1zM58 39h1v1h-1zM142 39h1v1h-1zM7 40h1v1h-1zM129 40h1v1h-1zM94 58h1v1h-1zM133 59h2v1h-2zM145 59h1v1h-1zM148 59h1v1h-1zM175 59h1v1h-1zM35 60h1v1h-1z"/>
<path fill="#ff1000" d="M148 18h1v1h-1zM185 18h1v1h-1zM128 19h1v1h-1zM147 19h1v1h-1zM172 19h1v1h-1zM146 20h1v1h-1zM41 39h1v1h-1zM128 39h1v1h-1zM130 39h1v1h-1zM190 39h1v1h-1zM45 40h1v1h-1zM47 59h1v1h-1zM64 59h1v1h-1zM117 59h1v1h-1zM131 59h1v1h-1zM147 59h1v1h-1zM149 59h1v1h-1zM195 59h1v1h-1zM12 60h1v1h-1zM95 60h1v1h-1zM145 60h1v1h-1z"/>
<path fill="#ff0000" d="M79 18h1v1h-1zM42 20h1v1h-1zM7 38h1v1h-1zM6 39h1v1h-1zM131 39h1v1h-1zM173 39h1v1h-1zM192 40h1v1h-1zM146 58h1v1h-1z"/>
<path fill="#ef0000" d="M2 19h2v1h-2zM83 38h1v1h-1zM36 59h1v1h-1zM61 59h1v1h-1z"/>
<path fill="#df0000" d="M109 19h1v1h-1zM157 19h1v1h-1zM62 58h1v1h-1zM93 58h1v1h-1zM147 58h1v1h-1zM13 59h1v1h-1zM94 59h1v1h-1zM96 59h1v1h-1zM101 59h1v1h-1z"/>
<path fill="#cf0000" d="M80 18h1v1h-1zM79 19h1v1h-1zM82 39h1v1h-1zM156 39h1v1h-1zM93 59h1v1h-1z"/>
<path fill="#bf0000" d="M17 19h1v1h-1zM110 19h1v1h-1zM184 19h1v1h-1zM8 39h1v1h-1zM97 58h1v1h-1zM150 58h1v1h-1zM92 59h1v1h-1zM91 60h1v1h-1z"/>
<path fill="#af0000" d="M129 39h1v1h-1z"/>
<path fill="#9f0000" d="M34 59h1v1h-1z"/>
<path fill="#800000" d="M146 59h1v1h-1z"/>
</g></g>
<rect x="417.3" y="954.8" width="999.1" height="301" fill="none" stroke="#151515" stroke-width="2.5" stroke-linejoin="round"/>
<text class="s" x="398.6" y="1228.7" font-size="38" text-anchor="end" fill="#262626">0</text>
<text class="s" x="398.6" y="1143.9" font-size="38" text-anchor="end" fill="#262626">20</text>
<text class="s" x="398.6" y="1059.1" font-size="38" text-anchor="end" fill="#262626">40</text>
<text class="s" x="398.6" y="975.5" font-size="38" text-anchor="end" fill="#262626">60</text>
<path d="M419.8 1255.8v-10M419.8 954.8v10M668.3 1255.8v-10M668.3 954.8v10M916.9 1255.8v-10M916.9 954.8v10M1165.4 1255.8v-10M1165.4 954.8v10M1413.9 1255.8v-10M1413.9 954.8v10M417.3 1211.3h10M1416.4 1211.3h-10M417.3 1126.5h10M1416.4 1126.5h-10M417.3 1041.7h10M1416.4 1041.7h-10M417.3 956.9h10M1416.4 956.9h-10" stroke="#262626" stroke-width="2" fill="none"/>
<text class="s" x="920" y="939.3" font-size="44.5" text-anchor="middle" fill="#000">3D TomoSAR</text>
<text class="t" transform="translate(331.3 1094.6) rotate(-90)" font-size="48" text-anchor="middle" fill="#000">Height [m]</text>
</g>
<text class="s" x="420.5" y="1315.9" font-size="38" text-anchor="middle" fill="#262626">750</text>
<text class="s" x="669" y="1315.9" font-size="38" text-anchor="middle" fill="#262626">800</text>
<text class="s" x="917.6" y="1315.9" font-size="38" text-anchor="middle" fill="#262626">850</text>
<text class="s" x="1166.1" y="1315.9" font-size="38" text-anchor="middle" fill="#262626">900</text>
<text class="s" x="1414.6" y="1315.9" font-size="38" text-anchor="middle" fill="#262626">950</text>
<text class="s" x="919.5" y="1372.2" font-size="43.6" text-anchor="middle" fill="#262626">Ground Range [m]</text>
<g>
<clipPath id="c0"><rect x="1526.7" y="198.3" width="637" height="314.8"/></clipPath>
<path d="M1739.4 512.1v-6.5M1739.4 199.3v6.5M1951 512.1v-6.5M1951 199.3v6.5M1527.7 467.4h6.5M2162.7 467.4h-6.5M1527.7 378h6.5M2162.7 378h-6.5M1527.7 288.7h6.5M2162.7 288.7h-6.5" stroke="#262626" stroke-width="1.8" fill="none"/>
<rect x="1527.7" y="199.3" width="635" height="312.8" fill="none" stroke="#262626" stroke-width="2.4" stroke-linejoin="round"/>
<path d="M1616.4 199.1C1617.4 199.3 1620.9 199.9 1622.3 200.5C1623.6 201.2 1624.7 202.1 1624.5 202.9C1624.2 203.6 1622.9 204.3 1620.8 205C1618.7 205.8 1614.4 206.5 1612.1 207.2C1609.7 208 1607.7 208.7 1606.9 209.4C1606.2 210.2 1607 211.1 1607.7 211.9C1608.3 212.7 1610.2 213.4 1610.9 214.1C1611.6 214.8 1611.8 215.6 1611.8 216.3C1611.7 217 1610.1 217.8 1610.6 218.5C1611.1 219.2 1612.1 219.6 1615 220.7C1617.9 221.8 1623.7 223.6 1628.1 225.1C1632.5 226.5 1638.2 228.3 1641.3 229.5C1644.3 230.6 1645.9 231 1646.4 232.1C1646.9 233.2 1645.2 234.6 1644.2 236C1643.2 237.4 1642 239.1 1640.5 240.4C1639.1 241.7 1637.5 242.8 1635.4 244.1C1633.4 245.3 1630.6 246.5 1628.1 247.7C1625.7 248.9 1622.4 250.4 1620.8 251.4C1619.2 252.3 1618.6 252.8 1618.6 253.6C1618.6 254.3 1619.5 255.3 1620.8 256C1622.2 256.8 1622.8 257.1 1626.7 257.9C1630.6 258.8 1637.6 260.1 1644.2 261.2C1650.8 262.2 1658.8 263.1 1666.1 264.2C1673.4 265.3 1681 266.3 1688 267.7C1695.1 269.1 1702.9 271 1708.5 272.6C1714.1 274.1 1717.5 275.2 1721.6 276.9C1725.8 278.6 1729.4 280.8 1733.3 282.8C1737.2 284.8 1740.6 287.2 1745 289.1C1749.4 290.9 1754.5 292.4 1759.6 294C1764.7 295.7 1771.6 297.6 1775.7 298.9C1779.8 300.1 1782.8 301 1784.5 301.8C1786.1 302.6 1786.1 302.9 1785.6 303.7C1785.1 304.4 1784.4 305.3 1781.5 306.2C1778.7 307.1 1775.5 307.9 1768.4 309.1C1761.3 310.3 1751.3 312 1739.2 313.5C1727 314.9 1708.7 316.5 1695.3 317.8C1681.9 319.2 1668.5 320.4 1658.8 321.5C1649.1 322.6 1641.4 323.5 1636.9 324.4C1632.4 325.4 1632.9 326 1631.8 327.3C1630.6 328.7 1630.6 330.9 1629.9 332.5C1629.1 334 1627.9 335.6 1627.4 336.8C1626.9 338.1 1626.6 338.8 1627 339.8C1627.3 340.7 1628.2 341.6 1629.6 342.7C1631 343.8 1633 344.9 1635.4 346.3C1637.9 347.8 1641 350 1644.2 351.5C1647.4 352.9 1649.6 354 1654.4 355.1C1659.3 356.2 1666.6 357.2 1673.4 358C1680.2 358.8 1684.4 359.2 1695.3 359.9C1706.3 360.6 1724.6 361.4 1739.2 362.1C1753.8 362.8 1766.2 363.3 1783 364.2C1799.8 365 1821.5 366.3 1840 367.2C1858.5 368.2 1878.5 369 1893.8 369.9C1909.1 370.8 1920.6 371.6 1931.8 372.8C1943 374 1954.2 375.9 1961 377.2C1967.9 378.5 1972.7 379.3 1972.7 380.4C1972.7 381.5 1967.9 382.7 1961 383.8C1954.2 384.9 1943 385.9 1931.8 387C1920.6 388.1 1907.5 389.2 1893.8 390.4C1880.2 391.5 1861.8 393 1850 393.7C1838.2 394.4 1838.9 393.8 1822.7 394.4C1806.6 395 1777.5 396.6 1752.9 397.5C1728.3 398.4 1697.2 399.1 1675.3 399.8C1653.3 400.5 1634.4 401.1 1620.9 401.7C1607.5 402.3 1600.3 402.7 1594.5 403.3C1588.7 403.8 1587.5 404.2 1586 404.8C1584.4 405.4 1584.8 406 1585.2 406.8C1585.6 407.7 1587.5 408.9 1588.3 409.9C1589.1 411 1588.8 412.2 1589.9 413C1590.9 413.9 1590.6 414.2 1594.5 415.1C1598.4 415.9 1606.2 417.2 1613.2 418.2C1620.1 419.1 1629.5 419.9 1636.4 420.8C1643.4 421.7 1650.8 422.7 1655.1 423.4C1659.3 424.2 1661.8 424.5 1662.1 425.1C1662.3 425.8 1659.6 426.9 1656.6 427.5C1653.6 428.1 1648.3 428.6 1644.2 428.9C1640.1 429.2 1635.9 429 1631.8 429.3C1627.6 429.7 1624.5 430.6 1619.4 431.2C1614.2 431.8 1605.3 432.2 1600.7 432.8C1596.2 433.3 1592.2 433.8 1592.2 434.3C1592.2 434.8 1594.7 435.3 1600.7 435.9C1606.8 436.4 1618.8 436.9 1628.7 437.4C1638.5 437.9 1649.4 438.3 1659.7 439C1670.1 439.6 1683.4 440.7 1690.8 441.4C1698.2 442.2 1704 442.6 1704 443.3C1704 444 1698.2 444.9 1690.8 445.6C1683.4 446.4 1668.8 447.1 1659.7 447.7C1650.7 448.2 1641.9 448.7 1636.4 449.1C1631 449.4 1626.9 449.7 1627.1 450C1627.4 450.3 1630 450.7 1638 451.1C1646 451.4 1658.7 451.7 1675.3 452.2C1691.8 452.6 1716.7 453.3 1737.4 453.7C1758.1 454.2 1779 454.5 1799.5 454.8C1819.9 455.1 1839.4 455.5 1860 455.7C1880.6 456 1900.4 455.7 1923.1 456.1C1945.7 456.5 1971.8 457.5 1996.1 458.3C2020.5 459.1 2047.3 459.8 2069.2 460.8C2091.1 461.8 2113.5 463.2 2127.6 464.1C2141.7 465.1 2148.1 465.7 2153.9 466.3C2159.8 467 2162.7 467.3 2162.7 467.8C2162.7 468.3 2162.2 468.8 2153.9 469.6C2145.6 470.3 2129.6 471.4 2113 472.2C2096.4 473 2076.5 473.6 2054.6 474.4C2032.6 475.2 2005.9 476.3 1981.5 477C1957.1 477.7 1930.4 478.2 1908.4 478.8C1886.5 479.3 1868.2 479.9 1850 480.2C1831.8 480.5 1818.2 480.4 1799.5 480.6C1780.7 480.8 1758.1 481.2 1737.4 481.5C1716.7 481.8 1693.4 482.1 1675.3 482.4C1657.1 482.7 1640.1 483.1 1628.7 483.4C1617.3 483.7 1612.1 483.9 1606.9 484.1C1601.8 484.4 1597.4 484.8 1597.6 485.1C1597.9 485.4 1600.7 485.6 1608.5 486C1616.3 486.4 1633.1 487 1644.2 487.6C1655.3 488.1 1667 488.6 1675.3 489.1C1683.5 489.6 1689.4 490.2 1693.9 490.7C1698.4 491.1 1702.4 491.4 1702.4 491.9C1702.4 492.4 1701 492.8 1693.9 493.5C1686.8 494.1 1673.2 495 1659.7 495.8C1646.3 496.5 1627.4 497.3 1613.2 498C1598.9 498.6 1583.9 499 1574.3 499.5C1564.8 500 1560 500.3 1555.7 500.8C1551.4 501.2 1548.5 501.6 1548.7 502C1549 502.4 1551.7 502.8 1557.3 503.2C1562.8 503.7 1575.4 504.2 1582.1 504.8C1588.8 505.4 1593.2 506.2 1597.6 507C1602 507.7 1605.9 508.5 1608.5 509.3C1611.1 510.1 1612.4 511.2 1613.2 511.6" stroke="#ff0000" stroke-width="2.2" fill="none" stroke-linejoin="round" stroke-linecap="round" clip-path="url(#c0)"/>
</g>
<g>
<clipPath id="c1"><rect x="1526.7" y="574.7" width="637" height="314.5"/></clipPath>
<path d="M1739.4 888.2v-6.5M1739.4 575.7v6.5M1951 888.2v-6.5M1951 575.7v6.5M1527.7 843.6h6.5M2162.7 843.6h-6.5M1527.7 754.3h6.5M2162.7 754.3h-6.5M1527.7 665h6.5M2162.7 665h-6.5" stroke="#262626" stroke-width="1.8" fill="none"/>
<rect x="1527.7" y="575.7" width="635" height="312.5" fill="none" stroke="#262626" stroke-width="2.4" stroke-linejoin="round"/>
<path d="M1609.1 575.5C1613.8 575.7 1627.4 576.4 1636.9 576.9C1646.4 577.5 1658.3 578.2 1666.1 578.7C1673.9 579.2 1679.6 579.7 1683.6 580.2C1687.7 580.6 1690 581 1690.2 581.6C1690.5 582.2 1686.9 583.1 1685.1 583.8C1683.3 584.5 1679.8 584.9 1679.6 585.6C1679.3 586.2 1681.7 586.9 1683.6 587.5C1685.5 588 1689.4 588.4 1691 588.9C1692.5 589.5 1693.4 589.9 1693.1 590.7C1692.9 591.4 1690.6 592.6 1689.5 593.3C1688.4 594 1687.3 594 1686.6 594.8C1685.8 595.5 1686.1 596.8 1685.1 597.7C1684.1 598.5 1682.7 599.3 1680.7 599.9C1678.8 600.5 1676.3 600.8 1673.4 601.3C1670.5 601.8 1666.8 602 1663.2 602.8C1659.5 603.6 1655.4 605.1 1651.5 606.2C1647.6 607.3 1642.5 608.5 1639.8 609.4C1637.1 610.2 1635.2 610.4 1635.4 611.1C1635.7 611.9 1637.4 612.8 1641.3 613.8C1645.2 614.7 1652.2 615.6 1658.8 616.7C1665.4 617.8 1674.9 619.4 1680.7 620.3C1686.6 621.3 1691.1 621.9 1693.9 622.5C1696.7 623.1 1697.8 623.4 1697.5 624C1697.3 624.5 1696.4 625.2 1692.4 625.9C1688.4 626.6 1680.2 627.5 1673.4 628.4C1666.6 629.2 1657.6 630.3 1651.5 631C1645.4 631.7 1641.3 632.2 1636.9 632.8C1632.5 633.3 1628.9 633.7 1625.2 634.2C1621.5 634.7 1617.9 635.2 1615 635.7C1612.1 636.1 1609.6 636.4 1607.7 636.8C1605.7 637.3 1603.6 637.9 1603.3 638.6C1602.9 639.3 1605 640.1 1605.5 640.8C1606 641.4 1606.7 641.9 1606.2 642.5C1605.7 643.1 1605.2 643.8 1602.6 644.4C1599.9 645.1 1593.9 645.9 1590.1 646.6C1586.4 647.3 1582.1 648 1579.9 648.5C1577.7 649 1576.5 649.1 1577 649.6C1577.5 650 1577.7 650.7 1582.8 651.3C1587.9 651.9 1596.2 652.6 1607.7 653.2C1619.1 653.8 1634.5 654.4 1651.5 655C1668.5 655.6 1690.5 656.2 1709.9 656.9C1729.4 657.5 1751.3 658.2 1768.4 658.8C1785.4 659.4 1800.3 660 1812.2 660.5C1824.2 661 1828.8 661 1840 661.7C1851.2 662.4 1869 663.8 1879.2 664.6C1889.4 665.4 1896 665.9 1901.1 666.5C1906.3 667.1 1909.4 667.5 1909.9 668.2C1910.4 668.9 1909.2 670 1904.1 670.8C1898.9 671.7 1888.2 672.4 1879.2 673.3C1870.2 674.2 1863.6 675.6 1850 676.3C1836.4 676.9 1816.1 676.7 1797.6 677.3C1779.1 678 1758.7 679.3 1739.2 680.2C1719.7 681.1 1696.6 682 1680.7 682.7C1664.9 683.5 1653.9 684 1644.2 684.6C1634.5 685.3 1629.6 685.7 1622.3 686.5C1615 687.3 1607.7 688.4 1600.4 689.4C1593.1 690.5 1585.8 691.6 1578.4 692.7C1571.1 693.7 1562.4 694.8 1556.5 695.6C1550.7 696.4 1546.1 697 1543.4 697.5C1540.7 697.9 1539.7 697.8 1540.5 698.2C1541.2 698.6 1541.4 699.1 1547.8 699.7C1554.1 700.2 1567.2 700.8 1578.4 701.4C1589.6 702 1604 702.6 1615 703.2C1625.9 703.7 1636.9 704.1 1644.2 704.6C1651.5 705.2 1652.7 706.1 1658.8 706.5C1664.9 707 1673.4 707.1 1680.7 707.6C1688 708 1695.8 708.5 1702.6 709C1709.5 709.6 1716.8 710.4 1721.6 710.9C1726.5 711.5 1729.7 712 1731.9 712.4C1734.1 712.7 1735 712.7 1734.8 713.1C1734.5 713.5 1734.5 713.9 1730.4 714.6C1726.3 715.2 1718.2 716.3 1709.9 717.1C1701.7 717.8 1690.5 718.6 1680.7 719.3C1671 719.9 1661.2 720.6 1651.5 721.1C1641.8 721.7 1631.5 722.1 1622.3 722.6C1613 723.1 1602.1 723.7 1596 724.1C1589.9 724.5 1587.8 724.8 1585.8 725.1C1583.7 725.4 1582.8 725.5 1583.6 725.8C1584.3 726.2 1586.6 726.7 1590.1 727.3C1593.7 727.9 1600.4 728.8 1604.7 729.5C1609.1 730.1 1613.9 730.6 1616.4 731.1C1619 731.6 1620.1 731.9 1620.1 732.4C1620.1 732.9 1618.3 733.4 1616.4 733.9C1614.6 734.3 1611.1 734.8 1609.1 735.3C1607.2 735.8 1604.5 736.3 1604.7 736.8C1605 737.3 1606.5 737.8 1610.6 738.2C1614.7 738.7 1620.3 739 1629.6 739.4C1638.8 739.9 1650.3 740.4 1666.1 740.9C1681.9 741.4 1705.1 741.8 1724.6 742.3C1744 742.8 1763.8 743.3 1783 743.8C1802.2 744.3 1824 744.9 1840 745.3C1856 745.6 1868.3 745.8 1879.2 745.9C1890.1 746.1 1895.8 745.9 1905.5 746.4C1915.3 746.8 1925 747.9 1937.7 748.6C1950.3 749.3 1968.1 749.8 1981.5 750.5C1994.9 751.2 2008.3 752 2018 752.7C2027.8 753.3 2034.7 753.9 2039.9 754.4C2045.2 755 2049.4 755.3 2049.4 755.9C2049.4 756.5 2046.4 757.3 2039.9 758.1C2033.5 758.8 2022.9 759.5 2010.7 760.3C1998.5 761 1983.9 761.7 1966.9 762.5C1949.8 763.2 1927.9 764 1908.4 764.7C1889 765.3 1868.2 766.2 1850 766.6C1831.8 766.9 1818.2 766.5 1799.5 766.8C1780.7 767 1758.1 767.7 1737.4 768.2C1716.7 768.6 1696 769 1675.3 769.4C1654.6 769.8 1631.3 770.2 1613.2 770.6C1595 771.1 1579 771.6 1566.6 772C1554.2 772.5 1545 773 1538.6 773.3C1532.3 773.6 1527.8 773.7 1528.5 774.1C1529.3 774.5 1536.9 775.1 1543.3 775.6C1549.6 776.1 1559.6 776.7 1566.6 777.2C1573.6 777.7 1580.9 778.3 1585.2 778.7C1589.5 779.2 1590.8 779.6 1592.2 780C1593.6 780.4 1594.7 780.6 1593.7 781.1C1592.8 781.5 1590.5 782.3 1586.8 782.9C1583 783.6 1575.9 784.3 1571.2 784.9C1566.6 785.5 1561.7 786 1558.8 786.5C1556 787 1553.9 787.4 1554.2 788C1554.4 788.6 1555.7 789.4 1560.4 790.1C1565 790.7 1573.3 791.2 1582.1 791.9C1590.9 792.6 1602.8 793.5 1613.2 794.2C1623.5 795 1635.1 795.9 1644.2 796.6C1653.3 797.3 1661.8 797.9 1667.5 798.4C1673.2 799 1676 799.5 1678.4 800C1680.7 800.5 1682 800.7 1681.5 801.2C1680.9 801.8 1678.9 802.5 1675.3 803.1C1671.6 803.7 1666.2 804.4 1659.7 805.1C1653.3 805.8 1643.7 806.7 1636.4 807.4C1629.2 808.2 1620.8 808.9 1616.3 809.5C1611.7 810.1 1609.3 810.5 1609.3 811C1609.3 811.5 1611.7 812.1 1616.3 812.6C1620.8 813.1 1629.2 813.6 1636.4 814.1C1643.7 814.6 1653.3 815.2 1659.7 815.7C1666.2 816.2 1670.6 816.8 1675.3 817.2C1679.9 817.7 1684.6 817.9 1687.7 818.3C1690.8 818.7 1692.9 819.2 1693.9 819.6C1694.9 819.9 1694.9 820.2 1693.9 820.6C1692.9 821.1 1692.1 821.6 1687.7 822.2C1683.3 822.8 1673.4 823.5 1667.5 824.1C1661.5 824.6 1655.6 824.9 1652 825.3C1648.3 825.7 1645.2 826 1645.8 826.4C1646.3 826.8 1647.6 827.2 1655.1 827.6C1662.6 828 1677.1 828.5 1690.8 828.9C1704.5 829.3 1719.2 829.6 1737.4 830C1755.5 830.3 1779 830.7 1799.5 831C1819.9 831.4 1838.6 832 1860 832.3C1881.4 832.6 1903.4 832.2 1927.6 832.8C1951.8 833.3 1982 834.5 2005.3 835.4C2028.5 836.3 2049.2 837.2 2067.4 838C2085.5 838.9 2101 839.6 2113.9 840.4C2126.9 841.1 2137 841.8 2145 842.4C2153 843 2162.1 843.3 2162.1 843.9C2162.1 844.6 2155.6 845.4 2145 846.3C2134.4 847.2 2116.5 848.5 2098.4 849.4C2080.3 850.3 2057 851 2036.3 851.7C2015.6 852.4 1994.9 853.1 1974.2 853.7C1953.5 854.4 1932.8 855 1912.1 855.6C1891.4 856.1 1868.8 856.8 1850 857.1C1831.2 857.4 1818.2 857.2 1799.5 857.2C1780.7 857.3 1758.1 857.4 1737.4 857.6C1716.7 857.8 1692.1 858.3 1675.3 858.7C1658.4 859 1645.8 859.4 1636.4 859.8C1627.1 860.1 1623.2 860.5 1619.4 860.9C1615.5 861.2 1612.1 861.5 1613.2 861.9C1614.2 862.4 1619.1 862.8 1625.6 863.3C1632 863.8 1643.7 864.3 1652 864.9C1660.2 865.5 1669.6 866.2 1675.3 866.8C1680.9 867.3 1683.9 867.6 1686.1 868C1688.3 868.4 1689.2 868.6 1688.5 869.1C1687.7 869.5 1686.3 870.2 1681.5 870.8C1676.7 871.4 1668.5 872 1659.7 872.7C1650.9 873.3 1639 874 1628.7 874.5C1618.3 875 1606.7 875.4 1597.6 875.8C1588.6 876.1 1580 876.5 1574.3 876.8C1568.6 877.2 1565.7 877.5 1563.5 877.8C1561.3 878.1 1560.4 878.2 1561.1 878.6C1561.9 878.9 1564.9 879.6 1568.1 880.1C1571.4 880.6 1577.6 881.2 1580.5 881.7C1583.5 882.1 1585.5 882.6 1586 883.1C1586.5 883.5 1584.8 884.1 1583.7 884.6C1582.5 885.1 1578.7 885.7 1579 886.2C1579.3 886.6 1582.4 886.8 1585.2 887.1C1588.1 887.4 1594.3 887.7 1596.1 887.9" stroke="#ff0000" stroke-width="2.2" fill="none" stroke-linejoin="round" stroke-linecap="round" clip-path="url(#c1)"/>
</g>
<g>
<clipPath id="c2"><rect x="1526.7" y="948" width="637" height="314.5"/></clipPath>
<path d="M1739.4 1261.5v-6.5M1739.4 949v6.5M1951 1261.5v-6.5M1951 949v6.5M1527.7 1216.9h6.5M2162.7 1216.9h-6.5M1527.7 1127.6h6.5M2162.7 1127.6h-6.5M1527.7 1038.3h6.5M2162.7 1038.3h-6.5" stroke="#262626" stroke-width="1.8" fill="none"/>
<rect x="1527.7" y="949" width="635" height="312.5" fill="none" stroke="#262626" stroke-width="2.4" stroke-linejoin="round"/>
<path d="M1631 948.8C1633.2 949.1 1639.6 949.9 1644.2 950.5C1648.8 951.1 1655.2 951.7 1658.8 952.4C1662.5 953.1 1664.5 953.8 1666.1 954.6C1667.7 955.5 1667.5 956.6 1668.3 957.5C1669.2 958.5 1670.4 959.6 1671.2 960.5C1672.1 961.3 1673.8 961.8 1673.4 962.6C1673.1 963.5 1672.2 964.5 1669 965.6C1665.9 966.7 1659.8 968 1654.4 969.2C1649.1 970.4 1642.7 971.9 1636.9 972.9C1631 973.9 1624 974.6 1619.4 975.4C1614.7 976.2 1611.4 976.9 1609.1 977.7C1606.8 978.5 1605.8 979.2 1605.5 980.2C1605.1 981.2 1605.6 982.5 1606.9 983.8C1608.3 985.2 1610.5 986.6 1613.5 988.2C1616.6 989.8 1621.5 991.9 1625.2 993.3C1628.9 994.8 1632.8 996 1635.4 997C1638.1 998 1641 998.3 1641 999.2C1641 1000 1638.5 1001.2 1635.4 1002.1C1632.3 1003 1626.9 1003.8 1622.3 1004.6C1617.7 1005.4 1611.3 1006.2 1607.7 1006.8C1604 1007.4 1600.4 1007.7 1600.4 1008.2C1600.4 1008.8 1602.8 1009.6 1607.7 1010.1C1612.5 1010.7 1622.3 1011.1 1629.6 1011.6C1636.9 1012.1 1644.2 1012.7 1651.5 1013.3C1658.8 1014 1668.1 1015.1 1673.4 1015.7C1678.8 1016.3 1681.6 1016.6 1683.6 1017C1685.7 1017.4 1686.8 1017.4 1685.8 1017.9C1684.9 1018.3 1682.3 1019.1 1677.8 1019.6C1673.3 1020.2 1665.6 1020.6 1658.8 1021.1C1652 1021.6 1642.4 1022.1 1636.9 1022.6C1631.4 1023 1625.9 1023.3 1625.9 1023.7C1625.9 1024.1 1630.2 1024.6 1636.9 1025C1643.6 1025.5 1653.9 1025.8 1666.1 1026.2C1678.3 1026.6 1692.9 1027 1709.9 1027.4C1727 1027.7 1746.7 1028.1 1768.4 1028.4C1790.1 1028.7 1814.5 1029 1840 1029.4C1865.5 1029.8 1895.8 1030.1 1921.3 1030.6C1946.7 1031.2 1968.8 1031.9 1992.6 1032.6C2016.3 1033.3 2043 1033.9 2063.8 1034.7C2084.6 1035.5 2103 1036.5 2117.3 1037.4C2131.5 1038.3 2142.4 1039.4 2149.4 1040.1C2156.3 1040.8 2160 1040.9 2159.2 1041.5C2158.3 1042.2 2154 1043.2 2144 1044C2134.1 1044.9 2118.8 1045.9 2099.5 1046.7C2080.2 1047.5 2051.9 1048.3 2028.2 1049C2004.4 1049.7 1977.7 1050.3 1956.9 1050.8C1936.1 1051.3 1921.3 1051.6 1903.5 1052C1885.6 1052.4 1870.1 1052.7 1850 1053.1C1829.9 1053.5 1803.9 1053.9 1783 1054.3C1762.1 1054.6 1741.6 1055 1724.6 1055.4C1707.5 1055.8 1692.9 1056.3 1680.7 1056.6C1668.5 1056.9 1658.3 1057 1651.5 1057.3C1644.7 1057.6 1642.7 1058 1639.8 1058.4C1636.9 1058.7 1633.2 1059 1634 1059.4C1634.7 1059.8 1639.3 1060.3 1644.2 1060.8C1649.1 1061.4 1658.3 1062.2 1663.2 1062.7C1668.1 1063.3 1671.4 1063.8 1673.4 1064.2C1675.4 1064.6 1675.9 1064.5 1675.2 1064.9C1674.4 1065.3 1673 1066.1 1669 1066.7C1665.1 1067.2 1659.3 1067.7 1651.5 1068.3C1643.7 1068.9 1632 1069.7 1622.3 1070.3C1612.5 1070.9 1601.1 1071.5 1593.1 1071.9C1585 1072.4 1578.4 1072.8 1574.1 1073.3C1569.7 1073.7 1567 1074.2 1566.8 1074.7C1566.5 1075.3 1568.2 1075.8 1572.6 1076.6C1577 1077.4 1586.7 1078.6 1593.1 1079.5C1599.4 1080.5 1606.6 1081.6 1610.6 1082.5C1614.6 1083.3 1616.7 1083.9 1617.2 1084.7C1617.7 1085.4 1616.1 1086.1 1613.5 1086.8C1611 1087.6 1606.5 1088.3 1601.8 1089C1597.2 1089.8 1591.4 1090.5 1585.8 1091.2C1580.2 1092 1573.3 1092.8 1568.2 1093.4C1563.1 1094.1 1557.7 1094.7 1555.1 1095.2C1552.4 1095.6 1552 1095.6 1552.4 1096C1552.9 1096.5 1553.7 1097.3 1558 1097.8C1562.3 1098.3 1571.4 1098.8 1578.4 1099.3C1585.5 1099.8 1593.5 1100.4 1600.4 1100.7C1607.2 1101 1613.3 1100.8 1619.4 1101.2C1625.4 1101.5 1631 1102.3 1636.9 1102.9C1642.7 1103.5 1650.3 1104.1 1654.4 1104.7C1658.6 1105.2 1661.7 1105.6 1661.7 1106.1C1661.7 1106.7 1658.6 1107.5 1654.4 1108C1650.3 1108.6 1642.7 1109 1636.9 1109.5C1631 1110 1623.1 1110.5 1619.4 1111C1615.6 1111.4 1613.3 1111.8 1614.2 1112.1C1615.2 1112.5 1616.6 1112.8 1625.2 1113.1C1633.8 1113.5 1649.6 1113.9 1666.1 1114.3C1682.7 1114.7 1705.1 1115 1724.6 1115.3C1744 1115.7 1763.8 1116.1 1783 1116.5C1802.2 1116.9 1816.9 1117.5 1840 1117.8C1863 1118.2 1895.8 1118 1921.3 1118.5C1946.7 1119 1968.8 1120.1 1992.6 1120.8C2016.3 1121.6 2043 1122.2 2063.8 1123C2084.6 1123.7 2103.9 1124.5 2117.3 1125.3C2130.6 1126 2138.1 1126.8 2144 1127.4C2150 1128 2153.2 1127.9 2152.9 1128.8C2152.6 1129.7 2148.2 1131.8 2142.2 1132.8C2136.3 1133.7 2128.9 1133.9 2117.3 1134.5C2105.7 1135.2 2093.5 1136 2072.7 1136.7C2051.9 1137.4 2017.8 1137.9 1992.6 1138.6C1967.3 1139.3 1945 1140.2 1921.3 1140.8C1897.5 1141.4 1870.3 1141.9 1850 1142.2C1829.7 1142.5 1818.2 1142.1 1799.5 1142.3C1780.7 1142.5 1758.1 1143.2 1737.4 1143.6C1716.7 1144 1692.1 1144.5 1675.3 1144.8C1658.4 1145.2 1646.3 1145.6 1636.4 1145.9C1626.6 1146.3 1620.4 1146.5 1616.3 1146.9C1612.1 1147.2 1610.8 1147.5 1611.6 1147.9C1612.4 1148.4 1616 1149 1620.9 1149.5C1625.8 1150 1635.7 1150.6 1641.1 1151.1C1646.5 1151.5 1650.9 1151.9 1653.5 1152.3C1656.1 1152.7 1657.4 1152.9 1656.6 1153.4C1655.8 1153.9 1653.5 1154.6 1648.9 1155.2C1644.2 1155.9 1637.2 1156.6 1628.7 1157.3C1620.1 1157.9 1608 1158.5 1597.6 1159.1C1587.3 1159.8 1574.3 1160.5 1566.6 1161.1C1558.8 1161.7 1554.3 1162.3 1551.1 1162.7C1547.8 1163.1 1546.4 1163.3 1547.2 1163.8C1547.9 1164.3 1551.2 1165.1 1555.7 1165.8C1560.2 1166.5 1568.6 1167.4 1574.3 1168.1C1580 1168.8 1585.5 1169.4 1589.9 1170C1594.3 1170.6 1598 1170.9 1600.7 1171.5C1603.4 1172.1 1605.1 1173 1606.2 1173.6C1607.2 1174.1 1607.8 1174.1 1606.9 1174.6C1606 1175.2 1604.4 1176.1 1600.7 1177C1597.1 1177.8 1590.4 1178.9 1585.2 1179.8C1580 1180.6 1573.4 1181.5 1569.7 1182.1C1566 1182.7 1563.2 1183.1 1563.2 1183.7C1563.2 1184.2 1565.2 1184.9 1569.7 1185.5C1574.1 1186.1 1581.3 1186.6 1589.9 1187.2C1598.4 1187.8 1611.9 1188.5 1620.9 1189.1C1630 1189.7 1637.7 1190.1 1644.2 1190.6C1650.7 1191.2 1655.8 1191.8 1659.7 1192.2C1663.6 1192.6 1665.9 1192.9 1667.5 1193.3C1669 1193.6 1670.3 1193.7 1669 1194.2C1667.8 1194.7 1664.4 1195.5 1659.7 1196.1C1655.1 1196.6 1646.5 1197.2 1641.1 1197.6C1635.7 1198.1 1630 1198.5 1627.1 1198.9C1624.3 1199.2 1622.5 1199.3 1624 1199.6C1625.6 1200 1627.9 1200.3 1636.4 1200.7C1645 1201.1 1658.4 1201.5 1675.3 1202C1692.1 1202.4 1716.7 1202.9 1737.4 1203.4C1758.1 1203.8 1779 1204.2 1799.5 1204.6C1819.9 1205 1839.7 1205.3 1860 1205.7C1880.3 1206.1 1899.2 1206.6 1921.3 1207.1C1943.4 1207.5 1971.8 1208.2 1992.6 1208.5C2013.3 1208.8 2031.2 1208.3 2046 1208.8C2060.9 1209.3 2068.3 1210.8 2081.6 1211.5C2095 1212.2 2114.3 1212.2 2126.2 1212.9C2138.1 1213.7 2147 1215.2 2152.9 1216C2158.9 1216.8 2163.3 1216.9 2161.8 1217.7C2160.3 1218.6 2154.4 1220 2144 1221C2133.6 1221.9 2118.8 1222.7 2099.5 1223.6C2080.2 1224.5 2051.9 1225.5 2028.2 1226.3C2004.4 1227.1 1977.7 1227.8 1956.9 1228.4C1936.1 1229 1921.3 1229.4 1903.5 1229.9C1885.6 1230.3 1867.3 1230.9 1850 1231.1C1832.7 1231.3 1818.2 1231.1 1799.5 1231.2C1780.7 1231.4 1758.1 1231.7 1737.4 1232.1C1716.7 1232.4 1691.3 1233 1675.3 1233.3C1659.2 1233.7 1649.4 1234 1641.1 1234.3C1632.8 1234.6 1628.9 1234.8 1625.6 1235C1622.2 1235.3 1619.1 1235.5 1620.9 1235.8C1622.7 1236.2 1628.7 1236.6 1636.4 1237.2C1644.2 1237.8 1659.2 1238.6 1667.5 1239.2C1675.8 1239.8 1682.1 1240.3 1686.1 1240.8C1690.1 1241.3 1691.8 1241.7 1691.6 1242.2C1691.3 1242.7 1689.9 1243.2 1684.6 1243.9C1679.3 1244.5 1669 1245.3 1659.7 1246.1C1650.4 1246.8 1638 1247.8 1628.7 1248.6C1619.4 1249.3 1610 1250.2 1603.8 1250.7C1597.6 1251.3 1594.1 1251.6 1591.4 1252C1588.8 1252.3 1587.5 1252.5 1588 1252.9C1588.5 1253.3 1591.4 1253.9 1594.5 1254.6C1597.7 1255.4 1603.3 1256.5 1606.9 1257.4C1610.6 1258.3 1613.2 1259 1616.3 1259.7C1619.4 1260.4 1624 1261.3 1625.6 1261.6" stroke="#ff0000" stroke-width="2.2" fill="none" stroke-linejoin="round" stroke-linecap="round" clip-path="url(#c2)"/>
</g>
<text class="s" x="1846" y="186.7" font-size="39" text-anchor="middle" fill="#000">Profile</text>
<text class="s" x="1526.2" y="1320.9" font-size="38.2" text-anchor="middle" fill="#262626">-15</text>
<text class="s" x="1737.9" y="1320.9" font-size="38.2" text-anchor="middle" fill="#262626">-10</text>
<text class="s" x="1949.5" y="1320.9" font-size="38.2" text-anchor="middle" fill="#262626">-5</text>
<text class="s" x="2161.2" y="1320.9" font-size="38.2" text-anchor="middle" fill="#262626">0</text>
<text class="s" x="1852.8" y="1376.2" font-size="38.8" text-anchor="middle" fill="#262626">Power [dB]</text>
<g shape-rendering="crispEdges">
<rect x="110.4" y="1251.1" width="98.6" height="5.3" fill="#00008f"/>
<rect x="110.4" y="1246.4" width="98.6" height="5.3" fill="#00009f"/>
<rect x="110.4" y="1241.7" width="98.6" height="5.3" fill="#0000af"/>
<rect x="110.4" y="1237" width="98.6" height="5.3" fill="#0000bf"/>
<rect x="110.4" y="1232.3" width="98.6" height="5.3" fill="#0000cf"/>
<rect x="110.4" y="1227.6" width="98.6" height="5.3" fill="#0000df"/>
<rect x="110.4" y="1222.9" width="98.6" height="5.3" fill="#0000ef"/>
<rect x="110.4" y="1218.2" width="98.6" height="5.3" fill="#0000ff"/>
<rect x="110.4" y="1213.5" width="98.6" height="5.3" fill="#0010ff"/>
<rect x="110.4" y="1208.8" width="98.6" height="5.3" fill="#0020ff"/>
<rect x="110.4" y="1204.1" width="98.6" height="5.3" fill="#0030ff"/>
<rect x="110.4" y="1199.4" width="98.6" height="5.3" fill="#0040ff"/>
<rect x="110.4" y="1194.7" width="98.6" height="5.3" fill="#0050ff"/>
<rect x="110.4" y="1190" width="98.6" height="5.3" fill="#0060ff"/>
<rect x="110.4" y="1185.3" width="98.6" height="5.3" fill="#0070ff"/>
<rect x="110.4" y="1180.6" width="98.6" height="5.3" fill="#0080ff"/>
<rect x="110.4" y="1175.9" width="98.6" height="5.3" fill="#008fff"/>
<rect x="110.4" y="1171.2" width="98.6" height="5.3" fill="#009fff"/>
<rect x="110.4" y="1166.5" width="98.6" height="5.3" fill="#00afff"/>
<rect x="110.4" y="1161.8" width="98.6" height="5.3" fill="#00bfff"/>
<rect x="110.4" y="1157.1" width="98.6" height="5.3" fill="#00cfff"/>
<rect x="110.4" y="1152.4" width="98.6" height="5.3" fill="#00dfff"/>
<rect x="110.4" y="1147.7" width="98.6" height="5.3" fill="#00efff"/>
<rect x="110.4" y="1143" width="98.6" height="5.3" fill="#00ffff"/>
<rect x="110.4" y="1138.3" width="98.6" height="5.3" fill="#10ffef"/>
<rect x="110.4" y="1133.6" width="98.6" height="5.3" fill="#20ffdf"/>
<rect x="110.4" y="1128.9" width="98.6" height="5.3" fill="#30ffcf"/>
<rect x="110.4" y="1124.2" width="98.6" height="5.3" fill="#40ffbf"/>
<rect x="110.4" y="1119.5" width="98.6" height="5.3" fill="#50ffaf"/>
<rect x="110.4" y="1114.8" width="98.6" height="5.3" fill="#60ff9f"/>
<rect x="110.4" y="1110.1" width="98.6" height="5.3" fill="#70ff8f"/>
<rect x="110.4" y="1105.4" width="98.6" height="5.3" fill="#80ff80"/>
<rect x="110.4" y="1100.7" width="98.6" height="5.3" fill="#8fff70"/>
<rect x="110.4" y="1096" width="98.6" height="5.3" fill="#9fff60"/>
<rect x="110.4" y="1091.3" width="98.6" height="5.3" fill="#afff50"/>
<rect x="110.4" y="1086.6" width="98.6" height="5.3" fill="#bfff40"/>
<rect x="110.4" y="1081.9" width="98.6" height="5.3" fill="#cfff30"/>
<rect x="110.4" y="1077.2" width="98.6" height="5.3" fill="#dfff20"/>
<rect x="110.4" y="1072.5" width="98.6" height="5.3" fill="#efff10"/>
<rect x="110.4" y="1067.8" width="98.6" height="5.3" fill="#ffff00"/>
<rect x="110.4" y="1063.1" width="98.6" height="5.3" fill="#ffef00"/>
<rect x="110.4" y="1058.4" width="98.6" height="5.3" fill="#ffdf00"/>
<rect x="110.4" y="1053.7" width="98.6" height="5.3" fill="#ffcf00"/>
<rect x="110.4" y="1049" width="98.6" height="5.3" fill="#ffbf00"/>
<rect x="110.4" y="1044.3" width="98.6" height="5.3" fill="#ffaf00"/>
<rect x="110.4" y="1039.6" width="98.6" height="5.3" fill="#ff9f00"/>
<rect x="110.4" y="1034.9" width="98.6" height="5.3" fill="#ff8f00"/>
<rect x="110.4" y="1030.2" width="98.6" height="5.3" fill="#ff8000"/>
<rect x="110.4" y="1025.5" width="98.6" height="5.3" fill="#ff7000"/>
<rect x="110.4" y="1020.8" width="98.6" height="5.3" fill="#ff6000"/>
<rect x="110.4" y="1016.1" width="98.6" height="5.3" fill="#ff5000"/>
<rect x="110.4" y="1011.4" width="98.6" height="5.3" fill="#ff4000"/>
<rect x="110.4" y="1006.7" width="98.6" height="5.3" fill="#ff3000"/>
<rect x="110.4" y="1002" width="98.6" height="5.3" fill="#ff2000"/>
<rect x="110.4" y="997.3" width="98.6" height="5.3" fill="#ff1000"/>
<rect x="110.4" y="992.6" width="98.6" height="5.3" fill="#ff0000"/>
<rect x="110.4" y="987.9" width="98.6" height="5.3" fill="#ef0000"/>
<rect x="110.4" y="983.2" width="98.6" height="5.3" fill="#df0000"/>
<rect x="110.4" y="978.5" width="98.6" height="5.3" fill="#cf0000"/>
<rect x="110.4" y="973.8" width="98.6" height="5.3" fill="#bf0000"/>
<rect x="110.4" y="969.1" width="98.6" height="5.3" fill="#af0000"/>
<rect x="110.4" y="964.4" width="98.6" height="5.3" fill="#9f0000"/>
<rect x="110.4" y="959.7" width="98.6" height="5.3" fill="#8f0000"/>
<rect x="110.4" y="955" width="98.6" height="5.3" fill="#800000"/>
</g>
<rect x="110.4" y="955" width="98.6" height="300.8" fill="none" stroke="#1a1a1a" stroke-width="2" stroke-linejoin="round"/>
<path d="M209 1105.3h-3" stroke="#1a1a1a" stroke-width="1.4"/>
<text class="s" transform="translate(85.6 994) scale(0.985 1.055)" font-size="47.5" font-weight="bold" text-anchor="end" fill="#404040">0</text>
<text class="s" transform="translate(85.6 1125.1) scale(0.985 1.055)" font-size="47.5" font-weight="bold" text-anchor="end" fill="#404040">-5</text>
<text class="s" transform="translate(85.6 1271) scale(0.985 1.055)" font-size="47.5" font-weight="bold" text-anchor="end" fill="#404040">-10</text>
<text class="t" x="157" y="919.6" font-size="48.5" text-anchor="middle" fill="#000">[dB]</text>
</svg></body></html>
